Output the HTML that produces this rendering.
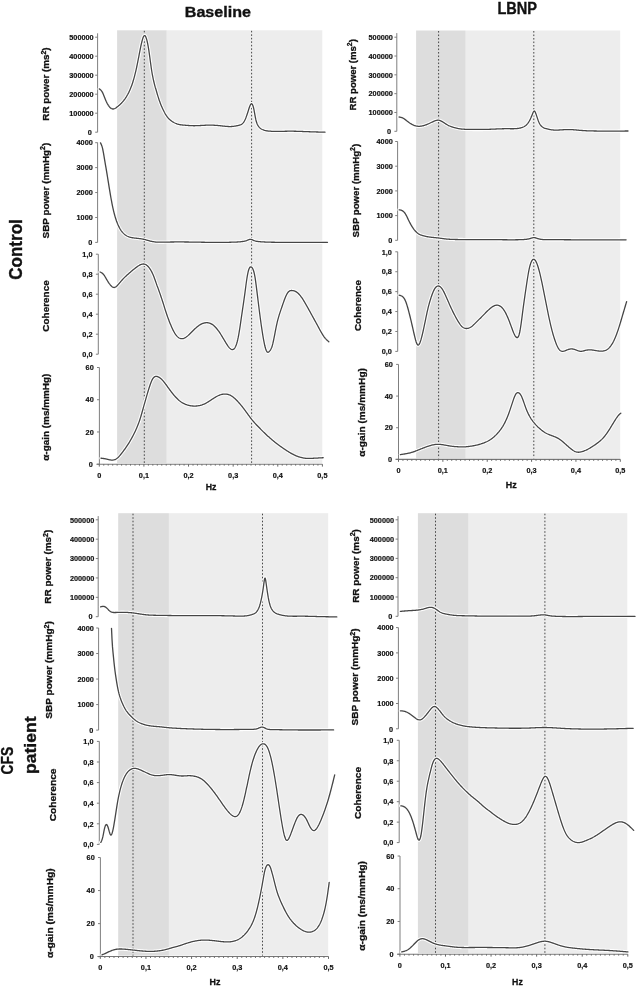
<!DOCTYPE html><html><head><meta charset="utf-8"><style>html,body{margin:0;padding:0;background:#fff;}svg{display:block;will-change:transform;}</style></head><body>
<svg width="636" height="987" viewBox="0 0 636 987" font-family='"Liberation Sans", sans-serif' font-weight="bold">
<rect width="636" height="987" fill="#fff"/>
<text x="184.8" y="17" font-size="15.3" textLength="66.1" lengthAdjust="spacingAndGlyphs" fill="#111" stroke="#111" stroke-width="0.35">Baseline</text>
<text x="497.4" y="14.0" font-size="15.6" textLength="39.6" lengthAdjust="spacingAndGlyphs" fill="#111" stroke="#111" stroke-width="0.35">LBNP</text>
<text transform="translate(21.5,279.8) rotate(-90)" font-size="18" textLength="60.6" lengthAdjust="spacingAndGlyphs" fill="#111" stroke="#111" stroke-width="0.35">Control</text>
<text transform="translate(12.5,774.4) rotate(-90)" font-size="16.6" textLength="27.6" lengthAdjust="spacingAndGlyphs" fill="#111" stroke="#111" stroke-width="0.35">CFS</text>
<text transform="translate(36.0,774.0) rotate(-90)" font-size="16.6" textLength="57.6" lengthAdjust="spacingAndGlyphs" fill="#111" stroke="#111" stroke-width="0.35">patient</text>
<rect x="166.7" y="30.3" width="155.60" height="432.80" fill="#ededed"/>
<rect x="117.1" y="30.3" width="49.60" height="432.80" fill="#dddddd"/>
<line x1="144.3" y1="30.8" x2="144.3" y2="463.1" stroke="#474747" stroke-width="1" stroke-dasharray="1.6 1.9"/>
<line x1="251.6" y1="30.8" x2="251.6" y2="463.1" stroke="#474747" stroke-width="1" stroke-dasharray="1.6 1.9"/>
<line x1="97.6" y1="33.3" x2="97.6" y2="132.2" stroke="#7f7f7f" stroke-width="1"/>
<line x1="95.20" y1="132.20" x2="97.6" y2="132.20" stroke="#7f7f7f" stroke-width="1"/>
<text x="91.90" y="134.95" font-size="7.9" text-anchor="end" textLength="4.06" lengthAdjust="spacingAndGlyphs" fill="#111" stroke="#111" stroke-width="0.2">0</text>
<line x1="95.20" y1="113.20" x2="97.6" y2="113.20" stroke="#7f7f7f" stroke-width="1"/>
<text x="93.70" y="115.95" font-size="7.9" text-anchor="end" textLength="24.38" lengthAdjust="spacingAndGlyphs" fill="#111" stroke="#111" stroke-width="0.2">100000</text>
<line x1="95.20" y1="94.20" x2="97.6" y2="94.20" stroke="#7f7f7f" stroke-width="1"/>
<text x="93.70" y="96.95" font-size="7.9" text-anchor="end" textLength="24.38" lengthAdjust="spacingAndGlyphs" fill="#111" stroke="#111" stroke-width="0.2">200000</text>
<line x1="95.20" y1="75.20" x2="97.6" y2="75.20" stroke="#7f7f7f" stroke-width="1"/>
<text x="93.70" y="77.95" font-size="7.9" text-anchor="end" textLength="24.38" lengthAdjust="spacingAndGlyphs" fill="#111" stroke="#111" stroke-width="0.2">300000</text>
<line x1="95.20" y1="56.20" x2="97.6" y2="56.20" stroke="#7f7f7f" stroke-width="1"/>
<text x="93.70" y="58.95" font-size="7.9" text-anchor="end" textLength="24.38" lengthAdjust="spacingAndGlyphs" fill="#111" stroke="#111" stroke-width="0.2">400000</text>
<line x1="95.20" y1="37.20" x2="97.6" y2="37.20" stroke="#7f7f7f" stroke-width="1"/>
<text x="93.70" y="39.95" font-size="7.9" text-anchor="end" textLength="24.38" lengthAdjust="spacingAndGlyphs" fill="#111" stroke="#111" stroke-width="0.2">500000</text>
<text transform="translate(49.00,84.0) rotate(-90)" font-size="9.6" text-anchor="middle" textLength="73.3" lengthAdjust="spacingAndGlyphs" fill="#111" stroke="#111" stroke-width="0.3">RR power (ms<tspan font-size="6.8" dy="-3.4">2</tspan><tspan dy="3.4">)</tspan></text>
<g fill="none" stroke-linejoin="round" stroke-linecap="round"><defs><path id="cTL_RR" d="M99.3 88.90 L99.8 89.25 100.3 89.63 100.8 90.07 101.3 90.62 101.8 91.29 102.3 92.13 102.8 93.11 103.3 94.23 103.8 95.42 104.3 96.68 104.8 97.95 105.3 99.20 105.8 100.41 106.3 101.55 106.8 102.60 107.3 103.57 107.8 104.46 108.3 105.27 108.8 106.00 109.3 106.66 109.8 107.23 110.3 107.73 110.8 108.14 111.3 108.48 111.8 108.73 112.3 108.90 112.8 108.99 113.3 108.99 113.8 108.91 114.3 108.75 114.8 108.53 115.3 108.26 115.8 107.95 116.3 107.60 116.8 107.22 117.3 106.83 117.8 106.43 118.3 106.02 118.8 105.59 119.3 105.15 119.8 104.70 120.3 104.23 120.8 103.74 121.3 103.24 121.8 102.71 122.3 102.17 122.8 101.60 123.3 101.01 123.8 100.39 124.3 99.74 124.8 99.07 125.3 98.36 125.8 97.62 126.3 96.85 126.8 96.03 127.3 95.18 127.8 94.29 128.3 93.35 128.8 92.37 129.3 91.33 129.8 90.23 130.3 89.07 130.8 87.84 131.3 86.54 131.8 85.17 132.3 83.72 132.8 82.18 133.3 80.56 133.8 78.85 134.3 77.05 134.8 75.14 135.3 73.14 135.8 71.03 136.3 68.81 136.8 66.50 137.3 64.10 137.8 61.63 138.3 59.11 138.8 56.56 139.3 53.99 139.8 51.43 140.3 48.91 140.8 46.48 141.3 44.17 141.8 42.03 142.3 40.09 142.8 38.41 143.3 37.07 143.8 36.11 144.3 35.61 144.8 35.59 145.3 36.04 145.8 36.92 146.3 38.23 146.8 39.92 147.3 41.98 147.8 44.40 148.3 47.15 148.8 50.22 149.3 53.61 149.8 57.23 150.3 60.98 150.8 64.70 151.3 68.26 151.8 71.52 152.3 74.41 152.8 76.99 153.3 79.33 153.8 81.50 154.3 83.57 154.8 85.54 155.3 87.44 155.9 89.26 156.4 91.03 156.9 92.76 157.4 94.45 157.9 96.09 158.4 97.68 158.9 99.21 159.4 100.68 159.9 102.09 160.4 103.43 160.9 104.71 161.4 105.93 161.9 107.10 162.4 108.22 162.9 109.30 163.4 110.34 163.9 111.33 164.4 112.29 164.9 113.20 165.4 114.07 165.9 114.88 166.4 115.65 166.9 116.36 167.4 117.03 167.9 117.64 168.4 118.21 168.9 118.74 169.4 119.23 169.9 119.69 170.4 120.12 170.9 120.52 171.4 120.90 171.9 121.26 172.4 121.60 172.9 121.92 173.4 122.22 173.9 122.51 174.4 122.78 174.9 123.03 175.4 123.26 175.9 123.48 176.4 123.68 176.9 123.87 177.4 124.04 177.9 124.19 178.4 124.33 178.9 124.45 179.4 124.57 179.9 124.67 180.4 124.75 180.9 124.83 181.4 124.90 181.9 124.96 182.4 125.02 182.9 125.07 183.4 125.11 183.9 125.15 184.4 125.19 184.9 125.22 185.4 125.26 185.9 125.29 186.4 125.33 186.9 125.37 187.4 125.40 187.9 125.44 188.4 125.48 188.9 125.52 189.4 125.56 189.9 125.59 190.4 125.62 190.9 125.65 191.4 125.68 191.9 125.70 192.4 125.71 192.9 125.72 193.4 125.73 193.9 125.73 194.4 125.73 194.9 125.73 195.4 125.72 195.9 125.71 196.4 125.69 196.9 125.68 197.4 125.66 197.9 125.64 198.4 125.61 198.9 125.59 199.4 125.56 199.9 125.54 200.4 125.51 200.9 125.48 201.4 125.45 201.9 125.42 202.4 125.39 202.9 125.36 203.4 125.34 203.9 125.31 204.4 125.28 204.9 125.26 205.4 125.24 205.9 125.22 206.4 125.20 206.9 125.18 207.4 125.17 207.9 125.16 208.4 125.15 208.9 125.15 209.4 125.14 209.9 125.14 210.4 125.15 210.9 125.15 211.4 125.16 211.9 125.17 212.4 125.18 212.9 125.20 213.4 125.21 213.9 125.23 214.4 125.26 214.9 125.28 215.4 125.31 215.9 125.34 216.4 125.38 216.9 125.42 217.4 125.45 217.9 125.50 218.4 125.54 218.9 125.59 219.4 125.64 219.9 125.69 220.4 125.75 220.9 125.81 221.4 125.86 221.9 125.92 222.4 125.98 222.9 126.04 223.4 126.10 223.9 126.15 224.4 126.21 224.9 126.26 225.4 126.31 225.9 126.35 226.4 126.40 226.9 126.43 227.4 126.47 227.9 126.50 228.4 126.52 228.9 126.53 229.4 126.54 229.9 126.55 230.4 126.54 230.9 126.53 231.4 126.51 231.9 126.48 232.4 126.44 232.9 126.39 233.4 126.34 233.9 126.28 234.4 126.21 234.9 126.13 235.4 126.04 235.9 125.95 236.4 125.85 236.9 125.75 237.4 125.64 237.9 125.52 238.4 125.40 238.9 125.27 239.4 125.14 239.9 125.00 240.4 124.83 240.9 124.63 241.4 124.37 241.9 124.05 242.4 123.65 242.9 123.16 243.4 122.56 243.9 121.84 244.4 120.99 244.9 120.01 245.4 118.90 245.9 117.68 246.4 116.36 246.9 114.96 247.4 113.48 247.9 111.93 248.4 110.34 248.9 108.75 249.4 107.25 249.9 105.92 250.4 104.84 250.9 104.09 251.4 103.75 251.9 103.88 252.4 104.50 252.9 105.63 253.4 107.27 253.9 109.45 254.4 112.08 254.9 114.89 255.4 117.61 255.9 119.96 256.4 121.83 256.9 123.30 257.4 124.46 257.9 125.38 258.4 126.16 258.9 126.83 259.4 127.41 259.9 127.91 260.4 128.34 260.9 128.71 261.4 129.02 261.9 129.29 262.4 129.53 262.9 129.75 263.4 129.94 263.9 130.12 264.4 130.28 264.9 130.42 265.4 130.54 265.9 130.66 266.4 130.76 266.9 130.84 267.4 130.92 267.9 130.99 268.4 131.05 269.0 131.10 269.5 131.14 270.0 131.18 270.5 131.22 271.0 131.25 271.5 131.28 272.0 131.30 272.5 131.32 273.0 131.34 273.5 131.36 274.0 131.37 274.5 131.39 275.0 131.39 275.5 131.40 276.0 131.40 276.5 131.41 277.0 131.41 277.5 131.41 278.0 131.40 278.5 131.40 279.0 131.39 279.5 131.38 280.0 131.38 280.5 131.37 281.0 131.36 281.5 131.35 282.0 131.34 282.5 131.32 283.0 131.31 283.5 131.30 284.0 131.29 284.5 131.28 285.0 131.27 285.5 131.25 286.0 131.24 286.5 131.23 287.0 131.23 287.5 131.22 288.0 131.21 288.5 131.20 289.0 131.20 289.5 131.20 290.0 131.20 290.5 131.20 291.0 131.20 291.5 131.20 292.0 131.20 292.5 131.21 293.0 131.22 293.5 131.22 294.0 131.23 294.5 131.24 295.0 131.25 295.5 131.26 296.0 131.27 296.5 131.29 297.0 131.30 297.5 131.32 298.0 131.33 298.5 131.35 299.0 131.36 299.5 131.38 300.0 131.40 300.5 131.42 301.0 131.43 301.5 131.45 302.0 131.47 302.5 131.49 303.0 131.51 303.5 131.53 304.0 131.55 304.5 131.57 305.0 131.59 305.5 131.61 306.0 131.63 306.5 131.65 307.0 131.67 307.5 131.68 308.0 131.70 308.5 131.72 309.0 131.74 309.5 131.76 310.0 131.77 310.5 131.79 311.0 131.81 311.5 131.82 312.0 131.84 312.5 131.86 313.0 131.87 313.5 131.89 314.0 131.90 314.5 131.92 315.0 131.93 315.5 131.95 316.0 131.96 316.5 131.98 317.0 131.99 317.5 132.00 318.0 132.02 318.5 132.03 319.0 132.04 319.5 132.06 320.0 132.07 320.5 132.08 321.0 132.10 321.5 132.11 322.0 132.12 322.5 132.14 323.0 132.15 323.5 132.16 324.0 132.17 324.5 132.19 325.0 132.20"/></defs><use href="#cTL_RR" stroke="#fff" stroke-width="3.4"/><use href="#cTL_RR" stroke="#464646" stroke-width="1.3"/></g>
<line x1="97.6" y1="142.5" x2="97.6" y2="242.4" stroke="#7f7f7f" stroke-width="1"/>
<line x1="95.20" y1="242.40" x2="97.6" y2="242.40" stroke="#7f7f7f" stroke-width="1"/>
<text x="92.30" y="245.15" font-size="7.9" text-anchor="end" textLength="4.06" lengthAdjust="spacingAndGlyphs" fill="#111" stroke="#111" stroke-width="0.2">0</text>
<line x1="95.20" y1="217.47" x2="97.6" y2="217.47" stroke="#7f7f7f" stroke-width="1"/>
<text x="92.80" y="220.22" font-size="7.9" text-anchor="end" textLength="16.25" lengthAdjust="spacingAndGlyphs" fill="#111" stroke="#111" stroke-width="0.2">1000</text>
<line x1="95.20" y1="192.55" x2="97.6" y2="192.55" stroke="#7f7f7f" stroke-width="1"/>
<text x="92.80" y="195.30" font-size="7.9" text-anchor="end" textLength="16.25" lengthAdjust="spacingAndGlyphs" fill="#111" stroke="#111" stroke-width="0.2">2000</text>
<line x1="95.20" y1="167.62" x2="97.6" y2="167.62" stroke="#7f7f7f" stroke-width="1"/>
<text x="92.80" y="170.38" font-size="7.9" text-anchor="end" textLength="16.25" lengthAdjust="spacingAndGlyphs" fill="#111" stroke="#111" stroke-width="0.2">3000</text>
<line x1="95.20" y1="142.70" x2="97.6" y2="142.70" stroke="#7f7f7f" stroke-width="1"/>
<text x="92.80" y="145.45" font-size="7.9" text-anchor="end" textLength="16.25" lengthAdjust="spacingAndGlyphs" fill="#111" stroke="#111" stroke-width="0.2">4000</text>
<text transform="translate(48.60,190.6) rotate(-90)" font-size="9.6" text-anchor="middle" textLength="95.7" lengthAdjust="spacingAndGlyphs" fill="#111" stroke="#111" stroke-width="0.3">SBP power (mmHg<tspan font-size="6.8" dy="-3.4">2</tspan><tspan dy="3.4">)</tspan></text>
<g fill="none" stroke-linejoin="round" stroke-linecap="round"><defs><path id="cTL_SBP" d="M100.5 142.90 L101.0 143.87 101.5 144.99 102.0 146.39 102.5 148.20 103.0 150.51 103.5 153.18 104.0 156.09 104.5 159.10 105.0 162.08 105.5 165.02 106.0 167.95 106.5 170.90 107.0 173.91 107.5 176.98 108.0 180.08 108.5 183.21 109.0 186.32 109.5 189.41 110.0 192.44 110.5 195.39 111.0 198.24 111.5 200.97 112.0 203.57 112.5 206.03 113.0 208.36 113.5 210.55 114.0 212.60 114.5 214.52 115.0 216.31 115.5 217.98 116.0 219.53 116.5 220.99 117.0 222.34 117.5 223.61 118.0 224.79 118.5 225.89 119.0 226.92 119.5 227.87 120.0 228.76 120.5 229.58 121.0 230.35 121.5 231.06 122.0 231.72 122.5 232.33 123.0 232.89 123.5 233.40 124.0 233.88 124.5 234.32 125.0 234.71 125.5 235.08 126.0 235.41 126.5 235.72 127.0 236.00 127.5 236.25 128.0 236.48 128.5 236.69 129.0 236.88 129.5 237.04 130.0 237.20 130.5 237.33 131.0 237.45 131.5 237.56 132.0 237.66 132.5 237.75 133.0 237.83 133.5 237.91 134.0 237.98 134.5 238.04 135.0 238.10 135.5 238.16 136.0 238.21 136.5 238.26 137.0 238.31 137.5 238.36 138.0 238.42 138.5 238.47 139.0 238.53 139.5 238.58 140.0 238.65 140.5 238.71 141.0 238.79 141.5 238.86 142.0 238.95 142.5 239.04 143.0 239.14 143.5 239.24 144.0 239.35 144.5 239.47 145.0 239.60 145.5 239.73 146.0 239.87 146.5 240.01 147.0 240.16 147.5 240.30 148.0 240.45 148.5 240.59 149.0 240.73 149.5 240.87 150.0 241.01 150.5 241.13 151.0 241.25 151.5 241.37 152.0 241.47 152.5 241.57 153.0 241.65 153.5 241.73 154.0 241.81 154.5 241.87 155.0 241.93 155.5 241.99 156.0 242.03 156.5 242.07 157.0 242.11 157.5 242.14 158.0 242.16 158.5 242.18 159.0 242.20 159.5 242.21 160.0 242.22 160.5 242.22 161.0 242.22 161.5 242.22 162.0 242.22 162.5 242.21 163.0 242.20 163.5 242.19 164.0 242.18 164.5 242.17 165.0 242.16 165.5 242.14 166.0 242.13 166.5 242.11 167.0 242.10 167.5 242.09 168.0 242.07 168.5 242.06 169.0 242.05 169.5 242.04 170.0 242.03 170.5 242.02 171.0 242.01 171.5 242.01 172.0 242.00 172.5 241.99 173.0 241.99 173.5 241.98 174.0 241.98 174.5 241.97 175.0 241.97 175.5 241.96 176.0 241.96 176.5 241.96 177.0 241.96 177.5 241.96 178.0 241.95 178.5 241.95 179.0 241.95 179.5 241.95 180.0 241.95 180.5 241.96 181.0 241.96 181.5 241.96 182.0 241.96 182.5 241.96 183.0 241.97 183.5 241.97 184.0 241.97 184.5 241.98 185.0 241.98 185.5 241.99 186.0 241.99 186.5 242.00 187.0 242.00 187.5 242.01 188.0 242.01 188.5 242.02 189.0 242.03 189.5 242.03 190.0 242.04 190.5 242.05 191.0 242.05 191.5 242.06 192.0 242.07 192.5 242.08 193.0 242.08 193.5 242.09 194.0 242.10 194.5 242.11 195.0 242.12 195.5 242.12 196.0 242.13 196.5 242.14 197.0 242.15 197.5 242.16 198.0 242.17 198.5 242.17 199.0 242.18 199.5 242.19 200.0 242.20 200.5 242.21 201.0 242.22 201.5 242.23 202.0 242.23 202.5 242.24 203.0 242.25 203.5 242.26 204.0 242.27 204.5 242.27 205.0 242.28 205.5 242.29 206.0 242.30 206.5 242.30 207.0 242.31 207.5 242.32 208.0 242.32 208.5 242.33 209.0 242.34 209.5 242.34 210.0 242.35 210.5 242.35 211.0 242.36 211.5 242.36 212.0 242.37 212.5 242.37 213.0 242.38 213.5 242.38 214.0 242.38 214.5 242.39 215.0 242.39 215.5 242.39 216.0 242.39 216.5 242.40 217.0 242.40 217.5 242.40 218.0 242.40 218.5 242.40 219.0 242.40 219.5 242.40 220.0 242.40 220.5 242.39 221.0 242.39 221.5 242.39 222.0 242.39 222.5 242.38 223.0 242.38 223.5 242.37 224.0 242.37 224.5 242.36 225.0 242.36 225.5 242.35 226.0 242.34 226.5 242.34 227.0 242.33 227.5 242.32 228.0 242.31 228.5 242.30 229.0 242.29 229.5 242.27 230.0 242.26 230.5 242.25 231.0 242.24 231.5 242.22 232.0 242.21 232.5 242.19 233.0 242.17 233.5 242.16 234.0 242.14 234.5 242.12 235.0 242.10 235.5 242.08 236.0 242.06 236.5 242.04 237.0 242.01 237.5 241.98 238.0 241.95 238.5 241.92 239.0 241.89 239.5 241.85 240.0 241.80 240.5 241.76 241.0 241.70 241.5 241.65 242.0 241.58 242.5 241.51 243.0 241.44 243.5 241.36 244.0 241.27 244.5 241.16 245.0 241.05 245.5 240.92 246.0 240.77 246.5 240.61 247.0 240.42 247.5 240.21 248.0 239.99 248.5 239.78 249.0 239.58 249.5 239.42 250.0 239.32 250.5 239.30 251.0 239.37 251.5 239.50 252.0 239.68 252.5 239.90 253.0 240.13 253.5 240.36 254.0 240.56 254.5 240.75 255.0 240.91 255.5 241.05 256.0 241.17 256.5 241.28 257.0 241.37 257.5 241.45 258.0 241.51 258.5 241.57 259.0 241.62 259.5 241.67 260.0 241.71 260.5 241.75 261.0 241.79 261.5 241.82 262.0 241.86 262.5 241.89 263.0 241.92 263.5 241.95 264.0 241.97 264.5 242.00 265.0 242.02 265.5 242.05 266.0 242.07 266.5 242.09 267.0 242.11 267.5 242.13 268.0 242.14 268.5 242.16 269.0 242.17 269.5 242.18 270.0 242.20 270.5 242.21 271.0 242.22 271.5 242.23 272.0 242.24 272.5 242.25 273.0 242.25 273.5 242.26 274.0 242.27 274.5 242.27 275.0 242.28 275.5 242.28 276.0 242.29 276.5 242.29 277.0 242.30 277.5 242.30 278.0 242.31 278.5 242.31 279.0 242.31 279.5 242.32 280.0 242.32 280.5 242.33 281.0 242.33 281.5 242.33 282.0 242.34 282.5 242.34 283.0 242.34 283.5 242.34 284.0 242.35 284.5 242.35 285.0 242.35 285.5 242.36 286.0 242.36 286.5 242.36 287.0 242.36 287.5 242.36 288.0 242.37 288.5 242.37 289.0 242.37 289.5 242.37 290.0 242.37 290.5 242.37 291.0 242.38 291.5 242.38 292.0 242.38 292.5 242.38 293.0 242.38 293.5 242.38 294.0 242.38 294.5 242.38 295.0 242.38 295.5 242.38 296.0 242.38 296.5 242.38 297.0 242.38 297.5 242.38 298.0 242.38 298.5 242.38 299.0 242.38 299.5 242.38 300.0 242.38 300.5 242.38 301.0 242.38 301.5 242.38 302.0 242.38 302.5 242.38 303.0 242.38 303.5 242.38 304.0 242.38 304.5 242.38 305.0 242.38 305.5 242.38 306.0 242.38 306.5 242.38 307.0 242.37 307.5 242.37 308.0 242.37 308.5 242.37 309.0 242.37 309.5 242.37 310.0 242.37 310.5 242.37 311.0 242.36 311.5 242.36 312.0 242.36 312.5 242.36 313.0 242.36 313.5 242.36 314.0 242.35 314.5 242.35 315.0 242.35 315.5 242.35 316.0 242.35 316.5 242.35 317.0 242.34 317.5 242.34 318.0 242.34 318.5 242.34 319.0 242.34 319.5 242.33 320.0 242.33 320.5 242.33 321.0 242.33 321.5 242.33 322.0 242.32 322.5 242.32 323.0 242.32 323.5 242.32 324.0 242.32 324.5 242.31 325.0 242.31 325.5 242.31 326.0 242.31 326.5 242.30 327.0 242.30 327.5 242.30"/></defs><use href="#cTL_SBP" stroke="#fff" stroke-width="3.4"/><use href="#cTL_SBP" stroke="#464646" stroke-width="1.3"/></g>
<line x1="98.3" y1="254.2" x2="98.3" y2="354.2" stroke="#7f7f7f" stroke-width="1"/>
<line x1="95.90" y1="354.20" x2="98.3" y2="354.20" stroke="#7f7f7f" stroke-width="1"/>
<text x="92.50" y="356.95" font-size="7.9" text-anchor="end" textLength="10.16" lengthAdjust="spacingAndGlyphs" fill="#111" stroke="#111" stroke-width="0.2">0,0</text>
<line x1="95.90" y1="334.20" x2="98.3" y2="334.20" stroke="#7f7f7f" stroke-width="1"/>
<text x="92.50" y="336.95" font-size="7.9" text-anchor="end" textLength="10.16" lengthAdjust="spacingAndGlyphs" fill="#111" stroke="#111" stroke-width="0.2">0,2</text>
<line x1="95.90" y1="314.20" x2="98.3" y2="314.20" stroke="#7f7f7f" stroke-width="1"/>
<text x="92.50" y="316.95" font-size="7.9" text-anchor="end" textLength="10.16" lengthAdjust="spacingAndGlyphs" fill="#111" stroke="#111" stroke-width="0.2">0,4</text>
<line x1="95.90" y1="294.20" x2="98.3" y2="294.20" stroke="#7f7f7f" stroke-width="1"/>
<text x="92.50" y="296.95" font-size="7.9" text-anchor="end" textLength="10.16" lengthAdjust="spacingAndGlyphs" fill="#111" stroke="#111" stroke-width="0.2">0,6</text>
<line x1="95.90" y1="274.20" x2="98.3" y2="274.20" stroke="#7f7f7f" stroke-width="1"/>
<text x="92.50" y="276.95" font-size="7.9" text-anchor="end" textLength="10.16" lengthAdjust="spacingAndGlyphs" fill="#111" stroke="#111" stroke-width="0.2">0,8</text>
<line x1="95.90" y1="254.20" x2="98.3" y2="254.20" stroke="#7f7f7f" stroke-width="1"/>
<text x="92.50" y="256.95" font-size="7.9" text-anchor="end" textLength="10.16" lengthAdjust="spacingAndGlyphs" fill="#111" stroke="#111" stroke-width="0.2">1,0</text>
<text transform="translate(48.70,306.0) rotate(-90)" font-size="9.6" text-anchor="middle" textLength="51.4" lengthAdjust="spacingAndGlyphs" fill="#111" stroke="#111" stroke-width="0.3">Coherence</text>
<g fill="none" stroke-linejoin="round" stroke-linecap="round"><defs><path id="cTL_COH" d="M100.1 272.00 L100.6 272.24 101.1 272.49 101.6 272.77 102.1 273.11 102.6 273.50 103.1 273.98 103.6 274.56 104.1 275.23 104.6 275.98 105.1 276.78 105.6 277.62 106.1 278.49 106.6 279.36 107.1 280.21 107.6 281.03 108.1 281.82 108.6 282.58 109.1 283.30 109.6 283.97 110.1 284.61 110.6 285.21 111.1 285.76 111.6 286.26 112.1 286.69 112.6 287.04 113.1 287.30 113.6 287.46 114.1 287.50 114.6 287.42 115.1 287.24 115.6 286.96 116.1 286.60 116.6 286.17 117.1 285.70 117.6 285.18 118.1 284.64 118.6 284.08 119.1 283.51 119.6 282.92 120.1 282.33 120.6 281.74 121.1 281.15 121.6 280.56 122.1 279.99 122.6 279.44 123.1 278.90 123.6 278.37 124.1 277.86 124.6 277.37 125.1 276.88 125.6 276.41 126.1 275.94 126.6 275.48 127.1 275.03 127.6 274.58 128.1 274.14 128.6 273.70 129.1 273.27 129.6 272.83 130.1 272.40 130.6 271.97 131.1 271.54 131.6 271.12 132.1 270.70 132.6 270.28 133.1 269.87 133.6 269.46 134.1 269.06 134.6 268.66 135.1 268.26 135.6 267.87 136.1 267.49 136.6 267.12 137.1 266.76 137.6 266.41 138.1 266.08 138.6 265.76 139.1 265.46 139.6 265.19 140.1 264.93 140.6 264.69 141.1 264.48 141.6 264.31 142.1 264.16 142.6 264.06 143.1 264.00 143.6 263.99 144.1 264.03 144.6 264.13 145.1 264.30 145.6 264.52 146.1 264.80 146.6 265.14 147.1 265.53 147.6 265.98 148.1 266.49 148.6 267.05 149.1 267.66 149.6 268.33 150.1 269.06 150.6 269.86 151.1 270.71 151.6 271.64 152.1 272.63 152.6 273.70 153.1 274.84 153.6 276.06 154.1 277.34 154.6 278.68 155.1 280.06 155.6 281.47 156.1 282.90 156.6 284.34 157.1 285.78 157.7 287.21 158.2 288.63 158.7 290.03 159.2 291.44 159.7 292.85 160.2 294.27 160.7 295.71 161.2 297.17 161.7 298.66 162.2 300.18 162.7 301.74 163.2 303.32 163.7 304.91 164.2 306.51 164.7 308.11 165.2 309.69 165.7 311.24 166.2 312.77 166.7 314.26 167.2 315.71 167.7 317.12 168.2 318.50 168.7 319.84 169.2 321.15 169.7 322.42 170.2 323.66 170.7 324.87 171.2 326.05 171.7 327.19 172.2 328.29 172.7 329.35 173.2 330.35 173.7 331.31 174.2 332.20 174.7 333.04 175.2 333.83 175.7 334.55 176.2 335.22 176.7 335.83 177.2 336.38 177.7 336.87 178.2 337.30 178.7 337.68 179.2 337.99 179.7 338.25 180.2 338.45 180.7 338.60 181.2 338.69 181.7 338.72 182.2 338.70 182.7 338.62 183.2 338.51 183.7 338.34 184.2 338.14 184.7 337.89 185.2 337.61 185.7 337.30 186.2 336.96 186.7 336.60 187.2 336.21 187.7 335.80 188.2 335.37 188.7 334.92 189.2 334.46 189.7 333.99 190.2 333.51 190.7 333.02 191.2 332.52 191.7 332.02 192.2 331.52 192.7 331.02 193.2 330.52 193.7 330.03 194.2 329.54 194.7 329.06 195.2 328.59 195.7 328.13 196.2 327.68 196.7 327.24 197.2 326.82 197.7 326.41 198.2 326.02 198.7 325.65 199.2 325.30 199.7 324.97 200.2 324.66 200.7 324.38 201.2 324.11 201.7 323.87 202.2 323.65 202.7 323.45 203.2 323.28 203.7 323.12 204.2 322.99 204.7 322.89 205.2 322.80 205.7 322.74 206.2 322.71 206.7 322.70 207.2 322.71 207.7 322.75 208.2 322.82 208.7 322.91 209.2 323.03 209.7 323.18 210.2 323.36 210.7 323.57 211.2 323.81 211.7 324.08 212.2 324.39 212.7 324.73 213.2 325.10 213.7 325.51 214.2 325.95 214.7 326.42 215.2 326.92 215.7 327.46 216.2 328.02 216.7 328.61 217.2 329.23 217.7 329.87 218.2 330.54 218.7 331.23 219.2 331.95 219.7 332.69 220.2 333.45 220.7 334.23 221.2 335.02 221.7 335.83 222.2 336.64 222.7 337.47 223.2 338.30 223.7 339.14 224.2 339.98 224.7 340.81 225.2 341.65 225.7 342.48 226.2 343.30 226.7 344.10 227.2 344.87 227.7 345.62 228.2 346.32 228.7 346.97 229.2 347.57 229.7 348.11 230.2 348.58 230.7 348.98 231.2 349.28 231.7 349.49 232.2 349.59 232.7 349.58 233.2 349.44 233.7 349.15 234.2 348.70 234.7 348.07 235.2 347.25 235.7 346.22 236.2 344.97 236.7 343.48 237.2 341.74 237.7 339.73 238.2 337.44 238.7 334.84 239.2 331.96 239.7 328.84 240.2 325.55 240.7 322.15 241.2 318.69 241.7 315.24 242.2 311.84 242.7 308.46 243.2 305.08 243.7 301.66 244.2 298.16 244.7 294.54 245.2 290.80 245.7 287.00 246.2 283.28 246.7 279.75 247.2 276.56 247.7 273.80 248.2 271.55 248.7 269.77 249.2 268.45 249.7 267.56 250.2 267.05 250.7 266.86 251.2 266.95 251.7 267.27 252.2 267.84 252.7 268.67 253.2 269.77 253.7 271.21 254.2 273.09 254.7 275.51 255.2 278.47 255.7 281.87 256.2 285.60 256.7 289.55 257.2 293.60 257.7 297.69 258.2 301.75 258.7 305.79 259.2 309.77 259.7 313.67 260.2 317.47 260.7 321.17 261.2 324.73 261.7 328.17 262.2 331.46 262.7 334.60 263.2 337.57 263.7 340.36 264.2 342.94 264.7 345.27 265.2 347.29 265.7 348.99 266.2 350.34 266.7 351.33 267.2 351.98 267.7 352.26 268.2 352.23 268.7 351.96 269.2 351.50 269.7 350.94 270.2 350.31 270.7 349.53 271.2 348.54 271.8 347.26 272.3 345.62 272.8 343.68 273.3 341.49 273.8 339.11 274.3 336.59 274.8 334.01 275.3 331.41 275.8 328.85 276.3 326.39 276.8 324.09 277.3 321.95 277.8 319.95 278.3 318.09 278.8 316.34 279.3 314.68 279.8 313.10 280.3 311.58 280.8 310.10 281.3 308.65 281.8 307.21 282.3 305.76 282.8 304.30 283.3 302.86 283.8 301.44 284.3 300.06 284.8 298.73 285.3 297.47 285.8 296.29 286.3 295.20 286.8 294.22 287.3 293.36 287.8 292.63 288.3 292.03 288.8 291.54 289.3 291.17 289.8 290.88 290.3 290.69 290.8 290.56 291.3 290.51 291.8 290.50 292.3 290.54 292.8 290.61 293.3 290.71 293.8 290.83 294.3 290.98 294.8 291.17 295.3 291.38 295.8 291.63 296.3 291.92 296.8 292.24 297.3 292.60 297.8 293.01 298.3 293.46 298.8 293.96 299.3 294.49 299.8 295.07 300.3 295.69 300.8 296.34 301.3 297.02 301.8 297.73 302.3 298.47 302.8 299.23 303.3 300.02 303.8 300.83 304.3 301.65 304.8 302.49 305.3 303.35 305.8 304.21 306.3 305.09 306.8 305.97 307.3 306.86 307.8 307.76 308.3 308.66 308.8 309.57 309.3 310.48 309.8 311.40 310.3 312.31 310.8 313.23 311.3 314.14 311.8 315.05 312.3 315.96 312.8 316.87 313.3 317.78 313.8 318.68 314.3 319.58 314.8 320.49 315.3 321.39 315.8 322.30 316.3 323.21 316.8 324.13 317.3 325.05 317.8 325.97 318.3 326.90 318.8 327.83 319.3 328.77 319.8 329.70 320.3 330.63 320.8 331.54 321.3 332.43 321.8 333.30 322.3 334.14 322.8 334.95 323.3 335.71 323.8 336.43 324.3 337.11 324.8 337.74 325.3 338.33 325.8 338.89 326.3 339.42 326.8 339.92 327.3 340.41 327.8 340.88 328.3 341.34 328.8 341.80"/></defs><use href="#cTL_COH" stroke="#fff" stroke-width="3.4"/><use href="#cTL_COH" stroke="#464646" stroke-width="1.3"/></g>
<line x1="99.4" y1="367.5" x2="99.4" y2="464.2" stroke="#7f7f7f" stroke-width="1"/>
<line x1="97.00" y1="464.20" x2="99.4" y2="464.20" stroke="#7f7f7f" stroke-width="1"/>
<text x="92.90" y="466.95" font-size="7.9" text-anchor="end" textLength="4.06" lengthAdjust="spacingAndGlyphs" fill="#111" stroke="#111" stroke-width="0.2">0</text>
<line x1="97.00" y1="431.97" x2="99.4" y2="431.97" stroke="#7f7f7f" stroke-width="1"/>
<text x="93.70" y="434.72" font-size="7.9" text-anchor="end" textLength="8.13" lengthAdjust="spacingAndGlyphs" fill="#111" stroke="#111" stroke-width="0.2">20</text>
<line x1="97.00" y1="399.73" x2="99.4" y2="399.73" stroke="#7f7f7f" stroke-width="1"/>
<text x="93.70" y="402.48" font-size="7.9" text-anchor="end" textLength="8.13" lengthAdjust="spacingAndGlyphs" fill="#111" stroke="#111" stroke-width="0.2">40</text>
<line x1="97.00" y1="367.50" x2="99.4" y2="367.50" stroke="#7f7f7f" stroke-width="1"/>
<text x="93.70" y="370.25" font-size="7.9" text-anchor="end" textLength="8.13" lengthAdjust="spacingAndGlyphs" fill="#111" stroke="#111" stroke-width="0.2">60</text>
<text transform="translate(49.10,417.2) rotate(-90)" font-size="9.6" text-anchor="middle" textLength="87.1" lengthAdjust="spacingAndGlyphs" fill="#111" stroke="#111" stroke-width="0.3">α-gain (ms/mmHg)</text>
<g fill="none" stroke-linejoin="round" stroke-linecap="round"><defs><path id="cTL_GAIN" d="M101.0 458.20 L101.5 458.26 102.0 458.31 102.5 458.37 103.0 458.43 103.5 458.50 104.0 458.57 104.5 458.65 105.0 458.74 105.5 458.84 106.0 458.94 106.5 459.06 107.0 459.18 107.5 459.31 108.0 459.44 108.5 459.56 109.0 459.68 109.5 459.79 110.0 459.89 110.5 459.97 111.0 460.04 111.5 460.08 112.0 460.10 112.5 460.09 113.0 460.05 113.5 459.98 114.0 459.88 114.5 459.73 115.0 459.54 115.5 459.31 116.0 459.03 116.5 458.70 117.0 458.33 117.5 457.91 118.0 457.46 118.5 456.97 119.0 456.45 119.5 455.90 120.0 455.32 120.5 454.72 121.0 454.11 121.5 453.48 122.0 452.83 122.5 452.18 123.0 451.53 123.5 450.86 124.0 450.19 124.5 449.51 125.0 448.81 125.5 448.11 126.0 447.39 126.5 446.66 127.0 445.92 127.5 445.16 128.0 444.39 128.5 443.60 129.0 442.80 129.5 441.98 130.0 441.14 130.5 440.28 131.0 439.41 131.5 438.51 132.0 437.60 132.5 436.67 133.0 435.72 133.5 434.75 134.0 433.76 134.5 432.75 135.0 431.72 135.5 430.66 136.0 429.57 136.5 428.45 137.0 427.29 137.5 426.08 138.0 424.83 138.5 423.51 139.0 422.14 139.5 420.69 140.0 419.18 140.5 417.60 141.0 415.95 141.5 414.26 142.0 412.52 142.5 410.76 143.0 408.97 143.5 407.17 144.0 405.38 144.5 403.59 145.0 401.82 145.5 400.06 146.0 398.31 146.5 396.59 147.0 394.88 147.5 393.19 148.0 391.53 148.5 389.89 149.0 388.27 149.5 386.69 150.0 385.18 150.5 383.74 151.0 382.40 151.5 381.18 152.0 380.09 152.5 379.16 153.0 378.38 153.5 377.75 154.0 377.26 154.5 376.89 155.0 376.63 155.5 376.47 156.0 376.40 156.6 376.41 157.1 376.49 157.6 376.62 158.1 376.80 158.6 377.04 159.1 377.31 159.6 377.64 160.1 378.00 160.6 378.41 161.1 378.85 161.6 379.32 162.1 379.83 162.6 380.37 163.1 380.94 163.6 381.53 164.1 382.14 164.6 382.77 165.1 383.42 165.6 384.08 166.1 384.76 166.6 385.44 167.1 386.13 167.6 386.82 168.1 387.52 168.6 388.21 169.1 388.90 169.6 389.58 170.1 390.25 170.6 390.92 171.1 391.58 171.6 392.24 172.1 392.88 172.6 393.51 173.1 394.13 173.6 394.74 174.1 395.33 174.6 395.91 175.1 396.48 175.6 397.03 176.1 397.56 176.6 398.07 177.1 398.57 177.6 399.05 178.1 399.52 178.6 399.96 179.1 400.39 179.6 400.80 180.1 401.19 180.6 401.56 181.1 401.92 181.6 402.26 182.1 402.58 182.6 402.88 183.1 403.17 183.6 403.44 184.1 403.69 184.6 403.93 185.1 404.15 185.6 404.36 186.1 404.55 186.6 404.73 187.1 404.90 187.6 405.05 188.1 405.19 188.6 405.32 189.1 405.44 189.6 405.55 190.1 405.65 190.6 405.74 191.1 405.81 191.6 405.88 192.1 405.94 192.6 405.99 193.1 406.02 193.6 406.05 194.1 406.06 194.6 406.07 195.1 406.06 195.6 406.05 196.1 406.02 196.6 405.99 197.1 405.94 197.6 405.88 198.1 405.81 198.6 405.73 199.1 405.64 199.6 405.54 200.1 405.43 200.6 405.30 201.1 405.16 201.6 405.01 202.1 404.85 202.6 404.67 203.1 404.48 203.6 404.28 204.1 404.06 204.6 403.83 205.1 403.58 205.6 403.32 206.1 403.06 206.6 402.78 207.1 402.49 207.6 402.19 208.1 401.89 208.6 401.58 209.1 401.26 209.6 400.94 210.1 400.62 210.6 400.29 211.1 399.96 211.6 399.63 212.1 399.30 212.6 398.98 213.1 398.65 213.6 398.33 214.1 398.01 214.6 397.69 215.1 397.39 215.6 397.09 216.1 396.80 216.6 396.52 217.1 396.25 217.6 395.99 218.1 395.74 218.6 395.51 219.1 395.30 219.6 395.10 220.1 394.91 220.6 394.75 221.1 394.60 221.6 394.47 222.1 394.35 222.6 394.26 223.1 394.18 223.6 394.12 224.1 394.08 224.6 394.06 225.1 394.05 225.6 394.07 226.1 394.11 226.6 394.17 227.1 394.25 227.6 394.35 228.1 394.47 228.6 394.62 229.1 394.79 229.6 394.98 230.1 395.20 230.6 395.44 231.1 395.71 231.6 396.01 232.1 396.34 232.6 396.69 233.1 397.06 233.6 397.46 234.1 397.88 234.6 398.32 235.1 398.78 235.6 399.25 236.1 399.74 236.6 400.25 237.1 400.77 237.6 401.30 238.1 401.84 238.6 402.39 239.1 402.96 239.6 403.53 240.1 404.11 240.6 404.70 241.1 405.30 241.6 405.91 242.1 406.53 242.6 407.16 243.1 407.80 243.6 408.45 244.1 409.11 244.6 409.78 245.1 410.45 245.6 411.14 246.1 411.83 246.6 412.52 247.1 413.22 247.6 413.92 248.1 414.61 248.6 415.30 249.1 415.99 249.6 416.67 250.1 417.34 250.6 418.01 251.1 418.66 251.6 419.29 252.1 419.92 252.6 420.52 253.1 421.12 253.6 421.70 254.1 422.27 254.6 422.83 255.1 423.37 255.6 423.92 256.1 424.45 256.6 424.98 257.1 425.50 257.6 426.02 258.1 426.53 258.6 427.05 259.1 427.56 259.6 428.07 260.1 428.58 260.6 429.09 261.1 429.59 261.6 430.10 262.1 430.60 262.6 431.10 263.1 431.60 263.6 432.09 264.1 432.58 264.6 433.07 265.1 433.55 265.6 434.03 266.1 434.51 266.6 434.99 267.1 435.46 267.6 435.92 268.2 436.38 268.7 436.84 269.2 437.30 269.7 437.75 270.2 438.19 270.7 438.63 271.2 439.07 271.7 439.50 272.2 439.93 272.7 440.36 273.2 440.77 273.7 441.19 274.2 441.60 274.7 442.01 275.2 442.41 275.7 442.80 276.2 443.20 276.7 443.59 277.2 443.97 277.7 444.35 278.2 444.73 278.7 445.10 279.2 445.46 279.7 445.83 280.2 446.19 280.7 446.54 281.2 446.89 281.7 447.24 282.2 447.59 282.7 447.93 283.2 448.27 283.7 448.61 284.2 448.95 284.7 449.28 285.2 449.61 285.7 449.94 286.2 450.27 286.7 450.60 287.2 450.93 287.7 451.25 288.2 451.57 288.7 451.88 289.2 452.19 289.7 452.50 290.2 452.80 290.7 453.09 291.2 453.38 291.7 453.66 292.2 453.93 292.7 454.20 293.2 454.45 293.7 454.70 294.2 454.95 294.7 455.18 295.2 455.40 295.7 455.62 296.2 455.83 296.7 456.03 297.2 456.23 297.7 456.41 298.2 456.59 298.7 456.76 299.2 456.92 299.7 457.08 300.2 457.23 300.7 457.36 301.2 457.49 301.7 457.62 302.2 457.73 302.7 457.84 303.2 457.93 303.7 458.02 304.2 458.10 304.7 458.17 305.2 458.23 305.7 458.28 306.2 458.32 306.7 458.36 307.2 458.38 307.7 458.40 308.2 458.41 308.7 458.41 309.2 458.41 309.7 458.41 310.2 458.39 310.7 458.38 311.2 458.36 311.7 458.34 312.2 458.32 312.7 458.30 313.2 458.27 313.7 458.25 314.2 458.22 314.7 458.20 315.2 458.17 315.7 458.14 316.2 458.11 316.7 458.09 317.2 458.06 317.7 458.03 318.2 458.00 318.7 457.97 319.2 457.94 319.7 457.91 320.2 457.88 320.7 457.85 321.2 457.82 321.7 457.79 322.2 457.76 322.7 457.73 323.2 457.70"/></defs><use href="#cTL_GAIN" stroke="#fff" stroke-width="3.4"/><use href="#cTL_GAIN" stroke="#464646" stroke-width="1.3"/></g>
<line x1="96.4" y1="464.2" x2="322.4" y2="464.2" stroke="#777" stroke-width="1.1"/>
<line x1="99.30" y1="464.2" x2="99.30" y2="466.59999999999997" stroke="#666" stroke-width="1"/>
<line x1="103.76" y1="464.2" x2="103.76" y2="465.59999999999997" stroke="#666" stroke-width="1"/>
<line x1="108.22" y1="464.2" x2="108.22" y2="465.59999999999997" stroke="#666" stroke-width="1"/>
<line x1="112.69" y1="464.2" x2="112.69" y2="465.59999999999997" stroke="#666" stroke-width="1"/>
<line x1="117.15" y1="464.2" x2="117.15" y2="465.59999999999997" stroke="#666" stroke-width="1"/>
<line x1="121.61" y1="464.2" x2="121.61" y2="465.59999999999997" stroke="#666" stroke-width="1"/>
<line x1="126.07" y1="464.2" x2="126.07" y2="465.59999999999997" stroke="#666" stroke-width="1"/>
<line x1="130.53" y1="464.2" x2="130.53" y2="465.59999999999997" stroke="#666" stroke-width="1"/>
<line x1="135.00" y1="464.2" x2="135.00" y2="465.59999999999997" stroke="#666" stroke-width="1"/>
<line x1="139.46" y1="464.2" x2="139.46" y2="465.59999999999997" stroke="#666" stroke-width="1"/>
<line x1="143.92" y1="464.2" x2="143.92" y2="466.59999999999997" stroke="#666" stroke-width="1"/>
<line x1="148.38" y1="464.2" x2="148.38" y2="465.59999999999997" stroke="#666" stroke-width="1"/>
<line x1="152.84" y1="464.2" x2="152.84" y2="465.59999999999997" stroke="#666" stroke-width="1"/>
<line x1="157.31" y1="464.2" x2="157.31" y2="465.59999999999997" stroke="#666" stroke-width="1"/>
<line x1="161.77" y1="464.2" x2="161.77" y2="465.59999999999997" stroke="#666" stroke-width="1"/>
<line x1="166.23" y1="464.2" x2="166.23" y2="465.59999999999997" stroke="#666" stroke-width="1"/>
<line x1="170.69" y1="464.2" x2="170.69" y2="465.59999999999997" stroke="#666" stroke-width="1"/>
<line x1="175.15" y1="464.2" x2="175.15" y2="465.59999999999997" stroke="#666" stroke-width="1"/>
<line x1="179.62" y1="464.2" x2="179.62" y2="465.59999999999997" stroke="#666" stroke-width="1"/>
<line x1="184.08" y1="464.2" x2="184.08" y2="465.59999999999997" stroke="#666" stroke-width="1"/>
<line x1="188.54" y1="464.2" x2="188.54" y2="466.59999999999997" stroke="#666" stroke-width="1"/>
<line x1="193.00" y1="464.2" x2="193.00" y2="465.59999999999997" stroke="#666" stroke-width="1"/>
<line x1="197.46" y1="464.2" x2="197.46" y2="465.59999999999997" stroke="#666" stroke-width="1"/>
<line x1="201.93" y1="464.2" x2="201.93" y2="465.59999999999997" stroke="#666" stroke-width="1"/>
<line x1="206.39" y1="464.2" x2="206.39" y2="465.59999999999997" stroke="#666" stroke-width="1"/>
<line x1="210.85" y1="464.2" x2="210.85" y2="465.59999999999997" stroke="#666" stroke-width="1"/>
<line x1="215.31" y1="464.2" x2="215.31" y2="465.59999999999997" stroke="#666" stroke-width="1"/>
<line x1="219.77" y1="464.2" x2="219.77" y2="465.59999999999997" stroke="#666" stroke-width="1"/>
<line x1="224.24" y1="464.2" x2="224.24" y2="465.59999999999997" stroke="#666" stroke-width="1"/>
<line x1="228.70" y1="464.2" x2="228.70" y2="465.59999999999997" stroke="#666" stroke-width="1"/>
<line x1="233.16" y1="464.2" x2="233.16" y2="466.59999999999997" stroke="#666" stroke-width="1"/>
<line x1="237.62" y1="464.2" x2="237.62" y2="465.59999999999997" stroke="#666" stroke-width="1"/>
<line x1="242.08" y1="464.2" x2="242.08" y2="465.59999999999997" stroke="#666" stroke-width="1"/>
<line x1="246.55" y1="464.2" x2="246.55" y2="465.59999999999997" stroke="#666" stroke-width="1"/>
<line x1="251.01" y1="464.2" x2="251.01" y2="465.59999999999997" stroke="#666" stroke-width="1"/>
<line x1="255.47" y1="464.2" x2="255.47" y2="465.59999999999997" stroke="#666" stroke-width="1"/>
<line x1="259.93" y1="464.2" x2="259.93" y2="465.59999999999997" stroke="#666" stroke-width="1"/>
<line x1="264.39" y1="464.2" x2="264.39" y2="465.59999999999997" stroke="#666" stroke-width="1"/>
<line x1="268.86" y1="464.2" x2="268.86" y2="465.59999999999997" stroke="#666" stroke-width="1"/>
<line x1="273.32" y1="464.2" x2="273.32" y2="465.59999999999997" stroke="#666" stroke-width="1"/>
<line x1="277.78" y1="464.2" x2="277.78" y2="466.59999999999997" stroke="#666" stroke-width="1"/>
<line x1="282.24" y1="464.2" x2="282.24" y2="465.59999999999997" stroke="#666" stroke-width="1"/>
<line x1="286.70" y1="464.2" x2="286.70" y2="465.59999999999997" stroke="#666" stroke-width="1"/>
<line x1="291.17" y1="464.2" x2="291.17" y2="465.59999999999997" stroke="#666" stroke-width="1"/>
<line x1="295.63" y1="464.2" x2="295.63" y2="465.59999999999997" stroke="#666" stroke-width="1"/>
<line x1="300.09" y1="464.2" x2="300.09" y2="465.59999999999997" stroke="#666" stroke-width="1"/>
<line x1="304.55" y1="464.2" x2="304.55" y2="465.59999999999997" stroke="#666" stroke-width="1"/>
<line x1="309.01" y1="464.2" x2="309.01" y2="465.59999999999997" stroke="#666" stroke-width="1"/>
<line x1="313.48" y1="464.2" x2="313.48" y2="465.59999999999997" stroke="#666" stroke-width="1"/>
<line x1="317.94" y1="464.2" x2="317.94" y2="465.59999999999997" stroke="#666" stroke-width="1"/>
<line x1="322.40" y1="464.2" x2="322.40" y2="466.59999999999997" stroke="#666" stroke-width="1"/>
<text x="99.30" y="477.85" font-size="7.9" text-anchor="middle" textLength="4.06" lengthAdjust="spacingAndGlyphs" fill="#111" stroke="#111" stroke-width="0.2">0</text>
<text x="143.92" y="477.85" font-size="7.9" text-anchor="middle" textLength="10.16" lengthAdjust="spacingAndGlyphs" fill="#111" stroke="#111" stroke-width="0.2">0,1</text>
<text x="188.54" y="477.85" font-size="7.9" text-anchor="middle" textLength="10.16" lengthAdjust="spacingAndGlyphs" fill="#111" stroke="#111" stroke-width="0.2">0,2</text>
<text x="233.16" y="477.85" font-size="7.9" text-anchor="middle" textLength="10.16" lengthAdjust="spacingAndGlyphs" fill="#111" stroke="#111" stroke-width="0.2">0,3</text>
<text x="277.78" y="477.85" font-size="7.9" text-anchor="middle" textLength="10.16" lengthAdjust="spacingAndGlyphs" fill="#111" stroke="#111" stroke-width="0.2">0,4</text>
<text x="322.40" y="477.85" font-size="7.9" text-anchor="middle" textLength="10.16" lengthAdjust="spacingAndGlyphs" fill="#111" stroke="#111" stroke-width="0.2">0,5</text>
<text x="205.8" y="489.6" font-size="9.7" textLength="10.7" lengthAdjust="spacingAndGlyphs" fill="#111" stroke="#111" stroke-width="0.3">Hz</text>
<rect x="465.6" y="30.5" width="154.60" height="427.80" fill="#ededed"/>
<rect x="416.1" y="30.5" width="49.50" height="427.80" fill="#dddddd"/>
<line x1="438.6" y1="31.0" x2="438.6" y2="458.3" stroke="#474747" stroke-width="1" stroke-dasharray="1.6 1.9"/>
<line x1="533.8" y1="31.0" x2="533.8" y2="458.3" stroke="#474747" stroke-width="1" stroke-dasharray="1.6 1.9"/>
<line x1="396.8" y1="33.1" x2="396.8" y2="131.3" stroke="#7f7f7f" stroke-width="1"/>
<line x1="394.40" y1="131.30" x2="396.8" y2="131.30" stroke="#7f7f7f" stroke-width="1"/>
<text x="391.10" y="134.05" font-size="7.9" text-anchor="end" textLength="4.06" lengthAdjust="spacingAndGlyphs" fill="#111" stroke="#111" stroke-width="0.2">0</text>
<line x1="394.40" y1="112.48" x2="396.8" y2="112.48" stroke="#7f7f7f" stroke-width="1"/>
<text x="392.90" y="115.23" font-size="7.9" text-anchor="end" textLength="24.38" lengthAdjust="spacingAndGlyphs" fill="#111" stroke="#111" stroke-width="0.2">100000</text>
<line x1="394.40" y1="93.66" x2="396.8" y2="93.66" stroke="#7f7f7f" stroke-width="1"/>
<text x="392.90" y="96.41" font-size="7.9" text-anchor="end" textLength="24.38" lengthAdjust="spacingAndGlyphs" fill="#111" stroke="#111" stroke-width="0.2">200000</text>
<line x1="394.40" y1="74.84" x2="396.8" y2="74.84" stroke="#7f7f7f" stroke-width="1"/>
<text x="392.90" y="77.59" font-size="7.9" text-anchor="end" textLength="24.38" lengthAdjust="spacingAndGlyphs" fill="#111" stroke="#111" stroke-width="0.2">300000</text>
<line x1="394.40" y1="56.02" x2="396.8" y2="56.02" stroke="#7f7f7f" stroke-width="1"/>
<text x="392.90" y="58.77" font-size="7.9" text-anchor="end" textLength="24.38" lengthAdjust="spacingAndGlyphs" fill="#111" stroke="#111" stroke-width="0.2">400000</text>
<line x1="394.40" y1="37.20" x2="396.8" y2="37.20" stroke="#7f7f7f" stroke-width="1"/>
<text x="392.90" y="39.95" font-size="7.9" text-anchor="end" textLength="24.38" lengthAdjust="spacingAndGlyphs" fill="#111" stroke="#111" stroke-width="0.2">500000</text>
<text transform="translate(355.50,74.8) rotate(-90)" font-size="9.6" text-anchor="middle" textLength="71.3" lengthAdjust="spacingAndGlyphs" fill="#111" stroke="#111" stroke-width="0.3">RR power (ms<tspan font-size="6.8" dy="-3.4">2</tspan><tspan dy="3.4">)</tspan></text>
<g fill="none" stroke-linejoin="round" stroke-linecap="round"><defs><path id="cTR_RR" d="M399.1 117.00 L399.6 117.08 400.1 117.17 400.6 117.27 401.1 117.39 401.6 117.54 402.1 117.72 402.6 117.94 403.1 118.19 403.6 118.48 404.1 118.80 404.6 119.15 405.1 119.51 405.6 119.89 406.1 120.27 406.6 120.66 407.1 121.06 407.6 121.44 408.1 121.82 408.6 122.19 409.1 122.56 409.6 122.91 410.1 123.25 410.6 123.57 411.1 123.88 411.6 124.18 412.1 124.45 412.6 124.71 413.1 124.95 413.6 125.17 414.1 125.37 414.6 125.55 415.1 125.72 415.6 125.86 416.1 125.98 416.6 126.08 417.1 126.16 417.6 126.23 418.1 126.27 418.6 126.29 419.1 126.30 419.6 126.28 420.1 126.25 420.6 126.21 421.1 126.14 421.6 126.07 422.1 125.97 422.6 125.87 423.1 125.75 423.6 125.62 424.1 125.47 424.6 125.32 425.1 125.15 425.6 124.97 426.1 124.79 426.6 124.59 427.1 124.39 427.6 124.18 428.2 123.96 428.7 123.74 429.2 123.50 429.7 123.27 430.2 123.03 430.7 122.78 431.2 122.53 431.7 122.28 432.2 122.04 432.7 121.80 433.2 121.57 433.7 121.34 434.2 121.13 434.7 120.93 435.2 120.74 435.7 120.57 436.2 120.43 436.7 120.31 437.2 120.23 437.7 120.18 438.2 120.18 438.7 120.22 439.2 120.31 439.7 120.44 440.2 120.62 440.7 120.83 441.2 121.06 441.7 121.33 442.2 121.61 442.7 121.91 443.2 122.22 443.7 122.53 444.2 122.86 444.7 123.18 445.2 123.51 445.7 123.84 446.2 124.15 446.7 124.46 447.2 124.76 447.7 125.05 448.2 125.32 448.7 125.57 449.2 125.81 449.7 126.03 450.2 126.24 450.7 126.44 451.2 126.63 451.7 126.81 452.2 126.98 452.7 127.14 453.2 127.29 453.7 127.44 454.2 127.58 454.7 127.72 455.2 127.85 455.7 127.97 456.2 128.09 456.7 128.21 457.2 128.32 457.7 128.42 458.2 128.52 458.7 128.61 459.2 128.69 459.7 128.77 460.2 128.85 460.7 128.92 461.2 128.98 461.7 129.03 462.2 129.09 462.7 129.13 463.2 129.17 463.7 129.21 464.2 129.24 464.7 129.27 465.2 129.29 465.7 129.31 466.2 129.33 466.7 129.34 467.2 129.36 467.7 129.37 468.2 129.38 468.7 129.38 469.2 129.39 469.7 129.40 470.2 129.40 470.7 129.41 471.2 129.41 471.7 129.42 472.2 129.42 472.7 129.43 473.2 129.43 473.7 129.44 474.2 129.44 474.7 129.44 475.2 129.45 475.7 129.45 476.2 129.45 476.7 129.45 477.2 129.45 477.7 129.45 478.2 129.45 478.7 129.45 479.2 129.45 479.7 129.45 480.2 129.45 480.7 129.45 481.2 129.44 481.7 129.44 482.2 129.44 482.7 129.43 483.2 129.42 483.7 129.42 484.2 129.41 484.7 129.40 485.3 129.39 485.8 129.38 486.3 129.37 486.8 129.36 487.3 129.35 487.8 129.33 488.3 129.32 488.8 129.30 489.3 129.29 489.8 129.27 490.3 129.25 490.8 129.23 491.3 129.21 491.8 129.19 492.3 129.17 492.8 129.15 493.3 129.13 493.8 129.11 494.3 129.09 494.8 129.06 495.3 129.04 495.8 129.02 496.3 129.00 496.8 128.97 497.3 128.95 497.8 128.93 498.3 128.91 498.8 128.89 499.3 128.87 499.8 128.85 500.3 128.83 500.8 128.81 501.3 128.80 501.8 128.78 502.3 128.77 502.8 128.75 503.3 128.74 503.8 128.73 504.3 128.72 504.8 128.71 505.3 128.71 505.8 128.70 506.3 128.70 506.8 128.70 507.3 128.70 507.8 128.70 508.3 128.71 508.8 128.71 509.3 128.72 509.8 128.72 510.3 128.73 510.8 128.74 511.3 128.74 511.8 128.75 512.3 128.75 512.8 128.74 513.3 128.74 513.8 128.73 514.3 128.71 514.8 128.70 515.3 128.67 515.8 128.64 516.3 128.60 516.8 128.56 517.3 128.50 517.8 128.44 518.3 128.37 518.8 128.30 519.3 128.21 519.8 128.11 520.3 128.00 520.8 127.88 521.3 127.74 521.8 127.58 522.3 127.41 522.8 127.21 523.3 126.99 523.8 126.74 524.3 126.46 524.8 126.14 525.3 125.78 525.8 125.39 526.3 124.95 526.8 124.45 527.3 123.90 527.8 123.29 528.3 122.61 528.8 121.85 529.3 121.01 529.8 120.09 530.3 119.09 530.8 118.02 531.3 116.88 531.8 115.68 532.3 114.42 532.8 113.14 533.3 112.01 533.8 111.24 534.3 111.00 534.8 111.38 535.3 112.26 535.8 113.47 536.3 114.86 536.8 116.34 537.3 117.86 537.8 119.34 538.3 120.74 538.8 121.99 539.3 123.07 539.8 124.00 540.3 124.79 540.8 125.47 541.3 126.05 541.8 126.54 542.4 126.96 542.9 127.32 543.4 127.63 543.9 127.89 544.4 128.11 544.9 128.29 545.4 128.45 545.9 128.59 546.4 128.72 546.9 128.84 547.4 128.96 547.9 129.08 548.4 129.19 548.9 129.31 549.4 129.41 549.9 129.52 550.4 129.61 550.9 129.70 551.4 129.78 551.9 129.86 552.4 129.92 552.9 129.97 553.4 130.01 553.9 130.05 554.4 130.07 554.9 130.09 555.4 130.10 555.9 130.10 556.4 130.10 556.9 130.09 557.4 130.08 557.9 130.06 558.4 130.03 558.9 130.01 559.4 129.98 559.9 129.95 560.4 129.92 560.9 129.89 561.4 129.85 561.9 129.82 562.4 129.79 562.9 129.76 563.4 129.73 563.9 129.70 564.4 129.68 564.9 129.65 565.4 129.63 565.9 129.61 566.4 129.60 566.9 129.59 567.4 129.58 567.9 129.57 568.4 129.56 568.9 129.56 569.4 129.57 569.9 129.58 570.4 129.59 570.9 129.60 571.4 129.62 571.9 129.65 572.4 129.68 572.9 129.71 573.4 129.74 573.9 129.78 574.4 129.82 574.9 129.86 575.4 129.90 575.9 129.95 576.4 130.00 576.9 130.04 577.4 130.09 577.9 130.14 578.4 130.19 578.9 130.23 579.4 130.28 579.9 130.32 580.4 130.37 580.9 130.41 581.4 130.45 581.9 130.49 582.4 130.52 582.9 130.56 583.4 130.59 583.9 130.62 584.4 130.65 584.9 130.68 585.4 130.71 585.9 130.73 586.4 130.76 586.9 130.78 587.4 130.80 587.9 130.82 588.4 130.84 588.9 130.85 589.4 130.87 589.9 130.89 590.4 130.90 590.9 130.91 591.4 130.93 591.9 130.94 592.4 130.95 592.9 130.96 593.4 130.97 593.9 130.98 594.4 130.99 594.9 131.00 595.4 131.01 595.9 131.01 596.4 131.02 596.9 131.03 597.4 131.03 597.9 131.04 598.4 131.05 598.9 131.05 599.5 131.06 600.0 131.06 600.5 131.07 601.0 131.07 601.5 131.07 602.0 131.08 602.5 131.08 603.0 131.09 603.5 131.09 604.0 131.09 604.5 131.09 605.0 131.09 605.5 131.10 606.0 131.10 606.5 131.10 607.0 131.10 607.5 131.10 608.0 131.10 608.5 131.10 609.0 131.10 609.5 131.10 610.0 131.10 610.5 131.10 611.0 131.10 611.5 131.10 612.0 131.10 612.5 131.10 613.0 131.10 613.5 131.09 614.0 131.09 614.5 131.09 615.0 131.09 615.5 131.09 616.0 131.08 616.5 131.08 617.0 131.08 617.5 131.08 618.0 131.07 618.5 131.07 619.0 131.07 619.5 131.06 620.0 131.06 620.5 131.06 621.0 131.05 621.5 131.05 622.0 131.05 622.5 131.04 623.0 131.04 623.5 131.04 624.0 131.03 624.5 131.03 625.0 131.02 625.5 131.02 626.0 131.02 626.5 131.01 627.0 131.01 627.5 131.00 628.0 131.00"/></defs><use href="#cTR_RR" stroke="#fff" stroke-width="3.4"/><use href="#cTR_RR" stroke="#464646" stroke-width="1.3"/></g>
<line x1="397.6" y1="141.5" x2="397.6" y2="240.3" stroke="#7f7f7f" stroke-width="1"/>
<line x1="395.20" y1="240.30" x2="397.6" y2="240.30" stroke="#7f7f7f" stroke-width="1"/>
<text x="392.30" y="243.05" font-size="7.9" text-anchor="end" textLength="4.06" lengthAdjust="spacingAndGlyphs" fill="#111" stroke="#111" stroke-width="0.2">0</text>
<line x1="395.20" y1="215.60" x2="397.6" y2="215.60" stroke="#7f7f7f" stroke-width="1"/>
<text x="392.80" y="218.35" font-size="7.9" text-anchor="end" textLength="16.25" lengthAdjust="spacingAndGlyphs" fill="#111" stroke="#111" stroke-width="0.2">1000</text>
<line x1="395.20" y1="190.90" x2="397.6" y2="190.90" stroke="#7f7f7f" stroke-width="1"/>
<text x="392.80" y="193.65" font-size="7.9" text-anchor="end" textLength="16.25" lengthAdjust="spacingAndGlyphs" fill="#111" stroke="#111" stroke-width="0.2">2000</text>
<line x1="395.20" y1="166.20" x2="397.6" y2="166.20" stroke="#7f7f7f" stroke-width="1"/>
<text x="392.80" y="168.95" font-size="7.9" text-anchor="end" textLength="16.25" lengthAdjust="spacingAndGlyphs" fill="#111" stroke="#111" stroke-width="0.2">3000</text>
<line x1="395.20" y1="141.50" x2="397.6" y2="141.50" stroke="#7f7f7f" stroke-width="1"/>
<text x="392.80" y="144.25" font-size="7.9" text-anchor="end" textLength="16.25" lengthAdjust="spacingAndGlyphs" fill="#111" stroke="#111" stroke-width="0.2">4000</text>
<text transform="translate(358.80,190.7) rotate(-90)" font-size="9.6" text-anchor="middle" textLength="93.6" lengthAdjust="spacingAndGlyphs" fill="#111" stroke="#111" stroke-width="0.3">SBP power (mmHg<tspan font-size="6.8" dy="-3.4">2</tspan><tspan dy="3.4">)</tspan></text>
<g fill="none" stroke-linejoin="round" stroke-linecap="round"><defs><path id="cTR_SBP" d="M399.1 209.80 L399.6 209.87 400.1 209.96 400.6 210.06 401.1 210.20 401.6 210.37 402.1 210.59 402.6 210.88 403.1 211.23 403.6 211.66 404.1 212.16 404.6 212.75 405.1 213.44 405.6 214.23 406.1 215.11 406.6 216.06 407.1 217.07 407.6 218.11 408.1 219.16 408.6 220.20 409.1 221.21 409.6 222.20 410.1 223.15 410.6 224.07 411.1 224.96 411.6 225.81 412.1 226.63 412.6 227.41 413.1 228.16 413.6 228.87 414.1 229.54 414.6 230.17 415.1 230.77 415.6 231.33 416.1 231.84 416.6 232.32 417.1 232.76 417.6 233.15 418.1 233.51 418.6 233.83 419.1 234.13 419.6 234.39 420.1 234.63 420.6 234.85 421.1 235.05 421.6 235.23 422.1 235.40 422.6 235.56 423.1 235.71 423.6 235.86 424.1 235.99 424.6 236.12 425.1 236.24 425.6 236.35 426.1 236.46 426.6 236.56 427.1 236.65 427.6 236.74 428.1 236.82 428.6 236.90 429.1 236.98 429.6 237.05 430.1 237.11 430.6 237.18 431.1 237.24 431.6 237.29 432.1 237.35 432.6 237.40 433.1 237.45 433.6 237.50 434.1 237.55 434.6 237.60 435.1 237.65 435.6 237.69 436.1 237.74 436.6 237.79 437.1 237.84 437.6 237.90 438.1 237.95 438.6 238.01 439.1 238.07 439.6 238.14 440.1 238.20 440.6 238.27 441.1 238.34 441.6 238.40 442.1 238.47 442.6 238.54 443.1 238.61 443.6 238.68 444.1 238.74 444.6 238.80 445.1 238.87 445.6 238.92 446.1 238.98 446.6 239.03 447.1 239.08 447.6 239.12 448.1 239.16 448.6 239.20 449.1 239.24 449.6 239.27 450.1 239.30 450.6 239.32 451.1 239.35 451.6 239.37 452.1 239.39 452.6 239.41 453.1 239.42 453.6 239.44 454.1 239.45 454.6 239.46 455.1 239.48 455.6 239.49 456.1 239.49 456.6 239.50 457.1 239.51 457.6 239.52 458.1 239.53 458.6 239.53 459.1 239.54 459.6 239.55 460.1 239.55 460.6 239.56 461.1 239.56 461.6 239.56 462.1 239.57 462.6 239.57 463.1 239.58 463.6 239.58 464.1 239.58 464.6 239.58 465.1 239.59 465.6 239.59 466.1 239.59 466.6 239.59 467.1 239.59 467.6 239.59 468.1 239.60 468.6 239.60 469.1 239.60 469.6 239.60 470.1 239.60 470.6 239.60 471.1 239.60 471.6 239.60 472.1 239.60 472.6 239.60 473.1 239.60 473.6 239.60 474.1 239.61 474.6 239.61 475.1 239.61 475.6 239.61 476.1 239.61 476.6 239.61 477.1 239.61 477.6 239.61 478.1 239.61 478.6 239.61 479.1 239.61 479.6 239.61 480.1 239.61 480.6 239.61 481.1 239.61 481.6 239.61 482.1 239.61 482.6 239.61 483.1 239.62 483.6 239.62 484.1 239.62 484.6 239.62 485.1 239.62 485.6 239.62 486.1 239.62 486.6 239.62 487.1 239.62 487.6 239.63 488.1 239.63 488.6 239.63 489.1 239.63 489.6 239.63 490.1 239.63 490.6 239.64 491.1 239.64 491.6 239.64 492.1 239.64 492.6 239.65 493.1 239.65 493.6 239.65 494.1 239.65 494.6 239.66 495.1 239.66 495.6 239.66 496.1 239.67 496.6 239.67 497.1 239.67 497.6 239.68 498.1 239.68 498.6 239.69 499.1 239.69 499.6 239.70 500.1 239.70 500.6 239.71 501.1 239.71 501.6 239.72 502.1 239.72 502.6 239.73 503.1 239.73 503.6 239.74 504.1 239.74 504.6 239.75 505.1 239.75 505.6 239.76 506.1 239.76 506.6 239.77 507.1 239.77 507.6 239.78 508.1 239.78 508.6 239.78 509.1 239.79 509.6 239.79 510.1 239.79 510.6 239.79 511.1 239.79 511.6 239.79 512.1 239.79 512.6 239.79 513.1 239.79 513.6 239.79 514.1 239.79 514.6 239.78 515.1 239.78 515.6 239.77 516.1 239.77 516.6 239.76 517.1 239.75 517.6 239.74 518.1 239.73 518.6 239.72 519.1 239.71 519.6 239.69 520.1 239.68 520.6 239.66 521.1 239.64 521.6 239.62 522.1 239.60 522.6 239.58 523.1 239.56 523.6 239.53 524.1 239.50 524.6 239.47 525.1 239.43 525.6 239.38 526.1 239.32 526.6 239.26 527.1 239.18 527.6 239.10 528.1 239.01 528.6 238.90 529.1 238.79 529.6 238.66 530.1 238.52 530.6 238.37 531.1 238.21 531.6 238.05 532.1 237.90 532.6 237.77 533.1 237.67 533.6 237.61 534.1 237.60 534.6 237.65 535.1 237.74 535.6 237.87 536.1 238.03 536.6 238.20 537.1 238.37 537.6 238.53 538.1 238.68 538.6 238.82 539.1 238.94 539.6 239.05 540.1 239.15 540.6 239.24 541.1 239.31 541.6 239.38 542.1 239.44 542.6 239.50 543.1 239.54 543.6 239.58 544.1 239.61 544.6 239.64 545.1 239.66 545.6 239.68 546.1 239.69 546.6 239.70 547.1 239.70 547.6 239.71 548.1 239.71 548.6 239.71 549.1 239.70 549.6 239.70 550.1 239.70 550.6 239.70 551.1 239.69 551.6 239.69 552.1 239.69 552.6 239.69 553.1 239.69 553.6 239.69 554.1 239.69 554.6 239.69 555.1 239.69 555.6 239.69 556.1 239.69 556.6 239.69 557.1 239.69 557.6 239.69 558.1 239.69 558.6 239.70 559.1 239.70 559.6 239.70 560.1 239.70 560.6 239.70 561.1 239.71 561.6 239.71 562.1 239.71 562.6 239.72 563.1 239.72 563.6 239.72 564.1 239.73 564.6 239.73 565.1 239.73 565.6 239.74 566.1 239.74 566.6 239.74 567.1 239.75 567.6 239.75 568.1 239.75 568.6 239.76 569.1 239.76 569.6 239.77 570.1 239.77 570.6 239.77 571.1 239.78 571.6 239.78 572.1 239.78 572.6 239.79 573.1 239.79 573.6 239.79 574.1 239.80 574.6 239.80 575.1 239.80 575.6 239.81 576.1 239.81 576.6 239.81 577.1 239.82 577.6 239.82 578.1 239.82 578.6 239.82 579.1 239.83 579.6 239.83 580.1 239.83 580.6 239.83 581.1 239.84 581.6 239.84 582.1 239.84 582.6 239.84 583.1 239.84 583.6 239.85 584.1 239.85 584.6 239.85 585.1 239.85 585.6 239.85 586.1 239.85 586.6 239.85 587.1 239.85 587.6 239.86 588.1 239.86 588.6 239.86 589.1 239.86 589.6 239.86 590.1 239.86 590.6 239.86 591.1 239.86 591.6 239.86 592.1 239.86 592.6 239.86 593.1 239.86 593.6 239.86 594.1 239.86 594.6 239.86 595.1 239.86 595.6 239.87 596.1 239.87 596.6 239.87 597.1 239.87 597.6 239.86 598.1 239.86 598.6 239.86 599.1 239.86 599.6 239.86 600.1 239.86 600.6 239.86 601.1 239.86 601.6 239.86 602.1 239.86 602.6 239.86 603.1 239.86 603.6 239.86 604.1 239.86 604.6 239.86 605.1 239.86 605.6 239.86 606.1 239.86 606.6 239.85 607.1 239.85 607.6 239.85 608.1 239.85 608.6 239.85 609.1 239.85 609.6 239.85 610.1 239.85 610.6 239.85 611.1 239.84 611.6 239.84 612.1 239.84 612.6 239.84 613.1 239.84 613.6 239.84 614.1 239.84 614.6 239.84 615.1 239.83 615.6 239.83 616.1 239.83 616.6 239.83 617.1 239.83 617.6 239.83 618.1 239.83 618.6 239.82 619.1 239.82 619.6 239.82 620.1 239.82 620.6 239.82 621.1 239.82 621.6 239.81 622.1 239.81 622.6 239.81 623.1 239.81 623.6 239.81 624.1 239.81 624.6 239.80 625.1 239.80 625.6 239.80 626.1 239.80"/></defs><use href="#cTR_SBP" stroke="#fff" stroke-width="3.4"/><use href="#cTR_SBP" stroke="#464646" stroke-width="1.3"/></g>
<line x1="397.7" y1="251.8" x2="397.7" y2="351.4" stroke="#7f7f7f" stroke-width="1"/>
<line x1="395.30" y1="351.40" x2="397.7" y2="351.40" stroke="#7f7f7f" stroke-width="1"/>
<text x="391.90" y="354.15" font-size="7.9" text-anchor="end" textLength="10.16" lengthAdjust="spacingAndGlyphs" fill="#111" stroke="#111" stroke-width="0.2">0,0</text>
<line x1="395.30" y1="331.48" x2="397.7" y2="331.48" stroke="#7f7f7f" stroke-width="1"/>
<text x="391.90" y="334.23" font-size="7.9" text-anchor="end" textLength="10.16" lengthAdjust="spacingAndGlyphs" fill="#111" stroke="#111" stroke-width="0.2">0,2</text>
<line x1="395.30" y1="311.56" x2="397.7" y2="311.56" stroke="#7f7f7f" stroke-width="1"/>
<text x="391.90" y="314.31" font-size="7.9" text-anchor="end" textLength="10.16" lengthAdjust="spacingAndGlyphs" fill="#111" stroke="#111" stroke-width="0.2">0,4</text>
<line x1="395.30" y1="291.64" x2="397.7" y2="291.64" stroke="#7f7f7f" stroke-width="1"/>
<text x="391.90" y="294.39" font-size="7.9" text-anchor="end" textLength="10.16" lengthAdjust="spacingAndGlyphs" fill="#111" stroke="#111" stroke-width="0.2">0,6</text>
<line x1="395.30" y1="271.72" x2="397.7" y2="271.72" stroke="#7f7f7f" stroke-width="1"/>
<text x="391.90" y="274.47" font-size="7.9" text-anchor="end" textLength="10.16" lengthAdjust="spacingAndGlyphs" fill="#111" stroke="#111" stroke-width="0.2">0,8</text>
<line x1="395.30" y1="251.80" x2="397.7" y2="251.80" stroke="#7f7f7f" stroke-width="1"/>
<text x="391.90" y="254.55" font-size="7.9" text-anchor="end" textLength="10.16" lengthAdjust="spacingAndGlyphs" fill="#111" stroke="#111" stroke-width="0.2">1,0</text>
<text transform="translate(360.70,305.5) rotate(-90)" font-size="9.6" text-anchor="middle" textLength="51.1" lengthAdjust="spacingAndGlyphs" fill="#111" stroke="#111" stroke-width="0.3">Coherence</text>
<g fill="none" stroke-linejoin="round" stroke-linecap="round"><defs><path id="cTR_COH" d="M399.1 295.20 L399.6 295.30 400.1 295.42 400.6 295.56 401.1 295.74 401.6 295.97 402.1 296.26 402.6 296.63 403.1 297.09 403.6 297.66 404.1 298.35 404.6 299.17 405.1 300.14 405.6 301.27 406.1 302.57 406.6 304.02 407.1 305.59 407.6 307.28 408.1 309.05 408.6 310.90 409.1 312.81 409.6 314.76 410.1 316.77 410.6 318.83 411.1 320.93 411.6 323.07 412.1 325.25 412.6 327.45 413.1 329.65 413.6 331.84 414.1 333.99 414.6 336.08 415.1 338.09 415.6 339.98 416.1 341.68 416.6 343.12 417.1 344.21 417.6 344.90 418.1 345.13 418.6 344.92 419.1 344.34 419.6 343.42 420.1 342.22 420.6 340.80 421.1 339.19 421.6 337.41 422.1 335.48 422.6 333.41 423.1 331.24 423.6 328.96 424.1 326.61 424.6 324.21 425.1 321.77 425.6 319.33 426.1 316.91 426.6 314.53 427.1 312.23 427.6 310.03 428.1 307.94 428.6 305.95 429.1 304.07 429.6 302.27 430.1 300.57 430.6 298.95 431.1 297.40 431.6 295.93 432.1 294.53 432.6 293.21 433.1 291.99 433.6 290.86 434.1 289.84 434.6 288.94 435.1 288.15 435.6 287.50 436.1 286.96 436.6 286.55 437.1 286.25 437.6 286.06 438.1 285.99 438.6 286.01 439.1 286.14 439.6 286.37 440.1 286.70 440.6 287.12 441.1 287.62 441.6 288.22 442.1 288.90 442.6 289.66 443.1 290.50 443.6 291.40 444.1 292.37 444.6 293.39 445.1 294.44 445.6 295.53 446.1 296.65 446.6 297.78 447.1 298.92 447.6 300.06 448.1 301.21 448.6 302.36 449.1 303.50 449.6 304.64 450.1 305.76 450.6 306.87 451.1 307.97 451.6 309.04 452.1 310.09 452.6 311.12 453.1 312.14 453.6 313.13 454.1 314.10 454.6 315.06 455.1 316.01 455.6 316.94 456.1 317.86 456.6 318.76 457.1 319.65 457.6 320.52 458.1 321.37 458.6 322.19 459.1 322.98 459.6 323.72 460.1 324.42 460.6 325.07 461.1 325.67 461.6 326.21 462.1 326.68 462.6 327.09 463.1 327.45 463.6 327.75 464.1 328.00 464.6 328.19 465.1 328.34 465.6 328.43 466.1 328.49 466.6 328.50 467.1 328.47 467.6 328.40 468.1 328.29 468.6 328.15 469.1 327.96 469.6 327.74 470.1 327.49 470.6 327.20 471.1 326.88 471.6 326.53 472.1 326.14 472.6 325.73 473.1 325.30 473.6 324.85 474.1 324.38 474.6 323.89 475.1 323.40 475.6 322.90 476.1 322.40 476.6 321.90 477.1 321.40 477.6 320.90 478.1 320.40 478.6 319.91 479.1 319.41 479.6 318.91 480.1 318.42 480.6 317.92 481.1 317.42 481.6 316.91 482.1 316.41 482.6 315.90 483.1 315.39 483.6 314.87 484.1 314.36 484.6 313.85 485.1 313.33 485.6 312.82 486.1 312.32 486.6 311.81 487.1 311.32 487.6 310.83 488.1 310.35 488.6 309.88 489.1 309.42 489.6 308.97 490.1 308.54 490.6 308.12 491.1 307.72 491.6 307.35 492.1 306.99 492.6 306.66 493.1 306.36 493.6 306.09 494.1 305.85 494.6 305.64 495.1 305.47 495.6 305.33 496.1 305.24 496.6 305.18 497.1 305.18 497.6 305.21 498.1 305.29 498.6 305.42 499.1 305.60 499.6 305.83 500.1 306.12 500.6 306.45 501.1 306.84 501.6 307.28 502.1 307.79 502.6 308.35 503.1 308.96 503.6 309.64 504.1 310.37 504.6 311.16 505.1 312.01 505.6 312.92 506.1 313.88 506.6 314.91 507.1 315.99 507.6 317.13 508.1 318.32 508.6 319.54 509.1 320.81 509.6 322.10 510.1 323.42 510.6 324.76 511.1 326.11 511.6 327.47 512.1 328.83 512.6 330.17 513.1 331.47 513.6 332.70 514.1 333.84 514.6 334.88 515.1 335.78 515.6 336.54 516.1 337.12 516.6 337.51 517.1 337.66 517.6 337.51 518.1 337.00 518.6 336.08 519.1 334.68 519.6 332.76 520.1 330.25 520.6 327.23 521.1 323.82 521.6 320.14 522.1 316.31 522.6 312.43 523.1 308.64 523.6 304.96 524.1 301.37 524.6 297.87 525.1 294.42 525.6 291.01 526.1 287.62 526.6 284.25 527.1 280.95 527.6 277.76 528.1 274.74 528.6 271.93 529.1 269.40 529.6 267.18 530.1 265.26 530.6 263.64 531.1 262.29 531.6 261.20 532.1 260.36 532.6 259.76 533.1 259.40 533.6 259.27 534.1 259.36 534.6 259.67 535.1 260.19 535.6 260.90 536.1 261.80 536.6 262.87 537.1 264.10 537.6 265.49 538.1 267.02 538.6 268.69 539.1 270.49 539.6 272.40 540.1 274.43 540.6 276.56 541.1 278.77 541.6 281.07 542.1 283.43 542.6 285.85 543.1 288.31 543.6 290.80 544.1 293.32 544.6 295.85 545.1 298.38 545.6 300.92 546.1 303.45 546.6 305.97 547.1 308.47 547.6 310.94 548.1 313.37 548.6 315.76 549.1 318.11 549.6 320.40 550.1 322.63 550.6 324.79 551.1 326.88 551.6 328.90 552.1 330.83 552.6 332.68 553.1 334.45 553.6 336.14 554.1 337.75 554.6 339.29 555.1 340.75 555.6 342.13 556.1 343.44 556.6 344.67 557.1 345.81 557.6 346.86 558.1 347.80 558.6 348.63 559.1 349.35 559.6 349.94 560.1 350.41 560.6 350.77 561.1 351.03 561.6 351.20 562.1 351.29 562.6 351.31 563.1 351.28 563.6 351.20 564.1 351.08 564.6 350.93 565.1 350.76 565.6 350.56 566.1 350.36 566.6 350.15 567.1 349.94 567.6 349.74 568.1 349.56 568.6 349.39 569.1 349.25 569.6 349.12 570.1 349.02 570.6 348.95 571.1 348.91 571.6 348.90 572.1 348.93 572.6 348.99 573.1 349.08 573.6 349.19 574.1 349.32 574.6 349.48 575.1 349.65 575.6 349.83 576.1 350.01 576.6 350.20 577.1 350.40 577.6 350.58 578.1 350.75 578.6 350.91 579.1 351.05 579.6 351.16 580.1 351.24 580.6 351.29 581.1 351.30 581.6 351.27 582.1 351.21 582.6 351.12 583.1 351.01 583.6 350.88 584.1 350.75 584.6 350.61 585.1 350.47 585.6 350.35 586.1 350.23 586.6 350.14 587.1 350.05 587.6 349.99 588.1 349.94 588.6 349.90 589.1 349.88 589.6 349.87 590.1 349.87 590.6 349.89 591.1 349.92 591.6 349.96 592.1 350.01 592.6 350.08 593.1 350.14 593.6 350.22 594.1 350.30 594.6 350.38 595.1 350.47 595.6 350.55 596.1 350.63 596.6 350.72 597.1 350.79 597.6 350.87 598.1 350.93 598.6 350.99 599.1 351.04 599.6 351.08 600.1 351.11 600.6 351.13 601.1 351.13 601.6 351.12 602.1 351.09 602.6 351.05 603.1 350.99 603.6 350.90 604.1 350.80 604.6 350.67 605.1 350.51 605.6 350.32 606.1 350.10 606.6 349.84 607.1 349.54 607.6 349.20 608.1 348.82 608.6 348.39 609.1 347.91 609.6 347.38 610.1 346.79 610.6 346.16 611.1 345.47 611.6 344.73 612.1 343.94 612.6 343.08 613.1 342.17 613.6 341.20 614.1 340.17 614.6 339.08 615.1 337.93 615.6 336.73 616.1 335.47 616.6 334.16 617.1 332.80 617.6 331.38 618.1 329.92 618.6 328.41 619.1 326.85 619.6 325.25 620.1 323.62 620.6 321.96 621.1 320.28 621.6 318.58 622.1 316.87 622.6 315.16 623.1 313.46 623.6 311.76 624.1 310.07 624.6 308.39 625.1 306.71 625.6 305.04 626.1 303.37 626.6 301.70"/></defs><use href="#cTR_COH" stroke="#fff" stroke-width="3.4"/><use href="#cTR_COH" stroke="#464646" stroke-width="1.3"/></g>
<line x1="398.5" y1="364.4" x2="398.5" y2="459.4" stroke="#7f7f7f" stroke-width="1"/>
<line x1="396.10" y1="459.40" x2="398.5" y2="459.40" stroke="#7f7f7f" stroke-width="1"/>
<text x="392.00" y="462.15" font-size="7.9" text-anchor="end" textLength="4.06" lengthAdjust="spacingAndGlyphs" fill="#111" stroke="#111" stroke-width="0.2">0</text>
<line x1="396.10" y1="427.73" x2="398.5" y2="427.73" stroke="#7f7f7f" stroke-width="1"/>
<text x="392.80" y="430.48" font-size="7.9" text-anchor="end" textLength="8.13" lengthAdjust="spacingAndGlyphs" fill="#111" stroke="#111" stroke-width="0.2">20</text>
<line x1="396.10" y1="396.07" x2="398.5" y2="396.07" stroke="#7f7f7f" stroke-width="1"/>
<text x="392.80" y="398.82" font-size="7.9" text-anchor="end" textLength="8.13" lengthAdjust="spacingAndGlyphs" fill="#111" stroke="#111" stroke-width="0.2">40</text>
<line x1="396.10" y1="364.40" x2="398.5" y2="364.40" stroke="#7f7f7f" stroke-width="1"/>
<text x="392.80" y="367.15" font-size="7.9" text-anchor="end" textLength="8.13" lengthAdjust="spacingAndGlyphs" fill="#111" stroke="#111" stroke-width="0.2">60</text>
<text transform="translate(364.60,412.4) rotate(-90)" font-size="9.6" text-anchor="middle" textLength="88.6" lengthAdjust="spacingAndGlyphs" fill="#111" stroke="#111" stroke-width="0.3">α-gain (ms/mmHg)</text>
<g fill="none" stroke-linejoin="round" stroke-linecap="round"><defs><path id="cTR_GAIN" d="M400.4 454.60 L400.9 454.53 401.4 454.45 401.9 454.38 402.4 454.30 402.9 454.23 403.4 454.15 403.9 454.07 404.4 453.99 404.9 453.91 405.4 453.82 405.9 453.73 406.4 453.64 406.9 453.55 407.4 453.45 407.9 453.35 408.4 453.24 408.9 453.13 409.4 453.01 409.9 452.89 410.4 452.76 410.9 452.63 411.4 452.49 411.9 452.35 412.4 452.19 412.9 452.03 413.4 451.87 413.9 451.70 414.4 451.52 414.9 451.34 415.4 451.15 415.9 450.96 416.4 450.76 416.9 450.57 417.4 450.37 417.9 450.17 418.4 449.97 418.9 449.77 419.4 449.56 419.9 449.36 420.4 449.16 420.9 448.96 421.4 448.76 421.9 448.56 422.4 448.36 422.9 448.16 423.4 447.96 423.9 447.77 424.4 447.57 424.9 447.38 425.4 447.19 425.9 447.01 426.4 446.82 426.9 446.64 427.4 446.47 427.9 446.30 428.5 446.13 429.0 445.96 429.5 445.81 430.0 445.65 430.5 445.51 431.0 445.37 431.5 445.23 432.0 445.10 432.5 444.98 433.0 444.87 433.5 444.77 434.0 444.67 434.5 444.59 435.0 444.51 435.5 444.45 436.0 444.39 436.5 444.35 437.0 444.32 437.5 444.30 438.0 444.29 438.5 444.30 439.0 444.32 439.5 444.35 440.0 444.38 440.5 444.43 441.0 444.48 441.5 444.54 442.0 444.61 442.5 444.68 443.0 444.76 443.5 444.85 444.0 444.93 444.5 445.02 445.0 445.11 445.5 445.20 446.0 445.29 446.5 445.39 447.0 445.48 447.5 445.57 448.0 445.66 448.5 445.75 449.0 445.84 449.5 445.92 450.0 446.00 450.5 446.08 451.0 446.16 451.5 446.23 452.0 446.29 452.5 446.35 453.0 446.41 453.5 446.46 454.0 446.50 454.5 446.55 455.0 446.59 455.5 446.62 456.0 446.66 456.5 446.69 457.0 446.71 457.5 446.74 458.0 446.76 458.5 446.78 459.0 446.80 459.5 446.82 460.0 446.84 460.5 446.85 461.0 446.86 461.5 446.87 462.0 446.88 462.5 446.88 463.0 446.87 463.5 446.86 464.0 446.85 464.5 446.83 465.0 446.81 465.5 446.78 466.0 446.75 466.5 446.70 467.0 446.66 467.5 446.61 468.0 446.55 468.5 446.49 469.0 446.43 469.5 446.36 470.0 446.30 470.5 446.23 471.0 446.15 471.5 446.07 472.0 446.00 472.5 445.91 473.0 445.83 473.5 445.74 474.0 445.65 474.5 445.55 475.0 445.45 475.5 445.35 476.0 445.24 476.5 445.13 477.0 445.01 477.5 444.89 478.0 444.77 478.5 444.64 479.0 444.50 479.5 444.36 480.0 444.21 480.5 444.06 481.0 443.91 481.5 443.74 482.0 443.57 482.5 443.40 483.0 443.22 483.6 443.03 484.1 442.83 484.6 442.63 485.1 442.42 485.6 442.20 486.1 441.98 486.6 441.74 487.1 441.50 487.6 441.24 488.1 440.98 488.6 440.70 489.1 440.42 489.6 440.12 490.1 439.80 490.6 439.48 491.1 439.14 491.6 438.78 492.1 438.41 492.6 438.03 493.1 437.62 493.6 437.20 494.1 436.77 494.6 436.31 495.1 435.84 495.6 435.36 496.1 434.85 496.6 434.33 497.1 433.80 497.6 433.24 498.1 432.67 498.6 432.09 499.1 431.48 499.6 430.86 500.1 430.22 500.6 429.55 501.1 428.86 501.6 428.14 502.1 427.39 502.6 426.61 503.1 425.79 503.6 424.94 504.1 424.04 504.6 423.10 505.1 422.11 505.6 421.08 506.1 420.01 506.6 418.88 507.1 417.71 507.6 416.49 508.1 415.22 508.6 413.90 509.1 412.53 509.6 411.11 510.1 409.64 510.6 408.15 511.1 406.64 511.6 405.12 512.1 403.60 512.6 402.09 513.1 400.60 513.6 399.16 514.1 397.79 514.6 396.54 515.1 395.41 515.6 394.46 516.1 393.71 516.6 393.17 517.1 392.82 517.6 392.65 518.1 392.64 518.6 392.77 519.1 393.05 519.6 393.46 520.1 394.01 520.6 394.71 521.1 395.55 521.6 396.54 522.1 397.68 522.6 398.94 523.1 400.28 523.6 401.70 524.1 403.14 524.6 404.59 525.1 406.02 525.6 407.39 526.1 408.70 526.6 409.96 527.1 411.15 527.6 412.29 528.1 413.37 528.6 414.39 529.1 415.36 529.6 416.29 530.1 417.16 530.6 417.99 531.1 418.78 531.6 419.53 532.1 420.24 532.6 420.93 533.1 421.59 533.6 422.22 534.1 422.83 534.6 423.43 535.1 424.00 535.6 424.57 536.1 425.11 536.6 425.65 537.1 426.16 537.6 426.67 538.1 427.16 538.7 427.63 539.2 428.10 539.7 428.55 540.2 428.99 540.7 429.42 541.2 429.83 541.7 430.24 542.2 430.63 542.7 431.01 543.2 431.38 543.7 431.73 544.2 432.07 544.7 432.39 545.2 432.70 545.7 432.99 546.2 433.26 546.7 433.52 547.2 433.77 547.7 434.00 548.2 434.23 548.7 434.44 549.2 434.65 549.7 434.85 550.2 435.04 550.7 435.23 551.2 435.42 551.7 435.61 552.2 435.79 552.7 435.98 553.2 436.16 553.7 436.35 554.2 436.55 554.7 436.74 555.2 436.95 555.7 437.17 556.2 437.39 556.7 437.63 557.2 437.88 557.7 438.14 558.2 438.42 558.7 438.71 559.2 439.03 559.7 439.36 560.2 439.71 560.7 440.08 561.2 440.46 561.7 440.86 562.2 441.27 562.7 441.69 563.2 442.11 563.7 442.55 564.2 442.99 564.7 443.43 565.2 443.88 565.7 444.32 566.2 444.77 566.7 445.22 567.2 445.66 567.7 446.10 568.2 446.54 568.7 446.97 569.2 447.39 569.7 447.81 570.2 448.22 570.7 448.63 571.2 449.02 571.7 449.40 572.2 449.77 572.7 450.13 573.2 450.46 573.7 450.77 574.2 451.06 574.7 451.32 575.2 451.55 575.7 451.75 576.2 451.92 576.7 452.05 577.2 452.15 577.7 452.21 578.2 452.24 578.7 452.24 579.2 452.21 579.7 452.15 580.2 452.08 580.7 451.98 581.2 451.87 581.7 451.74 582.2 451.59 582.7 451.43 583.2 451.27 583.7 451.09 584.2 450.90 584.7 450.70 585.2 450.49 585.7 450.27 586.2 450.05 586.7 449.81 587.2 449.56 587.7 449.31 588.2 449.04 588.7 448.77 589.2 448.49 589.7 448.20 590.2 447.91 590.7 447.60 591.2 447.29 591.7 446.98 592.2 446.66 592.7 446.33 593.2 445.99 593.8 445.65 594.3 445.31 594.8 444.96 595.3 444.60 595.8 444.24 596.3 443.88 596.8 443.51 597.3 443.14 597.8 442.76 598.3 442.38 598.8 441.98 599.3 441.58 599.8 441.16 600.3 440.73 600.8 440.29 601.3 439.82 601.8 439.35 602.3 438.85 602.8 438.33 603.3 437.79 603.8 437.22 604.3 436.63 604.8 436.02 605.3 435.38 605.8 434.72 606.3 434.04 606.8 433.34 607.3 432.62 607.8 431.89 608.3 431.14 608.8 430.37 609.3 429.59 609.8 428.80 610.3 427.99 610.8 427.18 611.3 426.36 611.8 425.53 612.3 424.70 612.8 423.87 613.3 423.04 613.8 422.22 614.3 421.40 614.8 420.60 615.3 419.80 615.8 419.02 616.3 418.25 616.8 417.52 617.3 416.82 617.8 416.16 618.3 415.55 618.8 415.00 619.3 414.50 619.8 414.04 620.3 413.61 620.8 413.20"/></defs><use href="#cTR_GAIN" stroke="#fff" stroke-width="3.4"/><use href="#cTR_GAIN" stroke="#464646" stroke-width="1.3"/></g>
<line x1="395.5" y1="459.4" x2="620.3" y2="459.4" stroke="#777" stroke-width="1.1"/>
<line x1="398.50" y1="459.4" x2="398.50" y2="461.79999999999995" stroke="#666" stroke-width="1"/>
<line x1="402.94" y1="459.4" x2="402.94" y2="460.79999999999995" stroke="#666" stroke-width="1"/>
<line x1="407.37" y1="459.4" x2="407.37" y2="460.79999999999995" stroke="#666" stroke-width="1"/>
<line x1="411.81" y1="459.4" x2="411.81" y2="460.79999999999995" stroke="#666" stroke-width="1"/>
<line x1="416.24" y1="459.4" x2="416.24" y2="460.79999999999995" stroke="#666" stroke-width="1"/>
<line x1="420.68" y1="459.4" x2="420.68" y2="460.79999999999995" stroke="#666" stroke-width="1"/>
<line x1="425.12" y1="459.4" x2="425.12" y2="460.79999999999995" stroke="#666" stroke-width="1"/>
<line x1="429.55" y1="459.4" x2="429.55" y2="460.79999999999995" stroke="#666" stroke-width="1"/>
<line x1="433.99" y1="459.4" x2="433.99" y2="460.79999999999995" stroke="#666" stroke-width="1"/>
<line x1="438.42" y1="459.4" x2="438.42" y2="460.79999999999995" stroke="#666" stroke-width="1"/>
<line x1="442.86" y1="459.4" x2="442.86" y2="461.79999999999995" stroke="#666" stroke-width="1"/>
<line x1="447.30" y1="459.4" x2="447.30" y2="460.79999999999995" stroke="#666" stroke-width="1"/>
<line x1="451.73" y1="459.4" x2="451.73" y2="460.79999999999995" stroke="#666" stroke-width="1"/>
<line x1="456.17" y1="459.4" x2="456.17" y2="460.79999999999995" stroke="#666" stroke-width="1"/>
<line x1="460.60" y1="459.4" x2="460.60" y2="460.79999999999995" stroke="#666" stroke-width="1"/>
<line x1="465.04" y1="459.4" x2="465.04" y2="460.79999999999995" stroke="#666" stroke-width="1"/>
<line x1="469.48" y1="459.4" x2="469.48" y2="460.79999999999995" stroke="#666" stroke-width="1"/>
<line x1="473.91" y1="459.4" x2="473.91" y2="460.79999999999995" stroke="#666" stroke-width="1"/>
<line x1="478.35" y1="459.4" x2="478.35" y2="460.79999999999995" stroke="#666" stroke-width="1"/>
<line x1="482.78" y1="459.4" x2="482.78" y2="460.79999999999995" stroke="#666" stroke-width="1"/>
<line x1="487.22" y1="459.4" x2="487.22" y2="461.79999999999995" stroke="#666" stroke-width="1"/>
<line x1="491.66" y1="459.4" x2="491.66" y2="460.79999999999995" stroke="#666" stroke-width="1"/>
<line x1="496.09" y1="459.4" x2="496.09" y2="460.79999999999995" stroke="#666" stroke-width="1"/>
<line x1="500.53" y1="459.4" x2="500.53" y2="460.79999999999995" stroke="#666" stroke-width="1"/>
<line x1="504.96" y1="459.4" x2="504.96" y2="460.79999999999995" stroke="#666" stroke-width="1"/>
<line x1="509.40" y1="459.4" x2="509.40" y2="460.79999999999995" stroke="#666" stroke-width="1"/>
<line x1="513.84" y1="459.4" x2="513.84" y2="460.79999999999995" stroke="#666" stroke-width="1"/>
<line x1="518.27" y1="459.4" x2="518.27" y2="460.79999999999995" stroke="#666" stroke-width="1"/>
<line x1="522.71" y1="459.4" x2="522.71" y2="460.79999999999995" stroke="#666" stroke-width="1"/>
<line x1="527.14" y1="459.4" x2="527.14" y2="460.79999999999995" stroke="#666" stroke-width="1"/>
<line x1="531.58" y1="459.4" x2="531.58" y2="461.79999999999995" stroke="#666" stroke-width="1"/>
<line x1="536.02" y1="459.4" x2="536.02" y2="460.79999999999995" stroke="#666" stroke-width="1"/>
<line x1="540.45" y1="459.4" x2="540.45" y2="460.79999999999995" stroke="#666" stroke-width="1"/>
<line x1="544.89" y1="459.4" x2="544.89" y2="460.79999999999995" stroke="#666" stroke-width="1"/>
<line x1="549.32" y1="459.4" x2="549.32" y2="460.79999999999995" stroke="#666" stroke-width="1"/>
<line x1="553.76" y1="459.4" x2="553.76" y2="460.79999999999995" stroke="#666" stroke-width="1"/>
<line x1="558.20" y1="459.4" x2="558.20" y2="460.79999999999995" stroke="#666" stroke-width="1"/>
<line x1="562.63" y1="459.4" x2="562.63" y2="460.79999999999995" stroke="#666" stroke-width="1"/>
<line x1="567.07" y1="459.4" x2="567.07" y2="460.79999999999995" stroke="#666" stroke-width="1"/>
<line x1="571.50" y1="459.4" x2="571.50" y2="460.79999999999995" stroke="#666" stroke-width="1"/>
<line x1="575.94" y1="459.4" x2="575.94" y2="461.79999999999995" stroke="#666" stroke-width="1"/>
<line x1="580.38" y1="459.4" x2="580.38" y2="460.79999999999995" stroke="#666" stroke-width="1"/>
<line x1="584.81" y1="459.4" x2="584.81" y2="460.79999999999995" stroke="#666" stroke-width="1"/>
<line x1="589.25" y1="459.4" x2="589.25" y2="460.79999999999995" stroke="#666" stroke-width="1"/>
<line x1="593.68" y1="459.4" x2="593.68" y2="460.79999999999995" stroke="#666" stroke-width="1"/>
<line x1="598.12" y1="459.4" x2="598.12" y2="460.79999999999995" stroke="#666" stroke-width="1"/>
<line x1="602.56" y1="459.4" x2="602.56" y2="460.79999999999995" stroke="#666" stroke-width="1"/>
<line x1="606.99" y1="459.4" x2="606.99" y2="460.79999999999995" stroke="#666" stroke-width="1"/>
<line x1="611.43" y1="459.4" x2="611.43" y2="460.79999999999995" stroke="#666" stroke-width="1"/>
<line x1="615.86" y1="459.4" x2="615.86" y2="460.79999999999995" stroke="#666" stroke-width="1"/>
<line x1="620.30" y1="459.4" x2="620.30" y2="461.79999999999995" stroke="#666" stroke-width="1"/>
<text x="398.50" y="473.05" font-size="7.9" text-anchor="middle" textLength="4.06" lengthAdjust="spacingAndGlyphs" fill="#111" stroke="#111" stroke-width="0.2">0</text>
<text x="442.86" y="473.05" font-size="7.9" text-anchor="middle" textLength="10.16" lengthAdjust="spacingAndGlyphs" fill="#111" stroke="#111" stroke-width="0.2">0,1</text>
<text x="487.22" y="473.05" font-size="7.9" text-anchor="middle" textLength="10.16" lengthAdjust="spacingAndGlyphs" fill="#111" stroke="#111" stroke-width="0.2">0,2</text>
<text x="531.58" y="473.05" font-size="7.9" text-anchor="middle" textLength="10.16" lengthAdjust="spacingAndGlyphs" fill="#111" stroke="#111" stroke-width="0.2">0,3</text>
<text x="575.94" y="473.05" font-size="7.9" text-anchor="middle" textLength="10.16" lengthAdjust="spacingAndGlyphs" fill="#111" stroke="#111" stroke-width="0.2">0,4</text>
<text x="620.30" y="473.05" font-size="7.9" text-anchor="middle" textLength="10.16" lengthAdjust="spacingAndGlyphs" fill="#111" stroke="#111" stroke-width="0.2">0,5</text>
<text x="505.8" y="488.4" font-size="9.7" textLength="10.9" lengthAdjust="spacingAndGlyphs" fill="#111" stroke="#111" stroke-width="0.3">Hz</text>
<rect x="168.9" y="513.2" width="159.30" height="442.40" fill="#ededed"/>
<rect x="118.2" y="513.2" width="50.70" height="442.40" fill="#dddddd"/>
<line x1="133.0" y1="513.7" x2="133.0" y2="955.6" stroke="#474747" stroke-width="1" stroke-dasharray="1.6 1.9"/>
<line x1="262.5" y1="513.7" x2="262.5" y2="955.6" stroke="#474747" stroke-width="1" stroke-dasharray="1.6 1.9"/>
<line x1="98.2" y1="516.1" x2="98.2" y2="616.7" stroke="#7f7f7f" stroke-width="1"/>
<line x1="95.80" y1="616.70" x2="98.2" y2="616.70" stroke="#7f7f7f" stroke-width="1"/>
<text x="92.50" y="619.45" font-size="7.9" text-anchor="end" textLength="4.06" lengthAdjust="spacingAndGlyphs" fill="#111" stroke="#111" stroke-width="0.2">0</text>
<line x1="95.80" y1="597.32" x2="98.2" y2="597.32" stroke="#7f7f7f" stroke-width="1"/>
<text x="94.30" y="600.07" font-size="7.9" text-anchor="end" textLength="24.38" lengthAdjust="spacingAndGlyphs" fill="#111" stroke="#111" stroke-width="0.2">100000</text>
<line x1="95.80" y1="577.94" x2="98.2" y2="577.94" stroke="#7f7f7f" stroke-width="1"/>
<text x="94.30" y="580.69" font-size="7.9" text-anchor="end" textLength="24.38" lengthAdjust="spacingAndGlyphs" fill="#111" stroke="#111" stroke-width="0.2">200000</text>
<line x1="95.80" y1="558.56" x2="98.2" y2="558.56" stroke="#7f7f7f" stroke-width="1"/>
<text x="94.30" y="561.31" font-size="7.9" text-anchor="end" textLength="24.38" lengthAdjust="spacingAndGlyphs" fill="#111" stroke="#111" stroke-width="0.2">300000</text>
<line x1="95.80" y1="539.18" x2="98.2" y2="539.18" stroke="#7f7f7f" stroke-width="1"/>
<text x="94.30" y="541.93" font-size="7.9" text-anchor="end" textLength="24.38" lengthAdjust="spacingAndGlyphs" fill="#111" stroke="#111" stroke-width="0.2">400000</text>
<line x1="95.80" y1="519.80" x2="98.2" y2="519.80" stroke="#7f7f7f" stroke-width="1"/>
<text x="94.30" y="522.55" font-size="7.9" text-anchor="end" textLength="24.38" lengthAdjust="spacingAndGlyphs" fill="#111" stroke="#111" stroke-width="0.2">500000</text>
<text transform="translate(51.40,566.7) rotate(-90)" font-size="9.6" text-anchor="middle" textLength="74.1" lengthAdjust="spacingAndGlyphs" fill="#111" stroke="#111" stroke-width="0.3">RR power (ms<tspan font-size="6.8" dy="-3.4">2</tspan><tspan dy="3.4">)</tspan></text>
<g fill="none" stroke-linejoin="round" stroke-linecap="round"><defs><path id="cBL_RR" d="M100.6 606.80 L101.1 606.68 101.6 606.58 102.1 606.49 102.6 606.43 103.1 606.40 103.6 606.42 104.1 606.50 104.6 606.64 105.1 606.85 105.6 607.12 106.1 607.46 106.6 607.88 107.1 608.36 107.6 608.87 108.1 609.41 108.6 609.93 109.1 610.42 109.6 610.86 110.1 611.24 110.6 611.56 111.1 611.82 111.6 612.03 112.1 612.20 112.6 612.33 113.1 612.42 113.6 612.48 114.1 612.51 114.6 612.53 115.1 612.52 115.6 612.51 116.1 612.49 116.6 612.47 117.1 612.45 117.6 612.43 118.1 612.41 118.6 612.39 119.1 612.37 119.6 612.35 120.1 612.33 120.6 612.32 121.1 612.31 121.6 612.30 122.1 612.30 122.6 612.30 123.1 612.30 123.6 612.31 124.1 612.32 124.6 612.33 125.1 612.35 125.6 612.37 126.1 612.39 126.6 612.42 127.1 612.44 127.6 612.47 128.1 612.50 128.6 612.53 129.1 612.57 129.6 612.60 130.1 612.64 130.6 612.68 131.1 612.73 131.6 612.77 132.1 612.83 132.6 612.88 133.1 612.94 133.6 613.00 134.1 613.07 134.6 613.14 135.1 613.21 135.6 613.28 136.1 613.36 136.6 613.44 137.1 613.52 137.6 613.60 138.1 613.68 138.6 613.76 139.1 613.84 139.6 613.92 140.1 614.00 140.6 614.08 141.1 614.16 141.6 614.23 142.1 614.30 142.6 614.38 143.1 614.45 143.6 614.51 144.1 614.58 144.6 614.64 145.1 614.70 145.6 614.75 146.1 614.80 146.6 614.85 147.1 614.90 147.6 614.94 148.1 614.98 148.6 615.01 149.1 615.04 149.6 615.07 150.1 615.10 150.6 615.12 151.1 615.14 151.6 615.17 152.1 615.18 152.6 615.20 153.1 615.22 153.6 615.23 154.1 615.24 154.6 615.25 155.1 615.26 155.6 615.27 156.1 615.28 156.6 615.29 157.1 615.30 157.6 615.31 158.1 615.32 158.6 615.33 159.1 615.34 159.7 615.35 160.2 615.36 160.7 615.37 161.2 615.37 161.7 615.38 162.2 615.39 162.7 615.40 163.2 615.41 163.7 615.42 164.2 615.42 164.7 615.43 165.2 615.44 165.7 615.45 166.2 615.45 166.7 615.46 167.2 615.47 167.7 615.48 168.2 615.48 168.7 615.49 169.2 615.50 169.7 615.50 170.2 615.51 170.7 615.52 171.2 615.52 171.7 615.53 172.2 615.53 172.7 615.54 173.2 615.55 173.7 615.55 174.2 615.56 174.7 615.56 175.2 615.57 175.7 615.57 176.2 615.57 176.7 615.58 177.2 615.58 177.7 615.59 178.2 615.59 178.7 615.59 179.2 615.60 179.7 615.60 180.2 615.60 180.7 615.60 181.2 615.61 181.7 615.61 182.2 615.61 182.7 615.61 183.2 615.61 183.7 615.61 184.2 615.61 184.7 615.61 185.2 615.61 185.7 615.61 186.2 615.61 186.7 615.61 187.2 615.61 187.7 615.61 188.2 615.61 188.7 615.61 189.2 615.61 189.7 615.61 190.2 615.61 190.7 615.61 191.2 615.61 191.7 615.61 192.2 615.61 192.7 615.61 193.2 615.60 193.7 615.60 194.2 615.60 194.7 615.60 195.2 615.60 195.7 615.60 196.2 615.60 196.7 615.60 197.2 615.59 197.7 615.59 198.2 615.59 198.7 615.59 199.2 615.59 199.7 615.59 200.2 615.59 200.7 615.59 201.2 615.59 201.7 615.59 202.2 615.59 202.7 615.59 203.2 615.59 203.7 615.59 204.2 615.59 204.7 615.59 205.2 615.59 205.7 615.59 206.2 615.59 206.7 615.59 207.2 615.59 207.7 615.59 208.2 615.59 208.7 615.59 209.2 615.60 209.7 615.60 210.2 615.60 210.7 615.60 211.2 615.61 211.7 615.61 212.2 615.61 212.7 615.62 213.2 615.62 213.7 615.62 214.2 615.63 214.7 615.63 215.2 615.64 215.7 615.64 216.2 615.65 216.7 615.65 217.2 615.66 217.7 615.67 218.2 615.67 218.7 615.68 219.2 615.69 219.7 615.69 220.2 615.70 220.7 615.71 221.2 615.72 221.7 615.73 222.2 615.73 222.7 615.74 223.2 615.75 223.7 615.76 224.2 615.77 224.7 615.78 225.2 615.79 225.7 615.80 226.2 615.81 226.7 615.82 227.2 615.83 227.7 615.84 228.2 615.86 228.7 615.87 229.2 615.88 229.7 615.89 230.2 615.91 230.7 615.92 231.2 615.93 231.7 615.94 232.2 615.96 232.7 615.97 233.2 615.98 233.7 616.00 234.2 616.01 234.7 616.02 235.2 616.03 235.7 616.04 236.2 616.05 236.7 616.06 237.2 616.07 237.7 616.08 238.2 616.09 238.7 616.09 239.2 616.10 239.7 616.10 240.2 616.10 240.7 616.10 241.2 616.10 241.7 616.09 242.2 616.09 242.7 616.08 243.2 616.06 243.7 616.04 244.2 616.01 244.7 615.98 245.2 615.94 245.7 615.90 246.2 615.84 246.7 615.78 247.2 615.71 247.7 615.63 248.2 615.54 248.7 615.44 249.2 615.33 249.7 615.21 250.2 615.08 250.7 614.94 251.2 614.79 251.7 614.63 252.2 614.45 252.7 614.27 253.2 614.07 253.7 613.86 254.2 613.63 254.7 613.37 255.2 613.05 255.7 612.67 256.2 612.21 256.7 611.66 257.2 611.00 257.7 610.21 258.2 609.29 258.7 608.20 259.2 606.93 259.7 605.47 260.2 603.78 260.7 601.86 261.2 599.69 261.7 597.28 262.2 594.60 262.7 591.64 263.2 588.34 263.7 584.64 264.2 580.93 264.7 578.37 265.2 578.14 265.7 580.31 266.2 583.76 266.7 587.42 267.2 590.94 267.7 594.22 268.2 597.19 268.7 599.80 269.2 602.09 269.7 604.05 270.2 605.71 270.7 607.09 271.2 608.23 271.7 609.17 272.2 609.95 272.7 610.60 273.2 611.17 273.7 611.67 274.2 612.11 274.7 612.49 275.2 612.83 275.7 613.12 276.2 613.39 276.7 613.62 277.2 613.83 277.8 614.02 278.3 614.20 278.8 614.37 279.3 614.53 279.8 614.68 280.3 614.82 280.8 614.95 281.3 615.07 281.8 615.18 282.3 615.29 282.8 615.39 283.3 615.48 283.8 615.56 284.3 615.64 284.8 615.71 285.3 615.78 285.8 615.84 286.3 615.89 286.8 615.94 287.3 615.99 287.8 616.03 288.3 616.07 288.8 616.10 289.3 616.13 289.8 616.15 290.3 616.17 290.8 616.19 291.3 616.20 291.8 616.22 292.3 616.22 292.8 616.23 293.3 616.24 293.8 616.24 294.3 616.24 294.8 616.24 295.3 616.24 295.8 616.23 296.3 616.23 296.8 616.23 297.3 616.22 297.8 616.22 298.3 616.21 298.8 616.21 299.3 616.20 299.8 616.20 300.3 616.20 300.8 616.20 301.3 616.20 301.8 616.20 302.3 616.20 302.8 616.20 303.3 616.21 303.8 616.21 304.3 616.22 304.8 616.22 305.3 616.23 305.8 616.24 306.3 616.25 306.8 616.26 307.3 616.26 307.8 616.27 308.3 616.29 308.8 616.30 309.3 616.31 309.8 616.32 310.3 616.33 310.8 616.35 311.3 616.36 311.8 616.37 312.3 616.39 312.8 616.40 313.3 616.41 313.8 616.43 314.3 616.44 314.8 616.46 315.3 616.47 315.8 616.48 316.3 616.50 316.8 616.51 317.3 616.53 317.8 616.54 318.3 616.55 318.8 616.57 319.3 616.58 319.8 616.59 320.3 616.61 320.8 616.62 321.3 616.63 321.8 616.64 322.3 616.65 322.8 616.67 323.3 616.68 323.8 616.69 324.3 616.70 324.8 616.71 325.3 616.72 325.8 616.73 326.3 616.74 326.8 616.75 327.3 616.75 327.8 616.76 328.3 616.77 328.8 616.78 329.3 616.79 329.8 616.80 330.3 616.80 330.8 616.81 331.3 616.82 331.8 616.83 332.3 616.84 332.8 616.84 333.3 616.85 333.8 616.86 334.3 616.86 334.8 616.87 335.3 616.88 335.8 616.89 336.3 616.89 336.8 616.90"/></defs><use href="#cBL_RR" stroke="#fff" stroke-width="3.4"/><use href="#cBL_RR" stroke="#464646" stroke-width="1.3"/></g>
<line x1="98.6" y1="628.0" x2="98.6" y2="730.1" stroke="#7f7f7f" stroke-width="1"/>
<line x1="96.20" y1="730.10" x2="98.6" y2="730.10" stroke="#7f7f7f" stroke-width="1"/>
<text x="93.30" y="732.85" font-size="7.9" text-anchor="end" textLength="4.06" lengthAdjust="spacingAndGlyphs" fill="#111" stroke="#111" stroke-width="0.2">0</text>
<line x1="96.20" y1="704.58" x2="98.6" y2="704.58" stroke="#7f7f7f" stroke-width="1"/>
<text x="93.80" y="707.33" font-size="7.9" text-anchor="end" textLength="16.25" lengthAdjust="spacingAndGlyphs" fill="#111" stroke="#111" stroke-width="0.2">1000</text>
<line x1="96.20" y1="679.05" x2="98.6" y2="679.05" stroke="#7f7f7f" stroke-width="1"/>
<text x="93.80" y="681.80" font-size="7.9" text-anchor="end" textLength="16.25" lengthAdjust="spacingAndGlyphs" fill="#111" stroke="#111" stroke-width="0.2">2000</text>
<line x1="96.20" y1="653.52" x2="98.6" y2="653.52" stroke="#7f7f7f" stroke-width="1"/>
<text x="93.80" y="656.27" font-size="7.9" text-anchor="end" textLength="16.25" lengthAdjust="spacingAndGlyphs" fill="#111" stroke="#111" stroke-width="0.2">3000</text>
<line x1="96.20" y1="628.00" x2="98.6" y2="628.00" stroke="#7f7f7f" stroke-width="1"/>
<text x="93.80" y="630.75" font-size="7.9" text-anchor="end" textLength="16.25" lengthAdjust="spacingAndGlyphs" fill="#111" stroke="#111" stroke-width="0.2">4000</text>
<text transform="translate(52.20,669.9) rotate(-90)" font-size="9.6" text-anchor="middle" textLength="97.6" lengthAdjust="spacingAndGlyphs" fill="#111" stroke="#111" stroke-width="0.3">SBP power (mmHg<tspan font-size="6.8" dy="-3.4">2</tspan><tspan dy="3.4">)</tspan></text>
<g fill="none" stroke-linejoin="round" stroke-linecap="round"><defs><path id="cBL_SBP" d="M111.5 628.30 L112.0 639.05 112.5 646.91 113.0 652.41 113.5 657.41 114.0 662.32 114.5 666.89 115.0 670.96 115.5 674.61 116.0 677.97 116.5 681.12 117.0 684.08 117.5 686.84 118.0 689.37 118.5 691.65 119.0 693.68 119.5 695.49 120.0 697.12 120.5 698.59 121.0 699.94 121.5 701.21 122.0 702.42 122.5 703.58 123.0 704.69 123.5 705.74 124.0 706.75 124.5 707.70 125.0 708.61 125.5 709.46 126.0 710.27 126.5 711.02 127.0 711.73 127.5 712.40 128.0 713.04 128.5 713.64 129.0 714.21 129.5 714.76 130.0 715.29 130.5 715.81 131.0 716.31 131.5 716.80 132.0 717.29 132.5 717.77 133.0 718.23 133.5 718.68 134.0 719.12 134.5 719.55 135.0 719.95 135.5 720.34 136.0 720.71 136.5 721.06 137.0 721.38 137.5 721.69 138.0 721.98 138.5 722.26 139.0 722.51 139.5 722.76 140.0 722.99 140.5 723.21 141.0 723.41 141.5 723.61 142.0 723.80 142.5 723.98 143.0 724.15 143.5 724.31 144.0 724.47 144.5 724.62 145.0 724.76 145.5 724.90 146.0 725.03 146.5 725.15 147.0 725.27 147.5 725.38 148.0 725.48 148.5 725.58 149.0 725.67 149.5 725.75 150.0 725.83 150.5 725.91 151.0 725.98 151.5 726.04 152.0 726.10 152.5 726.16 153.0 726.21 153.5 726.26 154.0 726.31 154.5 726.36 155.0 726.40 155.5 726.44 156.0 726.48 156.5 726.52 157.0 726.56 157.5 726.60 158.0 726.64 158.5 726.68 159.0 726.72 159.5 726.77 160.0 726.81 160.5 726.86 161.0 726.91 161.5 726.96 162.0 727.01 162.5 727.07 163.0 727.12 163.5 727.18 164.0 727.24 164.5 727.29 165.0 727.35 165.5 727.40 166.0 727.46 166.5 727.51 167.0 727.56 167.5 727.61 168.0 727.66 168.5 727.71 169.0 727.75 169.5 727.80 170.0 727.84 170.5 727.88 171.0 727.92 171.5 727.95 172.0 727.99 172.5 728.03 173.0 728.06 173.5 728.09 174.0 728.13 174.5 728.16 175.0 728.19 175.5 728.22 176.0 728.25 176.5 728.27 177.0 728.30 177.5 728.33 178.0 728.36 178.5 728.38 179.0 728.41 179.5 728.43 180.0 728.46 180.5 728.48 181.0 728.51 181.5 728.53 182.0 728.56 182.5 728.58 183.0 728.60 183.5 728.63 184.0 728.65 184.5 728.67 185.0 728.69 185.5 728.71 186.0 728.73 186.5 728.75 187.0 728.77 187.5 728.79 188.0 728.81 188.5 728.83 189.0 728.85 189.5 728.87 190.0 728.89 190.5 728.90 191.0 728.92 191.5 728.94 192.0 728.95 192.5 728.97 193.0 728.99 193.5 729.00 194.0 729.02 194.5 729.04 195.0 729.05 195.5 729.07 196.0 729.08 196.5 729.10 197.0 729.11 197.5 729.12 198.0 729.14 198.5 729.15 199.0 729.17 199.5 729.18 200.0 729.19 200.5 729.20 201.0 729.22 201.5 729.23 202.0 729.24 202.5 729.25 203.0 729.26 203.5 729.28 204.0 729.29 204.5 729.30 205.0 729.31 205.5 729.32 206.0 729.33 206.5 729.34 207.0 729.35 207.5 729.36 208.0 729.37 208.5 729.38 209.0 729.39 209.5 729.40 210.0 729.40 210.5 729.41 211.0 729.42 211.5 729.43 212.0 729.44 212.5 729.44 213.0 729.45 213.5 729.46 214.0 729.46 214.5 729.47 215.0 729.47 215.5 729.48 216.0 729.49 216.5 729.49 217.0 729.50 217.5 729.50 218.0 729.51 218.5 729.51 219.0 729.51 219.5 729.52 220.0 729.52 220.5 729.53 221.0 729.53 221.5 729.53 222.0 729.53 222.6 729.54 223.1 729.54 223.6 729.54 224.1 729.54 224.6 729.54 225.1 729.54 225.6 729.55 226.1 729.55 226.6 729.55 227.1 729.55 227.6 729.55 228.1 729.55 228.6 729.55 229.1 729.55 229.6 729.54 230.1 729.54 230.6 729.54 231.1 729.54 231.6 729.54 232.1 729.53 232.6 729.53 233.1 729.53 233.6 729.53 234.1 729.52 234.6 729.52 235.1 729.52 235.6 729.51 236.1 729.51 236.6 729.50 237.1 729.50 237.6 729.49 238.1 729.49 238.6 729.48 239.1 729.48 239.6 729.47 240.1 729.46 240.6 729.46 241.1 729.45 241.6 729.44 242.1 729.44 242.6 729.43 243.1 729.42 243.6 729.42 244.1 729.41 244.6 729.40 245.1 729.40 245.6 729.39 246.1 729.38 246.6 729.37 247.1 729.37 247.6 729.36 248.1 729.35 248.6 729.35 249.1 729.34 249.6 729.33 250.1 729.32 250.6 729.32 251.1 729.31 251.6 729.31 252.1 729.30 252.6 729.29 253.1 729.28 253.6 729.27 254.1 729.24 254.6 729.21 255.1 729.15 255.6 729.09 256.1 729.00 256.6 728.88 257.1 728.74 257.6 728.58 258.1 728.38 258.6 728.16 259.1 727.94 259.6 727.72 260.1 727.52 260.6 727.34 261.1 727.21 261.6 727.12 262.1 727.09 262.6 727.14 263.1 727.26 263.6 727.42 264.1 727.63 264.6 727.87 265.1 728.12 265.6 728.37 266.1 728.61 266.6 728.83 267.1 729.01 267.6 729.16 268.1 729.28 268.6 729.38 269.1 729.45 269.6 729.50 270.1 729.54 270.6 729.57 271.1 729.58 271.6 729.59 272.1 729.60 272.6 729.61 273.1 729.62 273.6 729.62 274.1 729.63 274.6 729.64 275.1 729.65 275.6 729.66 276.1 729.67 276.6 729.67 277.1 729.68 277.6 729.69 278.1 729.70 278.6 729.71 279.1 729.72 279.6 729.73 280.1 729.74 280.6 729.74 281.1 729.75 281.6 729.76 282.1 729.77 282.6 729.78 283.1 729.79 283.6 729.80 284.1 729.81 284.6 729.81 285.1 729.82 285.6 729.83 286.1 729.84 286.6 729.85 287.1 729.85 287.6 729.86 288.1 729.87 288.6 729.88 289.1 729.88 289.6 729.89 290.1 729.90 290.6 729.90 291.1 729.91 291.6 729.92 292.1 729.92 292.6 729.93 293.1 729.93 293.6 729.94 294.1 729.94 294.6 729.95 295.1 729.95 295.6 729.96 296.1 729.96 296.6 729.96 297.1 729.97 297.6 729.97 298.1 729.98 298.6 729.98 299.1 729.98 299.6 729.98 300.1 729.99 300.6 729.99 301.1 729.99 301.6 729.99 302.1 730.00 302.6 730.00 303.1 730.00 303.6 730.00 304.1 730.00 304.6 730.00 305.1 730.00 305.6 730.01 306.1 730.01 306.6 730.01 307.1 730.01 307.6 730.01 308.1 730.01 308.6 730.01 309.1 730.01 309.6 730.01 310.1 730.01 310.6 730.01 311.1 730.01 311.6 730.01 312.1 730.01 312.6 730.00 313.1 730.00 313.6 730.00 314.1 730.00 314.6 730.00 315.1 730.00 315.6 730.00 316.1 730.00 316.6 729.99 317.1 729.99 317.6 729.99 318.1 729.99 318.6 729.99 319.1 729.98 319.6 729.98 320.1 729.98 320.6 729.98 321.1 729.97 321.6 729.97 322.1 729.97 322.6 729.97 323.1 729.96 323.6 729.96 324.1 729.96 324.6 729.96 325.1 729.95 325.6 729.95 326.1 729.95 326.6 729.94 327.1 729.94 327.6 729.94 328.1 729.94 328.6 729.93 329.1 729.93 329.6 729.93 330.1 729.92 330.6 729.92 331.1 729.92 331.6 729.91 332.1 729.91 332.6 729.91 333.1 729.90 333.6 729.90"/></defs><use href="#cBL_SBP" stroke="#fff" stroke-width="3.4"/><use href="#cBL_SBP" stroke="#464646" stroke-width="1.3"/></g>
<line x1="99.3" y1="741.4" x2="99.3" y2="844.4" stroke="#7f7f7f" stroke-width="1"/>
<line x1="96.90" y1="844.40" x2="99.3" y2="844.40" stroke="#7f7f7f" stroke-width="1"/>
<text x="93.50" y="847.15" font-size="7.9" text-anchor="end" textLength="10.16" lengthAdjust="spacingAndGlyphs" fill="#111" stroke="#111" stroke-width="0.2">0,0</text>
<line x1="96.90" y1="823.80" x2="99.3" y2="823.80" stroke="#7f7f7f" stroke-width="1"/>
<text x="93.50" y="826.55" font-size="7.9" text-anchor="end" textLength="10.16" lengthAdjust="spacingAndGlyphs" fill="#111" stroke="#111" stroke-width="0.2">0,2</text>
<line x1="96.90" y1="803.20" x2="99.3" y2="803.20" stroke="#7f7f7f" stroke-width="1"/>
<text x="93.50" y="805.95" font-size="7.9" text-anchor="end" textLength="10.16" lengthAdjust="spacingAndGlyphs" fill="#111" stroke="#111" stroke-width="0.2">0,4</text>
<line x1="96.90" y1="782.60" x2="99.3" y2="782.60" stroke="#7f7f7f" stroke-width="1"/>
<text x="93.50" y="785.35" font-size="7.9" text-anchor="end" textLength="10.16" lengthAdjust="spacingAndGlyphs" fill="#111" stroke="#111" stroke-width="0.2">0,6</text>
<line x1="96.90" y1="762.00" x2="99.3" y2="762.00" stroke="#7f7f7f" stroke-width="1"/>
<text x="93.50" y="764.75" font-size="7.9" text-anchor="end" textLength="10.16" lengthAdjust="spacingAndGlyphs" fill="#111" stroke="#111" stroke-width="0.2">0,8</text>
<line x1="96.90" y1="741.40" x2="99.3" y2="741.40" stroke="#7f7f7f" stroke-width="1"/>
<text x="93.50" y="744.15" font-size="7.9" text-anchor="end" textLength="10.16" lengthAdjust="spacingAndGlyphs" fill="#111" stroke="#111" stroke-width="0.2">1,0</text>
<text transform="translate(56.10,794.9) rotate(-90)" font-size="9.6" text-anchor="middle" textLength="52.8" lengthAdjust="spacingAndGlyphs" fill="#111" stroke="#111" stroke-width="0.3">Coherence</text>
<g fill="none" stroke-linejoin="round" stroke-linecap="round"><defs><path id="cBL_COH" d="M100.8 842.40 L101.3 841.43 101.8 840.31 102.3 838.87 102.8 836.96 103.3 834.57 103.8 831.96 104.3 829.47 104.8 827.39 105.3 825.86 105.8 824.90 106.3 824.51 106.8 824.69 107.3 825.39 107.8 826.53 108.3 828.04 108.8 829.82 109.3 831.64 109.8 833.28 110.3 834.49 110.8 835.04 111.3 834.84 111.8 833.97 112.3 832.53 112.8 830.60 113.3 828.27 113.8 825.61 114.3 822.70 114.8 819.60 115.3 816.39 115.8 813.14 116.3 809.89 116.8 806.71 117.3 803.64 117.8 800.74 118.3 798.05 118.8 795.56 119.3 793.27 119.8 791.14 120.3 789.17 120.8 787.33 121.3 785.62 121.8 784.02 122.3 782.53 122.8 781.15 123.3 779.86 123.8 778.66 124.3 777.56 124.8 776.53 125.3 775.59 125.8 774.72 126.3 773.92 126.8 773.19 127.3 772.52 127.8 771.91 128.3 771.36 128.8 770.85 129.3 770.40 129.8 770.00 130.4 769.64 130.9 769.33 131.4 769.06 131.9 768.84 132.4 768.66 132.9 768.52 133.4 768.42 133.9 768.36 134.4 768.34 134.9 768.34 135.4 768.39 135.9 768.45 136.4 768.55 136.9 768.67 137.4 768.81 137.9 768.96 138.4 769.14 138.9 769.33 139.4 769.52 139.9 769.73 140.4 769.94 140.9 770.16 141.4 770.38 141.9 770.60 142.4 770.83 142.9 771.06 143.4 771.30 143.9 771.54 144.4 771.77 144.9 772.01 145.4 772.25 145.9 772.49 146.4 772.73 146.9 772.97 147.4 773.21 147.9 773.44 148.4 773.66 148.9 773.88 149.4 774.09 149.9 774.29 150.4 774.49 150.9 774.67 151.4 774.83 151.9 774.99 152.4 775.12 152.9 775.24 153.4 775.35 153.9 775.44 154.4 775.52 154.9 775.58 155.4 775.63 155.9 775.66 156.4 775.69 156.9 775.70 157.4 775.70 157.9 775.69 158.4 775.67 158.9 775.64 159.4 775.61 159.9 775.56 160.4 775.52 160.9 775.46 161.4 775.40 161.9 775.34 162.4 775.27 162.9 775.21 163.4 775.14 163.9 775.07 164.4 775.00 164.9 774.94 165.4 774.88 165.9 774.82 166.4 774.76 166.9 774.71 167.4 774.67 167.9 774.64 168.4 774.61 168.9 774.60 169.4 774.59 169.9 774.60 170.4 774.62 170.9 774.65 171.4 774.69 171.9 774.74 172.4 774.80 172.9 774.87 173.4 774.94 173.9 775.01 174.4 775.09 174.9 775.18 175.4 775.26 175.9 775.34 176.4 775.42 176.9 775.50 177.4 775.57 177.9 775.64 178.4 775.71 178.9 775.77 179.4 775.83 179.9 775.87 180.4 775.92 180.9 775.95 181.4 775.98 181.9 775.99 182.4 776.00 182.9 776.00 183.4 775.99 183.9 775.97 184.4 775.94 184.9 775.91 185.4 775.88 185.9 775.84 186.4 775.81 186.9 775.78 187.4 775.75 187.9 775.72 188.4 775.71 189.0 775.70 189.5 775.70 190.0 775.71 190.5 775.73 191.0 775.76 191.5 775.80 192.0 775.85 192.5 775.91 193.0 775.98 193.5 776.06 194.0 776.14 194.5 776.24 195.0 776.35 195.5 776.46 196.0 776.59 196.5 776.72 197.0 776.87 197.5 777.03 198.0 777.20 198.5 777.40 199.0 777.60 199.5 777.83 200.0 778.08 200.5 778.35 201.0 778.63 201.5 778.95 202.0 779.28 202.5 779.64 203.0 780.02 203.5 780.42 204.0 780.85 204.5 781.29 205.0 781.75 205.5 782.22 206.0 782.71 206.5 783.22 207.0 783.73 207.5 784.27 208.0 784.81 208.5 785.36 209.0 785.92 209.5 786.50 210.0 787.08 210.5 787.68 211.0 788.28 211.5 788.89 212.0 789.51 212.5 790.15 213.0 790.79 213.5 791.43 214.0 792.09 214.5 792.76 215.0 793.43 215.5 794.11 216.0 794.80 216.5 795.49 217.0 796.19 217.5 796.89 218.0 797.60 218.5 798.31 219.0 799.03 219.5 799.75 220.0 800.47 220.5 801.20 221.0 801.92 221.5 802.65 222.0 803.37 222.5 804.09 223.0 804.81 223.5 805.52 224.0 806.23 224.5 806.92 225.0 807.61 225.5 808.28 226.0 808.94 226.5 809.59 227.0 810.22 227.5 810.84 228.0 811.43 228.5 812.01 229.0 812.56 229.5 813.09 230.0 813.60 230.5 814.07 231.0 814.52 231.5 814.94 232.0 815.32 232.5 815.67 233.0 815.97 233.5 816.22 234.0 816.42 234.5 816.55 235.0 816.61 235.5 816.59 236.0 816.49 236.5 816.30 237.0 816.01 237.5 815.62 238.0 815.12 238.5 814.51 239.0 813.77 239.5 812.90 240.0 811.91 240.5 810.78 241.0 809.53 241.5 808.14 242.0 806.64 242.5 805.00 243.0 803.24 243.5 801.36 244.0 799.37 244.5 797.27 245.0 795.07 245.5 792.78 246.0 790.42 246.5 788.00 247.1 785.55 247.6 783.10 248.1 780.67 248.6 778.27 249.1 775.93 249.6 773.64 250.1 771.43 250.6 769.29 251.1 767.24 251.6 765.28 252.1 763.43 252.6 761.67 253.1 760.02 253.6 758.46 254.1 756.98 254.6 755.59 255.1 754.29 255.6 753.05 256.1 751.89 256.6 750.81 257.1 749.79 257.6 748.85 258.1 747.99 258.6 747.21 259.1 746.50 259.6 745.87 260.1 745.33 260.6 744.86 261.1 744.48 261.6 744.19 262.1 743.97 262.6 743.84 263.1 743.78 263.6 743.81 264.1 743.92 264.6 744.12 265.1 744.42 265.6 744.83 266.1 745.36 266.6 746.02 267.1 746.82 267.6 747.77 268.1 748.87 268.6 750.13 269.1 751.53 269.6 753.09 270.1 754.81 270.6 756.67 271.1 758.68 271.6 760.83 272.1 763.13 272.6 765.56 273.1 768.12 273.6 770.80 274.1 773.59 274.6 776.49 275.1 779.49 275.6 782.58 276.1 785.74 276.6 788.96 277.1 792.24 277.6 795.55 278.1 798.89 278.6 802.23 279.1 805.58 279.6 808.90 280.1 812.18 280.6 815.39 281.1 818.54 281.6 821.58 282.1 824.51 282.6 827.30 283.1 829.92 283.6 832.32 284.1 834.46 284.6 836.32 285.1 837.87 285.6 839.07 286.1 839.90 286.6 840.33 287.1 840.40 287.6 840.14 288.1 839.61 288.6 838.84 289.1 837.89 289.6 836.81 290.1 835.63 290.6 834.40 291.1 833.12 291.6 831.80 292.1 830.45 292.6 829.08 293.1 827.71 293.6 826.34 294.1 824.99 294.6 823.66 295.1 822.37 295.6 821.14 296.1 819.98 296.6 818.90 297.1 817.92 297.6 817.06 298.1 816.32 298.6 815.71 299.1 815.22 299.6 814.86 300.1 814.60 300.6 814.45 301.1 814.39 301.6 814.43 302.1 814.56 302.6 814.78 303.1 815.09 303.6 815.49 304.1 815.99 304.6 816.58 305.1 817.26 305.7 818.05 306.2 818.93 306.7 819.89 307.2 820.91 307.7 821.97 308.2 823.05 308.7 824.12 309.2 825.17 309.7 826.17 310.2 827.10 310.7 827.95 311.2 828.69 311.7 829.33 312.2 829.85 312.7 830.24 313.2 830.49 313.7 830.60 314.2 830.55 314.7 830.36 315.2 830.03 315.7 829.58 316.2 829.01 316.7 828.35 317.2 827.60 317.7 826.78 318.2 825.89 318.7 824.95 319.2 823.95 319.7 822.91 320.2 821.82 320.7 820.69 321.2 819.51 321.7 818.31 322.2 817.06 322.7 815.79 323.2 814.49 323.7 813.16 324.2 811.81 324.7 810.42 325.2 809.01 325.7 807.56 326.2 806.07 326.7 804.55 327.2 802.98 327.7 801.38 328.2 799.73 328.7 798.03 329.2 796.28 329.7 794.49 330.2 792.65 330.7 790.78 331.2 788.87 331.7 786.93 332.2 784.96 332.7 782.97 333.2 780.97 333.7 778.95 334.2 776.93 334.7 774.90"/></defs><use href="#cBL_COH" stroke="#fff" stroke-width="3.4"/><use href="#cBL_COH" stroke="#464646" stroke-width="1.3"/></g>
<line x1="100.4" y1="857.5" x2="100.4" y2="956.7" stroke="#7f7f7f" stroke-width="1"/>
<line x1="98.00" y1="956.70" x2="100.4" y2="956.70" stroke="#7f7f7f" stroke-width="1"/>
<text x="93.90" y="959.45" font-size="7.9" text-anchor="end" textLength="4.06" lengthAdjust="spacingAndGlyphs" fill="#111" stroke="#111" stroke-width="0.2">0</text>
<line x1="98.00" y1="923.63" x2="100.4" y2="923.63" stroke="#7f7f7f" stroke-width="1"/>
<text x="94.70" y="926.38" font-size="7.9" text-anchor="end" textLength="8.13" lengthAdjust="spacingAndGlyphs" fill="#111" stroke="#111" stroke-width="0.2">20</text>
<line x1="98.00" y1="890.57" x2="100.4" y2="890.57" stroke="#7f7f7f" stroke-width="1"/>
<text x="94.70" y="893.32" font-size="7.9" text-anchor="end" textLength="8.13" lengthAdjust="spacingAndGlyphs" fill="#111" stroke="#111" stroke-width="0.2">40</text>
<line x1="98.00" y1="857.50" x2="100.4" y2="857.50" stroke="#7f7f7f" stroke-width="1"/>
<text x="94.70" y="860.25" font-size="7.9" text-anchor="end" textLength="8.13" lengthAdjust="spacingAndGlyphs" fill="#111" stroke="#111" stroke-width="0.2">60</text>
<text transform="translate(52.80,913.2) rotate(-90)" font-size="9.6" text-anchor="middle" textLength="89.8" lengthAdjust="spacingAndGlyphs" fill="#111" stroke="#111" stroke-width="0.3">α-gain (ms/mmHg)</text>
<g fill="none" stroke-linejoin="round" stroke-linecap="round"><defs><path id="cBL_GAIN" d="M102.0 954.90 L102.5 954.68 103.0 954.46 103.5 954.23 104.0 954.01 104.5 953.79 105.0 953.56 105.5 953.33 106.0 953.11 106.5 952.88 107.0 952.64 107.5 952.41 108.0 952.18 108.5 951.94 109.0 951.71 109.5 951.48 110.0 951.25 110.5 951.04 111.0 950.83 111.5 950.62 112.0 950.43 112.5 950.25 113.0 950.09 113.5 949.93 114.0 949.79 114.5 949.66 115.0 949.54 115.5 949.44 116.0 949.34 116.5 949.26 117.0 949.19 117.5 949.13 118.0 949.08 118.5 949.04 119.0 949.01 119.5 949.00 120.0 948.99 120.5 948.99 121.0 948.99 121.5 949.00 122.0 949.02 122.5 949.05 123.0 949.08 123.5 949.11 124.0 949.15 124.5 949.19 125.0 949.23 125.5 949.27 126.0 949.31 126.5 949.36 127.0 949.41 127.5 949.46 128.0 949.51 128.5 949.56 129.0 949.61 129.5 949.66 130.0 949.72 130.5 949.77 131.0 949.82 131.5 949.88 132.0 949.94 132.5 949.99 133.0 950.05 133.5 950.10 134.0 950.16 134.5 950.21 135.0 950.27 135.5 950.32 136.0 950.38 136.5 950.43 137.0 950.49 137.5 950.54 138.0 950.59 138.5 950.64 139.0 950.69 139.5 950.74 140.0 950.79 140.5 950.84 141.0 950.89 141.5 950.93 142.0 950.98 142.5 951.02 143.0 951.06 143.5 951.10 144.0 951.14 144.5 951.17 145.0 951.21 145.5 951.24 146.0 951.27 146.5 951.30 147.0 951.32 147.5 951.34 148.0 951.36 148.5 951.38 149.0 951.39 149.5 951.40 150.0 951.40 150.5 951.40 151.0 951.40 151.5 951.39 152.0 951.38 152.5 951.37 153.0 951.35 153.5 951.33 154.0 951.30 154.5 951.27 155.0 951.24 155.5 951.20 156.0 951.16 156.5 951.11 157.0 951.06 157.5 951.01 158.0 950.95 158.5 950.89 159.1 950.82 159.6 950.75 160.1 950.68 160.6 950.60 161.1 950.52 161.6 950.43 162.1 950.34 162.6 950.24 163.1 950.15 163.6 950.04 164.1 949.93 164.6 949.82 165.1 949.71 165.6 949.58 166.1 949.46 166.6 949.33 167.1 949.19 167.6 949.06 168.1 948.91 168.6 948.77 169.1 948.62 169.6 948.46 170.1 948.31 170.6 948.16 171.1 948.01 171.6 947.87 172.1 947.72 172.6 947.58 173.1 947.45 173.6 947.32 174.1 947.19 174.6 947.06 175.1 946.94 175.6 946.81 176.1 946.68 176.6 946.55 177.1 946.42 177.6 946.28 178.1 946.14 178.6 945.99 179.1 945.83 179.6 945.67 180.1 945.51 180.6 945.35 181.1 945.18 181.6 945.01 182.1 944.84 182.6 944.67 183.1 944.49 183.6 944.32 184.1 944.15 184.6 943.98 185.1 943.81 185.6 943.64 186.1 943.48 186.6 943.31 187.1 943.15 187.6 943.00 188.1 942.84 188.6 942.69 189.1 942.54 189.6 942.40 190.1 942.26 190.6 942.12 191.1 941.98 191.6 941.85 192.1 941.73 192.6 941.60 193.1 941.49 193.6 941.37 194.1 941.26 194.6 941.16 195.1 941.06 195.6 940.96 196.1 940.87 196.6 940.78 197.1 940.70 197.6 940.62 198.1 940.55 198.6 940.48 199.1 940.42 199.6 940.36 200.1 940.31 200.6 940.26 201.1 940.22 201.6 940.19 202.1 940.16 202.6 940.13 203.1 940.11 203.6 940.10 204.1 940.08 204.6 940.08 205.1 940.08 205.6 940.08 206.1 940.09 206.6 940.10 207.1 940.12 207.6 940.14 208.1 940.17 208.6 940.20 209.1 940.23 209.6 940.27 210.1 940.31 210.6 940.35 211.1 940.39 211.6 940.44 212.1 940.49 212.6 940.54 213.1 940.60 213.6 940.65 214.1 940.71 214.6 940.77 215.1 940.83 215.6 940.89 216.1 940.95 216.6 941.01 217.1 941.07 217.6 941.13 218.1 941.19 218.6 941.25 219.1 941.31 219.6 941.37 220.1 941.42 220.6 941.48 221.1 941.53 221.6 941.58 222.1 941.63 222.6 941.68 223.1 941.73 223.6 941.77 224.1 941.81 224.6 941.84 225.1 941.88 225.6 941.90 226.1 941.92 226.6 941.94 227.1 941.94 227.6 941.95 228.1 941.94 228.6 941.92 229.1 941.90 229.6 941.87 230.1 941.82 230.6 941.77 231.1 941.71 231.6 941.63 232.1 941.55 232.6 941.45 233.1 941.35 233.6 941.23 234.1 941.10 234.6 940.95 235.1 940.79 235.6 940.62 236.1 940.44 236.6 940.24 237.1 940.03 237.6 939.80 238.1 939.55 238.6 939.29 239.1 939.01 239.6 938.71 240.1 938.39 240.6 938.05 241.1 937.69 241.6 937.31 242.1 936.91 242.6 936.48 243.1 936.04 243.6 935.58 244.1 935.10 244.6 934.59 245.1 934.07 245.6 933.52 246.1 932.95 246.6 932.35 247.1 931.73 247.6 931.08 248.1 930.41 248.6 929.70 249.1 928.96 249.6 928.19 250.1 927.37 250.6 926.52 251.1 925.62 251.6 924.66 252.1 923.64 252.6 922.56 253.1 921.40 253.6 920.17 254.1 918.86 254.6 917.46 255.1 915.97 255.6 914.38 256.1 912.70 256.6 910.92 257.1 909.04 257.6 907.05 258.1 904.95 258.6 902.76 259.1 900.48 259.6 898.13 260.1 895.70 260.6 893.21 261.1 890.65 261.6 888.00 262.1 885.26 262.6 882.42 263.1 879.52 263.6 876.68 264.1 874.02 264.6 871.66 265.1 869.67 265.6 868.03 266.1 866.74 266.6 865.79 267.1 865.14 267.6 864.79 268.1 864.70 268.6 864.85 269.1 865.25 269.6 865.92 270.1 866.86 270.6 868.08 271.1 869.57 271.6 871.26 272.1 873.11 272.7 875.08 273.2 877.10 273.7 879.14 274.2 881.17 274.7 883.17 275.2 885.14 275.7 887.04 276.2 888.87 276.7 890.61 277.2 892.24 277.7 893.77 278.2 895.21 278.7 896.56 279.2 897.85 279.7 899.07 280.2 900.25 280.7 901.39 281.2 902.51 281.7 903.61 282.2 904.70 282.7 905.77 283.2 906.83 283.7 907.87 284.2 908.88 284.7 909.88 285.2 910.85 285.7 911.80 286.2 912.72 286.7 913.61 287.2 914.48 287.7 915.31 288.2 916.11 288.7 916.89 289.2 917.63 289.7 918.35 290.2 919.05 290.7 919.71 291.2 920.36 291.7 920.98 292.2 921.58 292.7 922.16 293.2 922.72 293.7 923.27 294.2 923.79 294.7 924.29 295.2 924.78 295.7 925.25 296.2 925.71 296.7 926.14 297.2 926.57 297.7 926.98 298.2 927.37 298.7 927.75 299.2 928.12 299.7 928.47 300.2 928.82 300.7 929.15 301.2 929.47 301.7 929.77 302.2 930.07 302.7 930.34 303.2 930.60 303.7 930.84 304.2 931.07 304.7 931.27 305.2 931.46 305.7 931.63 306.2 931.77 306.7 931.90 307.2 932.00 307.7 932.07 308.2 932.13 308.7 932.15 309.2 932.16 309.7 932.13 310.2 932.08 310.7 932.01 311.2 931.91 311.7 931.78 312.2 931.62 312.7 931.43 313.2 931.22 313.7 930.97 314.2 930.69 314.7 930.37 315.2 930.01 315.7 929.60 316.2 929.14 316.7 928.63 317.2 928.07 317.7 927.44 318.2 926.74 318.7 925.98 319.2 925.14 319.7 924.22 320.2 923.23 320.7 922.15 321.2 920.97 321.7 919.71 322.2 918.34 322.7 916.87 323.2 915.29 323.7 913.60 324.2 911.76 324.7 909.77 325.2 907.59 325.7 905.20 326.2 902.58 326.7 899.71 327.2 896.58 327.7 893.23 328.2 889.71 328.7 886.08 329.2 882.40"/></defs><use href="#cBL_GAIN" stroke="#fff" stroke-width="3.4"/><use href="#cBL_GAIN" stroke="#464646" stroke-width="1.3"/></g>
<line x1="97.4" y1="956.5" x2="328.5" y2="956.5" stroke="#777" stroke-width="1.1"/>
<line x1="100.30" y1="956.5" x2="100.30" y2="958.9" stroke="#666" stroke-width="1"/>
<line x1="104.86" y1="956.5" x2="104.86" y2="957.9" stroke="#666" stroke-width="1"/>
<line x1="109.43" y1="956.5" x2="109.43" y2="957.9" stroke="#666" stroke-width="1"/>
<line x1="113.99" y1="956.5" x2="113.99" y2="957.9" stroke="#666" stroke-width="1"/>
<line x1="118.56" y1="956.5" x2="118.56" y2="957.9" stroke="#666" stroke-width="1"/>
<line x1="123.12" y1="956.5" x2="123.12" y2="957.9" stroke="#666" stroke-width="1"/>
<line x1="127.68" y1="956.5" x2="127.68" y2="957.9" stroke="#666" stroke-width="1"/>
<line x1="132.25" y1="956.5" x2="132.25" y2="957.9" stroke="#666" stroke-width="1"/>
<line x1="136.81" y1="956.5" x2="136.81" y2="957.9" stroke="#666" stroke-width="1"/>
<line x1="141.38" y1="956.5" x2="141.38" y2="957.9" stroke="#666" stroke-width="1"/>
<line x1="145.94" y1="956.5" x2="145.94" y2="958.9" stroke="#666" stroke-width="1"/>
<line x1="150.50" y1="956.5" x2="150.50" y2="957.9" stroke="#666" stroke-width="1"/>
<line x1="155.07" y1="956.5" x2="155.07" y2="957.9" stroke="#666" stroke-width="1"/>
<line x1="159.63" y1="956.5" x2="159.63" y2="957.9" stroke="#666" stroke-width="1"/>
<line x1="164.20" y1="956.5" x2="164.20" y2="957.9" stroke="#666" stroke-width="1"/>
<line x1="168.76" y1="956.5" x2="168.76" y2="957.9" stroke="#666" stroke-width="1"/>
<line x1="173.32" y1="956.5" x2="173.32" y2="957.9" stroke="#666" stroke-width="1"/>
<line x1="177.89" y1="956.5" x2="177.89" y2="957.9" stroke="#666" stroke-width="1"/>
<line x1="182.45" y1="956.5" x2="182.45" y2="957.9" stroke="#666" stroke-width="1"/>
<line x1="187.02" y1="956.5" x2="187.02" y2="957.9" stroke="#666" stroke-width="1"/>
<line x1="191.58" y1="956.5" x2="191.58" y2="958.9" stroke="#666" stroke-width="1"/>
<line x1="196.14" y1="956.5" x2="196.14" y2="957.9" stroke="#666" stroke-width="1"/>
<line x1="200.71" y1="956.5" x2="200.71" y2="957.9" stroke="#666" stroke-width="1"/>
<line x1="205.27" y1="956.5" x2="205.27" y2="957.9" stroke="#666" stroke-width="1"/>
<line x1="209.84" y1="956.5" x2="209.84" y2="957.9" stroke="#666" stroke-width="1"/>
<line x1="214.40" y1="956.5" x2="214.40" y2="957.9" stroke="#666" stroke-width="1"/>
<line x1="218.96" y1="956.5" x2="218.96" y2="957.9" stroke="#666" stroke-width="1"/>
<line x1="223.53" y1="956.5" x2="223.53" y2="957.9" stroke="#666" stroke-width="1"/>
<line x1="228.09" y1="956.5" x2="228.09" y2="957.9" stroke="#666" stroke-width="1"/>
<line x1="232.66" y1="956.5" x2="232.66" y2="957.9" stroke="#666" stroke-width="1"/>
<line x1="237.22" y1="956.5" x2="237.22" y2="958.9" stroke="#666" stroke-width="1"/>
<line x1="241.78" y1="956.5" x2="241.78" y2="957.9" stroke="#666" stroke-width="1"/>
<line x1="246.35" y1="956.5" x2="246.35" y2="957.9" stroke="#666" stroke-width="1"/>
<line x1="250.91" y1="956.5" x2="250.91" y2="957.9" stroke="#666" stroke-width="1"/>
<line x1="255.48" y1="956.5" x2="255.48" y2="957.9" stroke="#666" stroke-width="1"/>
<line x1="260.04" y1="956.5" x2="260.04" y2="957.9" stroke="#666" stroke-width="1"/>
<line x1="264.60" y1="956.5" x2="264.60" y2="957.9" stroke="#666" stroke-width="1"/>
<line x1="269.17" y1="956.5" x2="269.17" y2="957.9" stroke="#666" stroke-width="1"/>
<line x1="273.73" y1="956.5" x2="273.73" y2="957.9" stroke="#666" stroke-width="1"/>
<line x1="278.30" y1="956.5" x2="278.30" y2="957.9" stroke="#666" stroke-width="1"/>
<line x1="282.86" y1="956.5" x2="282.86" y2="958.9" stroke="#666" stroke-width="1"/>
<line x1="287.42" y1="956.5" x2="287.42" y2="957.9" stroke="#666" stroke-width="1"/>
<line x1="291.99" y1="956.5" x2="291.99" y2="957.9" stroke="#666" stroke-width="1"/>
<line x1="296.55" y1="956.5" x2="296.55" y2="957.9" stroke="#666" stroke-width="1"/>
<line x1="301.12" y1="956.5" x2="301.12" y2="957.9" stroke="#666" stroke-width="1"/>
<line x1="305.68" y1="956.5" x2="305.68" y2="957.9" stroke="#666" stroke-width="1"/>
<line x1="310.24" y1="956.5" x2="310.24" y2="957.9" stroke="#666" stroke-width="1"/>
<line x1="314.81" y1="956.5" x2="314.81" y2="957.9" stroke="#666" stroke-width="1"/>
<line x1="319.37" y1="956.5" x2="319.37" y2="957.9" stroke="#666" stroke-width="1"/>
<line x1="323.94" y1="956.5" x2="323.94" y2="957.9" stroke="#666" stroke-width="1"/>
<line x1="328.50" y1="956.5" x2="328.50" y2="958.9" stroke="#666" stroke-width="1"/>
<text x="100.30" y="970.05" font-size="7.9" text-anchor="middle" textLength="4.06" lengthAdjust="spacingAndGlyphs" fill="#111" stroke="#111" stroke-width="0.2">0</text>
<text x="145.94" y="970.05" font-size="7.9" text-anchor="middle" textLength="10.16" lengthAdjust="spacingAndGlyphs" fill="#111" stroke="#111" stroke-width="0.2">0,1</text>
<text x="191.58" y="970.05" font-size="7.9" text-anchor="middle" textLength="10.16" lengthAdjust="spacingAndGlyphs" fill="#111" stroke="#111" stroke-width="0.2">0,2</text>
<text x="237.22" y="970.05" font-size="7.9" text-anchor="middle" textLength="10.16" lengthAdjust="spacingAndGlyphs" fill="#111" stroke="#111" stroke-width="0.2">0,3</text>
<text x="282.86" y="970.05" font-size="7.9" text-anchor="middle" textLength="10.16" lengthAdjust="spacingAndGlyphs" fill="#111" stroke="#111" stroke-width="0.2">0,4</text>
<text x="328.50" y="970.05" font-size="7.9" text-anchor="middle" textLength="10.16" lengthAdjust="spacingAndGlyphs" fill="#111" stroke="#111" stroke-width="0.2">0,5</text>
<text x="209.6" y="985.1" font-size="9.7" textLength="10.9" lengthAdjust="spacingAndGlyphs" fill="#111" stroke="#111" stroke-width="0.3">Hz</text>
<rect x="468.4" y="513.2" width="158.90" height="439.90" fill="#ededed"/>
<rect x="417.9" y="513.2" width="50.50" height="439.90" fill="#dddddd"/>
<line x1="435.5" y1="513.7" x2="435.5" y2="953.1" stroke="#474747" stroke-width="1" stroke-dasharray="1.6 1.9"/>
<line x1="544.9" y1="513.7" x2="544.9" y2="953.1" stroke="#474747" stroke-width="1" stroke-dasharray="1.6 1.9"/>
<line x1="398.0" y1="516.1" x2="398.0" y2="616.3" stroke="#7f7f7f" stroke-width="1"/>
<line x1="395.60" y1="616.30" x2="398.0" y2="616.30" stroke="#7f7f7f" stroke-width="1"/>
<text x="392.30" y="619.05" font-size="7.9" text-anchor="end" textLength="4.06" lengthAdjust="spacingAndGlyphs" fill="#111" stroke="#111" stroke-width="0.2">0</text>
<line x1="395.60" y1="597.00" x2="398.0" y2="597.00" stroke="#7f7f7f" stroke-width="1"/>
<text x="394.10" y="599.75" font-size="7.9" text-anchor="end" textLength="24.38" lengthAdjust="spacingAndGlyphs" fill="#111" stroke="#111" stroke-width="0.2">100000</text>
<line x1="395.60" y1="577.70" x2="398.0" y2="577.70" stroke="#7f7f7f" stroke-width="1"/>
<text x="394.10" y="580.45" font-size="7.9" text-anchor="end" textLength="24.38" lengthAdjust="spacingAndGlyphs" fill="#111" stroke="#111" stroke-width="0.2">200000</text>
<line x1="395.60" y1="558.40" x2="398.0" y2="558.40" stroke="#7f7f7f" stroke-width="1"/>
<text x="394.10" y="561.15" font-size="7.9" text-anchor="end" textLength="24.38" lengthAdjust="spacingAndGlyphs" fill="#111" stroke="#111" stroke-width="0.2">300000</text>
<line x1="395.60" y1="539.10" x2="398.0" y2="539.10" stroke="#7f7f7f" stroke-width="1"/>
<text x="394.10" y="541.85" font-size="7.9" text-anchor="end" textLength="24.38" lengthAdjust="spacingAndGlyphs" fill="#111" stroke="#111" stroke-width="0.2">400000</text>
<line x1="395.60" y1="519.80" x2="398.0" y2="519.80" stroke="#7f7f7f" stroke-width="1"/>
<text x="394.10" y="522.55" font-size="7.9" text-anchor="end" textLength="24.38" lengthAdjust="spacingAndGlyphs" fill="#111" stroke="#111" stroke-width="0.2">500000</text>
<text transform="translate(358.80,566.0) rotate(-90)" font-size="9.6" text-anchor="middle" textLength="73.7" lengthAdjust="spacingAndGlyphs" fill="#111" stroke="#111" stroke-width="0.3">RR power (ms<tspan font-size="6.8" dy="-3.4">2</tspan><tspan dy="3.4">)</tspan></text>
<g fill="none" stroke-linejoin="round" stroke-linecap="round"><defs><path id="cBR_RR" d="M400.4 611.40 L400.9 611.35 401.4 611.30 401.9 611.26 402.4 611.21 402.9 611.16 403.4 611.12 403.9 611.07 404.4 611.02 404.9 610.98 405.4 610.94 405.9 610.90 406.4 610.86 406.9 610.82 407.4 610.78 407.9 610.75 408.4 610.71 408.9 610.68 409.4 610.65 409.9 610.62 410.4 610.60 410.9 610.57 411.4 610.54 411.9 610.52 412.4 610.49 412.9 610.46 413.4 610.43 413.9 610.40 414.4 610.37 414.9 610.33 415.4 610.29 415.9 610.25 416.4 610.20 416.9 610.15 417.4 610.10 417.9 610.04 418.4 609.98 418.9 609.91 419.4 609.83 419.9 609.75 420.4 609.66 420.9 609.57 421.4 609.47 421.9 609.37 422.4 609.26 422.9 609.14 423.4 609.01 423.9 608.88 424.4 608.74 424.9 608.60 425.4 608.44 425.9 608.29 426.4 608.13 426.9 607.97 427.4 607.82 427.9 607.69 428.4 607.56 428.9 607.46 429.4 607.37 429.9 607.31 430.4 607.28 430.9 607.28 431.4 607.32 431.9 607.39 432.4 607.50 432.9 607.65 433.4 607.83 433.9 608.04 434.4 608.28 434.9 608.55 435.4 608.85 435.9 609.18 436.4 609.52 436.9 609.88 437.4 610.24 437.9 610.60 438.4 610.96 438.9 611.31 439.4 611.64 439.9 611.95 440.4 612.23 440.9 612.49 441.4 612.72 441.9 612.93 442.4 613.12 442.9 613.28 443.4 613.44 443.9 613.57 444.4 613.70 444.9 613.82 445.4 613.92 445.9 614.03 446.4 614.12 446.9 614.22 447.4 614.31 447.9 614.40 448.4 614.49 448.9 614.58 449.4 614.66 449.9 614.75 450.4 614.82 450.9 614.90 451.4 614.97 451.9 615.04 452.4 615.11 452.9 615.17 453.4 615.23 453.9 615.28 454.4 615.34 454.9 615.38 455.4 615.43 455.9 615.47 456.4 615.51 456.9 615.54 457.4 615.57 457.9 615.60 458.4 615.62 458.9 615.64 459.4 615.66 459.9 615.68 460.4 615.70 460.9 615.71 461.4 615.72 461.9 615.73 462.4 615.74 462.9 615.75 463.4 615.76 463.9 615.77 464.4 615.77 464.9 615.78 465.4 615.79 465.9 615.79 466.4 615.80 466.9 615.81 467.4 615.82 467.9 615.83 468.4 615.84 468.9 615.85 469.4 615.86 469.9 615.87 470.4 615.88 470.9 615.89 471.4 615.90 471.9 615.91 472.4 615.92 472.9 615.94 473.4 615.95 473.9 615.96 474.4 615.97 474.9 615.98 475.4 615.99 475.9 616.00 476.4 616.01 476.9 616.02 477.4 616.03 477.9 616.03 478.4 616.04 478.9 616.05 479.4 616.06 479.9 616.06 480.4 616.07 480.9 616.07 481.4 616.08 481.9 616.08 482.4 616.09 482.9 616.09 483.4 616.10 483.9 616.10 484.4 616.10 484.9 616.11 485.4 616.11 485.9 616.11 486.4 616.11 486.9 616.12 487.4 616.12 487.9 616.12 488.4 616.12 488.9 616.12 489.4 616.12 489.9 616.12 490.4 616.12 490.9 616.12 491.4 616.12 491.9 616.12 492.4 616.12 492.9 616.12 493.4 616.12 493.9 616.12 494.4 616.12 494.9 616.12 495.4 616.12 495.9 616.11 496.4 616.11 496.9 616.11 497.4 616.11 497.9 616.11 498.4 616.11 498.9 616.10 499.4 616.10 499.9 616.10 500.4 616.10 500.9 616.10 501.4 616.09 501.9 616.09 502.4 616.09 502.9 616.09 503.4 616.09 503.9 616.09 504.4 616.08 504.9 616.08 505.4 616.08 505.9 616.08 506.4 616.08 506.9 616.08 507.4 616.07 507.9 616.07 508.4 616.07 508.9 616.07 509.4 616.07 509.9 616.07 510.4 616.07 510.9 616.07 511.4 616.07 511.9 616.07 512.4 616.07 512.9 616.07 513.4 616.07 513.9 616.07 514.4 616.07 514.9 616.07 515.4 616.07 515.9 616.07 516.4 616.07 516.9 616.07 517.4 616.07 518.0 616.07 518.5 616.08 519.0 616.08 519.5 616.08 520.0 616.08 520.5 616.09 521.0 616.09 521.5 616.09 522.0 616.10 522.5 616.10 523.0 616.11 523.5 616.11 524.0 616.11 524.5 616.12 525.0 616.12 525.5 616.12 526.0 616.12 526.5 616.12 527.0 616.12 527.5 616.12 528.0 616.11 528.5 616.10 529.0 616.09 529.5 616.08 530.0 616.06 530.5 616.05 531.0 616.02 531.5 616.00 532.0 615.97 532.5 615.94 533.0 615.90 533.5 615.86 534.0 615.81 534.5 615.76 535.0 615.70 535.5 615.64 536.0 615.58 536.5 615.51 537.0 615.44 537.5 615.37 538.0 615.30 538.5 615.23 539.0 615.16 539.5 615.10 540.0 615.04 540.5 614.99 541.0 614.94 541.5 614.91 542.0 614.88 542.5 614.86 543.0 614.85 543.5 614.85 544.0 614.87 544.5 614.90 545.0 614.95 545.5 615.01 546.0 615.08 546.5 615.17 547.0 615.25 547.5 615.34 548.0 615.44 548.5 615.53 549.0 615.62 549.5 615.71 550.0 615.79 550.5 615.87 551.0 615.93 551.5 615.99 552.0 616.04 552.5 616.09 553.0 616.13 553.5 616.17 554.0 616.20 554.5 616.22 555.0 616.25 555.5 616.27 556.0 616.29 556.5 616.31 557.0 616.33 557.5 616.35 558.0 616.36 558.5 616.38 559.0 616.39 559.5 616.41 560.0 616.42 560.5 616.43 561.0 616.45 561.5 616.46 562.0 616.47 562.5 616.48 563.0 616.49 563.5 616.49 564.0 616.50 564.5 616.51 565.0 616.52 565.5 616.52 566.0 616.53 566.5 616.53 567.0 616.54 567.5 616.54 568.0 616.54 568.5 616.55 569.0 616.55 569.5 616.55 570.0 616.55 570.5 616.55 571.0 616.55 571.5 616.55 572.0 616.55 572.5 616.55 573.0 616.55 573.5 616.55 574.0 616.55 574.5 616.55 575.0 616.54 575.5 616.54 576.0 616.54 576.5 616.53 577.0 616.53 577.5 616.53 578.0 616.52 578.5 616.52 579.0 616.51 579.5 616.51 580.0 616.51 580.5 616.50 581.0 616.50 581.5 616.49 582.0 616.49 582.5 616.48 583.0 616.47 583.5 616.47 584.0 616.46 584.5 616.46 585.0 616.45 585.5 616.45 586.0 616.44 586.5 616.44 587.0 616.43 587.5 616.43 588.0 616.42 588.5 616.41 589.0 616.41 589.5 616.40 590.0 616.40 590.5 616.40 591.0 616.39 591.5 616.39 592.0 616.38 592.5 616.38 593.0 616.37 593.5 616.37 594.0 616.37 594.5 616.36 595.0 616.36 595.5 616.36 596.0 616.35 596.5 616.35 597.0 616.35 597.5 616.35 598.0 616.34 598.5 616.34 599.0 616.34 599.5 616.34 600.0 616.34 600.5 616.33 601.0 616.33 601.5 616.33 602.0 616.33 602.5 616.33 603.0 616.33 603.5 616.32 604.0 616.32 604.5 616.32 605.0 616.32 605.5 616.32 606.0 616.32 606.5 616.32 607.0 616.32 607.5 616.32 608.0 616.32 608.5 616.32 609.0 616.32 609.5 616.32 610.0 616.32 610.5 616.32 611.0 616.32 611.5 616.32 612.0 616.32 612.5 616.32 613.0 616.32 613.5 616.32 614.0 616.32 614.5 616.32 615.0 616.32 615.5 616.33 616.0 616.33 616.5 616.33 617.0 616.33 617.5 616.33 618.0 616.33 618.5 616.33 619.0 616.33 619.5 616.34 620.0 616.34 620.5 616.34 621.0 616.34 621.5 616.34 622.0 616.34 622.5 616.35 623.0 616.35 623.5 616.35 624.0 616.35 624.5 616.35 625.0 616.36 625.5 616.36 626.0 616.36 626.5 616.36 627.0 616.36 627.5 616.37 628.0 616.37 628.5 616.37 629.0 616.37 629.5 616.37 630.0 616.38 630.5 616.38 631.0 616.38 631.5 616.38 632.0 616.39 632.5 616.39 633.0 616.39 633.5 616.39 634.0 616.40 634.5 616.40 635.0 616.40"/></defs><use href="#cBR_RR" stroke="#fff" stroke-width="3.4"/><use href="#cBR_RR" stroke="#464646" stroke-width="1.3"/></g>
<line x1="398.4" y1="627.6" x2="398.4" y2="728.8" stroke="#7f7f7f" stroke-width="1"/>
<line x1="396.00" y1="728.80" x2="398.4" y2="728.80" stroke="#7f7f7f" stroke-width="1"/>
<text x="393.10" y="731.55" font-size="7.9" text-anchor="end" textLength="4.06" lengthAdjust="spacingAndGlyphs" fill="#111" stroke="#111" stroke-width="0.2">0</text>
<line x1="396.00" y1="703.50" x2="398.4" y2="703.50" stroke="#7f7f7f" stroke-width="1"/>
<text x="393.60" y="706.25" font-size="7.9" text-anchor="end" textLength="16.25" lengthAdjust="spacingAndGlyphs" fill="#111" stroke="#111" stroke-width="0.2">1000</text>
<line x1="396.00" y1="678.20" x2="398.4" y2="678.20" stroke="#7f7f7f" stroke-width="1"/>
<text x="393.60" y="680.95" font-size="7.9" text-anchor="end" textLength="16.25" lengthAdjust="spacingAndGlyphs" fill="#111" stroke="#111" stroke-width="0.2">2000</text>
<line x1="396.00" y1="652.90" x2="398.4" y2="652.90" stroke="#7f7f7f" stroke-width="1"/>
<text x="393.60" y="655.65" font-size="7.9" text-anchor="end" textLength="16.25" lengthAdjust="spacingAndGlyphs" fill="#111" stroke="#111" stroke-width="0.2">3000</text>
<line x1="396.00" y1="627.60" x2="398.4" y2="627.60" stroke="#7f7f7f" stroke-width="1"/>
<text x="393.60" y="630.35" font-size="7.9" text-anchor="end" textLength="16.25" lengthAdjust="spacingAndGlyphs" fill="#111" stroke="#111" stroke-width="0.2">4000</text>
<text transform="translate(358.30,676.9) rotate(-90)" font-size="9.6" text-anchor="middle" textLength="97.0" lengthAdjust="spacingAndGlyphs" fill="#111" stroke="#111" stroke-width="0.3">SBP power (mmHg<tspan font-size="6.8" dy="-3.4">2</tspan><tspan dy="3.4">)</tspan></text>
<g fill="none" stroke-linejoin="round" stroke-linecap="round"><defs><path id="cBR_SBP" d="M400.4 710.80 L400.9 710.83 401.4 710.87 401.9 710.91 402.4 710.95 402.9 711.02 403.4 711.09 403.9 711.18 404.4 711.30 404.9 711.43 405.4 711.59 405.9 711.78 406.4 711.98 406.9 712.21 407.4 712.46 407.9 712.73 408.4 713.02 408.9 713.32 409.4 713.64 409.9 713.98 410.4 714.32 410.9 714.68 411.4 715.05 411.9 715.42 412.4 715.80 412.9 716.19 413.4 716.57 413.9 716.96 414.4 717.34 414.9 717.71 415.4 718.08 415.9 718.44 416.4 718.77 416.9 719.07 417.4 719.34 417.9 719.57 418.4 719.74 418.9 719.86 419.4 719.92 419.9 719.90 420.4 719.80 420.9 719.64 421.4 719.40 421.9 719.11 422.4 718.75 422.9 718.35 423.4 717.91 423.9 717.42 424.4 716.91 424.9 716.36 425.4 715.80 425.9 715.22 426.4 714.61 426.9 714.00 427.4 713.38 427.9 712.74 428.4 712.10 428.9 711.46 429.4 710.82 429.9 710.18 430.4 709.55 430.9 708.93 431.4 708.35 431.9 707.82 432.4 707.36 432.9 706.98 433.4 706.70 433.9 706.53 434.4 706.48 434.9 706.54 435.4 706.70 435.9 706.95 436.4 707.28 436.9 707.68 437.4 708.15 437.9 708.67 438.4 709.24 438.9 709.85 439.5 710.49 440.0 711.15 440.5 711.82 441.0 712.49 441.5 713.16 442.0 713.81 442.5 714.44 443.0 715.05 443.5 715.62 444.0 716.16 444.5 716.67 445.0 717.16 445.5 717.62 446.0 718.06 446.5 718.48 447.0 718.88 447.5 719.26 448.0 719.62 448.5 719.97 449.0 720.31 449.5 720.63 450.0 720.94 450.5 721.24 451.0 721.53 451.5 721.80 452.0 722.07 452.5 722.32 453.0 722.57 453.5 722.80 454.0 723.03 454.5 723.25 455.0 723.45 455.5 723.65 456.0 723.84 456.5 724.03 457.0 724.20 457.5 724.37 458.0 724.53 458.5 724.69 459.0 724.83 459.5 724.97 460.0 725.11 460.5 725.24 461.0 725.36 461.5 725.48 462.0 725.59 462.5 725.70 463.0 725.80 463.5 725.90 464.0 725.99 464.5 726.08 465.0 726.16 465.5 726.25 466.0 726.32 466.5 726.40 467.0 726.47 467.5 726.53 468.0 726.60 468.5 726.66 469.0 726.72 469.5 726.77 470.0 726.83 470.5 726.88 471.0 726.92 471.5 726.97 472.0 727.01 472.5 727.05 473.0 727.09 473.5 727.13 474.0 727.17 474.5 727.20 475.0 727.24 475.5 727.27 476.0 727.30 476.5 727.33 477.0 727.36 477.5 727.39 478.0 727.41 478.5 727.44 479.0 727.47 479.5 727.49 480.0 727.52 480.5 727.54 481.0 727.56 481.5 727.58 482.0 727.60 482.5 727.62 483.0 727.64 483.5 727.66 484.0 727.68 484.5 727.70 485.0 727.72 485.5 727.73 486.0 727.75 486.5 727.77 487.0 727.78 487.5 727.80 488.0 727.81 488.5 727.82 489.0 727.84 489.5 727.85 490.0 727.86 490.5 727.88 491.0 727.89 491.5 727.90 492.0 727.91 492.5 727.92 493.0 727.93 493.5 727.94 494.0 727.96 494.5 727.97 495.0 727.98 495.5 727.99 496.0 728.00 496.5 728.01 497.0 728.02 497.5 728.03 498.0 728.04 498.5 728.05 499.0 728.06 499.5 728.07 500.0 728.08 500.5 728.09 501.0 728.10 501.5 728.11 502.0 728.12 502.5 728.13 503.0 728.14 503.5 728.15 504.0 728.16 504.5 728.16 505.0 728.17 505.5 728.18 506.0 728.19 506.5 728.19 507.0 728.20 507.5 728.21 508.0 728.22 508.5 728.22 509.0 728.23 509.5 728.23 510.0 728.24 510.5 728.24 511.0 728.25 511.5 728.25 512.0 728.25 512.5 728.26 513.0 728.26 513.5 728.26 514.0 728.26 514.5 728.26 515.0 728.27 515.5 728.27 516.0 728.27 516.5 728.26 517.1 728.26 517.6 728.26 518.1 728.26 518.6 728.26 519.1 728.25 519.6 728.25 520.1 728.24 520.6 728.24 521.1 728.23 521.6 728.22 522.1 728.22 522.6 728.21 523.1 728.20 523.6 728.19 524.1 728.18 524.6 728.17 525.1 728.16 525.6 728.15 526.1 728.13 526.6 728.12 527.1 728.10 527.6 728.09 528.1 728.07 528.6 728.05 529.1 728.04 529.6 728.02 530.1 728.00 530.6 727.98 531.1 727.96 531.6 727.93 532.1 727.91 532.6 727.89 533.1 727.86 533.6 727.84 534.1 727.82 534.6 727.79 535.1 727.77 535.6 727.75 536.1 727.72 536.6 727.70 537.1 727.68 537.6 727.66 538.1 727.64 538.6 727.62 539.1 727.60 539.6 727.58 540.1 727.57 540.6 727.55 541.1 727.54 541.6 727.53 542.1 727.52 542.6 727.51 543.1 727.51 543.6 727.50 544.1 727.50 544.6 727.50 545.1 727.50 545.6 727.51 546.1 727.52 546.6 727.52 547.1 727.54 547.6 727.55 548.1 727.56 548.6 727.58 549.1 727.60 549.6 727.62 550.1 727.64 550.6 727.66 551.1 727.68 551.6 727.71 552.1 727.73 552.6 727.76 553.1 727.79 553.6 727.82 554.1 727.85 554.6 727.88 555.1 727.91 555.6 727.94 556.1 727.97 556.6 728.00 557.1 728.03 557.6 728.06 558.1 728.10 558.6 728.13 559.1 728.16 559.6 728.19 560.1 728.22 560.6 728.25 561.1 728.28 561.6 728.31 562.1 728.34 562.6 728.37 563.1 728.40 563.6 728.43 564.1 728.45 564.6 728.48 565.1 728.50 565.6 728.53 566.1 728.55 566.6 728.58 567.1 728.60 567.6 728.62 568.1 728.64 568.6 728.67 569.1 728.69 569.6 728.71 570.1 728.73 570.6 728.75 571.1 728.76 571.6 728.78 572.1 728.80 572.6 728.82 573.1 728.83 573.6 728.85 574.1 728.87 574.6 728.88 575.1 728.90 575.6 728.91 576.1 728.92 576.6 728.94 577.1 728.95 577.6 728.96 578.1 728.97 578.6 728.98 579.1 728.99 579.6 729.00 580.1 729.01 580.6 729.02 581.1 729.03 581.6 729.04 582.1 729.05 582.6 729.06 583.1 729.06 583.6 729.07 584.1 729.08 584.6 729.08 585.1 729.09 585.6 729.09 586.1 729.10 586.6 729.10 587.1 729.10 587.6 729.11 588.1 729.11 588.6 729.11 589.1 729.11 589.6 729.12 590.1 729.12 590.6 729.12 591.1 729.12 591.6 729.12 592.1 729.12 592.6 729.12 593.1 729.12 593.6 729.12 594.1 729.12 594.7 729.11 595.2 729.11 595.7 729.11 596.2 729.11 596.7 729.10 597.2 729.10 597.7 729.10 598.2 729.09 598.7 729.09 599.2 729.08 599.7 729.08 600.2 729.07 600.7 729.07 601.2 729.06 601.7 729.06 602.2 729.05 602.7 729.04 603.2 729.04 603.7 729.03 604.2 729.02 604.7 729.01 605.2 729.00 605.7 729.00 606.2 728.99 606.7 728.98 607.2 728.97 607.7 728.96 608.2 728.95 608.7 728.94 609.2 728.93 609.7 728.92 610.2 728.91 610.7 728.90 611.2 728.89 611.7 728.88 612.2 728.87 612.7 728.86 613.2 728.85 613.7 728.84 614.2 728.82 614.7 728.81 615.2 728.80 615.7 728.79 616.2 728.78 616.7 728.76 617.2 728.75 617.7 728.74 618.2 728.73 618.7 728.71 619.2 728.70 619.7 728.69 620.2 728.67 620.7 728.66 621.2 728.65 621.7 728.63 622.2 728.62 622.7 728.61 623.2 728.59 623.7 728.58 624.2 728.56 624.7 728.55 625.2 728.53 625.7 728.52 626.2 728.51 626.7 728.49 627.2 728.48 627.7 728.46 628.2 728.45 628.7 728.43 629.2 728.42 629.7 728.40 630.2 728.39 630.7 728.37 631.2 728.36 631.7 728.34 632.2 728.33 632.7 728.31 633.2 728.30"/></defs><use href="#cBR_SBP" stroke="#fff" stroke-width="3.4"/><use href="#cBR_SBP" stroke="#464646" stroke-width="1.3"/></g>
<line x1="399.2" y1="740.3" x2="399.2" y2="842.6" stroke="#7f7f7f" stroke-width="1"/>
<line x1="396.80" y1="842.60" x2="399.2" y2="842.60" stroke="#7f7f7f" stroke-width="1"/>
<text x="393.40" y="845.35" font-size="7.9" text-anchor="end" textLength="10.16" lengthAdjust="spacingAndGlyphs" fill="#111" stroke="#111" stroke-width="0.2">0,0</text>
<line x1="396.80" y1="822.14" x2="399.2" y2="822.14" stroke="#7f7f7f" stroke-width="1"/>
<text x="393.40" y="824.89" font-size="7.9" text-anchor="end" textLength="10.16" lengthAdjust="spacingAndGlyphs" fill="#111" stroke="#111" stroke-width="0.2">0,2</text>
<line x1="396.80" y1="801.68" x2="399.2" y2="801.68" stroke="#7f7f7f" stroke-width="1"/>
<text x="393.40" y="804.43" font-size="7.9" text-anchor="end" textLength="10.16" lengthAdjust="spacingAndGlyphs" fill="#111" stroke="#111" stroke-width="0.2">0,4</text>
<line x1="396.80" y1="781.22" x2="399.2" y2="781.22" stroke="#7f7f7f" stroke-width="1"/>
<text x="393.40" y="783.97" font-size="7.9" text-anchor="end" textLength="10.16" lengthAdjust="spacingAndGlyphs" fill="#111" stroke="#111" stroke-width="0.2">0,6</text>
<line x1="396.80" y1="760.76" x2="399.2" y2="760.76" stroke="#7f7f7f" stroke-width="1"/>
<text x="393.40" y="763.51" font-size="7.9" text-anchor="end" textLength="10.16" lengthAdjust="spacingAndGlyphs" fill="#111" stroke="#111" stroke-width="0.2">0,8</text>
<line x1="396.80" y1="740.30" x2="399.2" y2="740.30" stroke="#7f7f7f" stroke-width="1"/>
<text x="393.40" y="743.05" font-size="7.9" text-anchor="end" textLength="10.16" lengthAdjust="spacingAndGlyphs" fill="#111" stroke="#111" stroke-width="0.2">1,0</text>
<text transform="translate(361.40,793.0) rotate(-90)" font-size="9.6" text-anchor="middle" textLength="52.1" lengthAdjust="spacingAndGlyphs" fill="#111" stroke="#111" stroke-width="0.3">Coherence</text>
<g fill="none" stroke-linejoin="round" stroke-linecap="round"><defs><path id="cBR_COH" d="M400.8 805.80 L401.3 805.88 401.8 805.97 402.3 806.08 402.8 806.21 403.3 806.37 403.8 806.56 404.3 806.81 404.8 807.10 405.3 807.46 405.8 807.88 406.3 808.37 406.8 808.93 407.3 809.55 407.8 810.25 408.3 811.02 408.8 811.87 409.3 812.80 409.8 813.81 410.3 814.89 410.8 816.06 411.3 817.31 411.8 818.65 412.3 820.07 412.8 821.57 413.3 823.15 413.8 824.79 414.3 826.50 414.8 828.26 415.3 830.06 415.8 831.89 416.3 833.74 416.8 835.55 417.3 837.22 417.8 838.62 418.3 839.64 418.8 840.17 419.3 840.10 419.8 839.39 420.3 838.03 420.8 836.01 421.3 833.30 421.8 829.95 422.3 826.08 422.8 821.83 423.3 817.33 423.8 812.71 424.3 808.09 424.8 803.58 425.3 799.27 425.8 795.24 426.3 791.60 426.8 788.38 427.3 785.51 427.8 782.92 428.3 780.54 428.8 778.29 429.3 776.08 429.8 773.89 430.4 771.72 430.9 769.62 431.4 767.63 431.9 765.79 432.4 764.14 432.9 762.71 433.4 761.52 433.9 760.54 434.4 759.76 434.9 759.16 435.4 758.74 435.9 758.48 436.4 758.37 436.9 758.38 437.4 758.50 437.9 758.73 438.4 759.05 438.9 759.43 439.4 759.88 439.9 760.36 440.4 760.88 440.9 761.43 441.4 761.99 441.9 762.57 442.4 763.17 442.9 763.78 443.4 764.41 443.9 765.05 444.4 765.69 444.9 766.34 445.4 767.00 445.9 767.65 446.4 768.30 446.9 768.95 447.4 769.60 447.9 770.24 448.4 770.88 448.9 771.52 449.4 772.16 449.9 772.79 450.4 773.42 450.9 774.05 451.4 774.68 451.9 775.31 452.4 775.94 452.9 776.56 453.4 777.19 453.9 777.81 454.4 778.43 454.9 779.04 455.4 779.66 455.9 780.27 456.4 780.87 456.9 781.47 457.4 782.06 457.9 782.65 458.4 783.23 458.9 783.80 459.4 784.36 459.9 784.92 460.4 785.47 460.9 786.01 461.4 786.54 461.9 787.07 462.4 787.59 462.9 788.10 463.4 788.61 463.9 789.12 464.4 789.62 464.9 790.11 465.4 790.61 465.9 791.10 466.4 791.58 466.9 792.06 467.4 792.54 467.9 793.01 468.4 793.48 468.9 793.94 469.4 794.39 469.9 794.84 470.4 795.28 470.9 795.71 471.4 796.13 471.9 796.55 472.4 796.96 472.9 797.37 473.4 797.77 473.9 798.17 474.4 798.56 474.9 798.96 475.4 799.36 475.9 799.76 476.4 800.16 476.9 800.57 477.4 800.99 477.9 801.41 478.4 801.85 478.9 802.29 479.4 802.74 479.9 803.19 480.4 803.64 480.9 804.10 481.4 804.55 481.9 805.00 482.4 805.45 482.9 805.90 483.4 806.34 483.9 806.77 484.4 807.19 484.9 807.60 485.4 808.00 485.9 808.40 486.4 808.79 486.9 809.18 487.4 809.56 487.9 809.94 488.5 810.32 489.0 810.70 489.5 811.08 490.0 811.46 490.5 811.84 491.0 812.23 491.5 812.62 492.0 813.01 492.5 813.40 493.0 813.80 493.5 814.18 494.0 814.57 494.5 814.95 495.0 815.32 495.5 815.69 496.0 816.05 496.5 816.40 497.0 816.75 497.5 817.09 498.0 817.42 498.5 817.75 499.0 818.08 499.5 818.40 500.0 818.71 500.5 819.03 501.0 819.34 501.5 819.64 502.0 819.95 502.5 820.26 503.0 820.56 503.5 820.85 504.0 821.14 504.5 821.42 505.0 821.70 505.5 821.96 506.0 822.22 506.5 822.46 507.0 822.69 507.5 822.91 508.0 823.11 508.5 823.30 509.0 823.48 509.5 823.64 510.0 823.78 510.5 823.91 511.0 824.03 511.5 824.13 512.0 824.21 512.5 824.28 513.0 824.34 513.5 824.38 514.0 824.40 514.5 824.41 515.0 824.40 515.5 824.37 516.0 824.32 516.5 824.25 517.0 824.15 517.5 824.03 518.0 823.88 518.5 823.70 519.0 823.50 519.5 823.25 520.0 822.98 520.5 822.67 521.0 822.32 521.5 821.93 522.0 821.51 522.5 821.05 523.0 820.55 523.5 820.02 524.0 819.45 524.5 818.84 525.0 818.19 525.5 817.50 526.0 816.78 526.5 816.02 527.0 815.22 527.5 814.39 528.0 813.53 528.5 812.64 529.0 811.71 529.5 810.75 530.0 809.76 530.5 808.75 531.0 807.71 531.5 806.64 532.0 805.54 532.5 804.42 533.0 803.28 533.5 802.12 534.0 800.94 534.5 799.73 535.0 798.51 535.5 797.27 536.0 796.02 536.5 794.75 537.0 793.47 537.5 792.19 538.0 790.89 538.5 789.59 539.0 788.29 539.5 786.98 540.0 785.68 540.5 784.38 541.0 783.12 541.5 781.90 542.0 780.75 542.5 779.68 543.0 778.72 543.5 777.88 544.0 777.18 544.5 776.67 545.0 776.37 545.5 776.31 546.0 776.50 546.6 776.93 547.1 777.58 547.6 778.43 548.1 779.44 548.6 780.61 549.1 781.89 549.6 783.29 550.1 784.78 550.6 786.35 551.1 787.97 551.6 789.64 552.1 791.33 552.6 793.02 553.1 794.72 553.6 796.42 554.1 798.13 554.6 799.83 555.1 801.54 555.6 803.25 556.1 804.96 556.6 806.67 557.1 808.39 557.6 810.09 558.1 811.79 558.6 813.48 559.1 815.15 559.6 816.80 560.1 818.42 560.6 820.01 561.1 821.56 561.6 823.07 562.1 824.54 562.6 825.96 563.1 827.31 563.6 828.61 564.1 829.84 564.6 830.99 565.1 832.07 565.6 833.07 566.1 833.99 566.6 834.83 567.1 835.61 567.6 836.32 568.1 836.98 568.6 837.58 569.1 838.13 569.6 838.64 570.1 839.10 570.6 839.53 571.1 839.93 571.6 840.30 572.1 840.64 572.6 840.95 573.1 841.24 573.6 841.49 574.1 841.72 574.6 841.92 575.1 842.10 575.6 842.25 576.1 842.37 576.6 842.47 577.1 842.54 577.6 842.58 578.1 842.61 578.6 842.60 579.1 842.58 579.6 842.53 580.1 842.46 580.6 842.38 581.1 842.27 581.6 842.15 582.1 842.02 582.6 841.87 583.1 841.71 583.6 841.54 584.1 841.36 584.6 841.17 585.1 840.97 585.6 840.77 586.1 840.56 586.6 840.35 587.1 840.14 587.6 839.92 588.1 839.71 588.6 839.48 589.1 839.26 589.6 839.03 590.1 838.80 590.6 838.56 591.1 838.32 591.6 838.08 592.1 837.82 592.6 837.57 593.1 837.30 593.6 837.03 594.1 836.76 594.6 836.47 595.1 836.18 595.6 835.88 596.1 835.57 596.6 835.26 597.1 834.94 597.6 834.62 598.1 834.29 598.6 833.95 599.1 833.61 599.6 833.27 600.1 832.92 600.6 832.57 601.1 832.22 601.6 831.87 602.1 831.51 602.6 831.15 603.1 830.79 603.6 830.44 604.1 830.08 604.7 829.72 605.2 829.37 605.7 829.01 606.2 828.66 606.7 828.31 607.2 827.96 607.7 827.62 608.2 827.28 608.7 826.94 609.2 826.61 609.7 826.28 610.2 825.96 610.7 825.64 611.2 825.33 611.7 825.02 612.2 824.72 612.7 824.43 613.2 824.14 613.7 823.87 614.2 823.61 614.7 823.35 615.2 823.12 615.7 822.89 616.2 822.69 616.7 822.50 617.2 822.33 617.7 822.18 618.2 822.05 618.7 821.95 619.2 821.87 619.7 821.82 620.2 821.79 620.7 821.79 621.2 821.83 621.7 821.89 622.2 821.99 622.7 822.11 623.2 822.26 623.7 822.44 624.2 822.64 624.7 822.88 625.2 823.14 625.7 823.42 626.2 823.73 626.7 824.06 627.2 824.42 627.7 824.79 628.2 825.19 628.7 825.61 629.2 826.04 629.7 826.48 630.2 826.94 630.7 827.42 631.2 827.90 631.7 828.39 632.2 828.89 632.7 829.39 633.2 829.89 633.7 830.40"/></defs><use href="#cBR_COH" stroke="#fff" stroke-width="3.4"/><use href="#cBR_COH" stroke="#464646" stroke-width="1.3"/></g>
<line x1="400.0" y1="856.0" x2="400.0" y2="954.2" stroke="#7f7f7f" stroke-width="1"/>
<line x1="397.60" y1="954.20" x2="400.0" y2="954.20" stroke="#7f7f7f" stroke-width="1"/>
<text x="393.50" y="956.95" font-size="7.9" text-anchor="end" textLength="4.06" lengthAdjust="spacingAndGlyphs" fill="#111" stroke="#111" stroke-width="0.2">0</text>
<line x1="397.60" y1="921.47" x2="400.0" y2="921.47" stroke="#7f7f7f" stroke-width="1"/>
<text x="394.30" y="924.22" font-size="7.9" text-anchor="end" textLength="8.13" lengthAdjust="spacingAndGlyphs" fill="#111" stroke="#111" stroke-width="0.2">20</text>
<line x1="397.60" y1="888.73" x2="400.0" y2="888.73" stroke="#7f7f7f" stroke-width="1"/>
<text x="394.30" y="891.48" font-size="7.9" text-anchor="end" textLength="8.13" lengthAdjust="spacingAndGlyphs" fill="#111" stroke="#111" stroke-width="0.2">40</text>
<line x1="397.60" y1="856.00" x2="400.0" y2="856.00" stroke="#7f7f7f" stroke-width="1"/>
<text x="394.30" y="858.75" font-size="7.9" text-anchor="end" textLength="8.13" lengthAdjust="spacingAndGlyphs" fill="#111" stroke="#111" stroke-width="0.2">60</text>
<text transform="translate(364.60,905.9) rotate(-90)" font-size="9.6" text-anchor="middle" textLength="89.6" lengthAdjust="spacingAndGlyphs" fill="#111" stroke="#111" stroke-width="0.3">α-gain (ms/mmHg)</text>
<g fill="none" stroke-linejoin="round" stroke-linecap="round"><defs><path id="cBR_GAIN" d="M401.7 951.90 L402.2 951.78 402.7 951.66 403.2 951.54 403.7 951.41 404.2 951.27 404.7 951.11 405.2 950.94 405.7 950.75 406.2 950.54 406.7 950.31 407.2 950.05 407.7 949.77 408.2 949.45 408.7 949.11 409.2 948.75 409.7 948.36 410.2 947.95 410.7 947.51 411.2 947.06 411.7 946.59 412.2 946.10 412.7 945.60 413.2 945.08 413.7 944.55 414.2 944.02 414.7 943.48 415.2 942.95 415.7 942.43 416.2 941.93 416.7 941.45 417.2 941.00 417.7 940.59 418.2 940.21 418.7 939.88 419.2 939.58 419.7 939.33 420.2 939.12 420.7 938.95 421.2 938.83 421.7 938.74 422.2 938.70 422.7 938.71 423.2 938.75 423.7 938.84 424.2 938.95 424.7 939.10 425.2 939.28 425.7 939.47 426.2 939.69 426.7 939.92 427.2 940.16 427.7 940.41 428.2 940.66 428.7 940.92 429.2 941.17 429.7 941.42 430.2 941.67 430.7 941.92 431.2 942.16 431.7 942.40 432.2 942.64 432.7 942.86 433.2 943.08 433.7 943.29 434.2 943.50 434.7 943.69 435.2 943.87 435.7 944.04 436.2 944.20 436.7 944.35 437.2 944.49 437.7 944.61 438.2 944.73 438.7 944.84 439.2 944.94 439.7 945.04 440.2 945.13 440.7 945.21 441.2 945.29 441.7 945.36 442.2 945.43 442.7 945.50 443.2 945.56 443.7 945.63 444.2 945.69 444.7 945.75 445.2 945.82 445.7 945.88 446.2 945.95 446.7 946.02 447.2 946.09 447.7 946.15 448.2 946.22 448.7 946.29 449.2 946.36 449.7 946.43 450.2 946.50 450.7 946.56 451.2 946.63 451.7 946.69 452.2 946.76 452.7 946.82 453.2 946.88 453.7 946.94 454.2 946.99 454.7 947.04 455.2 947.09 455.7 947.14 456.2 947.19 456.7 947.23 457.2 947.27 457.7 947.30 458.2 947.33 458.8 947.36 459.3 947.39 459.8 947.41 460.3 947.43 460.8 947.45 461.3 947.47 461.8 947.48 462.3 947.50 462.8 947.51 463.3 947.52 463.8 947.52 464.3 947.53 464.8 947.53 465.3 947.53 465.8 947.54 466.3 947.54 466.8 947.54 467.3 947.53 467.8 947.53 468.3 947.53 468.8 947.52 469.3 947.52 469.8 947.52 470.3 947.51 470.8 947.51 471.3 947.50 471.8 947.50 472.3 947.49 472.8 947.49 473.3 947.49 473.8 947.48 474.3 947.48 474.8 947.48 475.3 947.47 475.8 947.47 476.3 947.47 476.8 947.47 477.3 947.46 477.8 947.46 478.3 947.46 478.8 947.46 479.3 947.46 479.8 947.46 480.3 947.46 480.8 947.46 481.3 947.46 481.8 947.46 482.3 947.46 482.8 947.46 483.3 947.46 483.8 947.46 484.3 947.46 484.8 947.46 485.3 947.47 485.8 947.47 486.3 947.47 486.8 947.47 487.3 947.48 487.8 947.48 488.3 947.48 488.8 947.49 489.3 947.49 489.8 947.50 490.3 947.50 490.8 947.50 491.3 947.51 491.8 947.52 492.3 947.52 492.8 947.53 493.3 947.53 493.8 947.54 494.3 947.55 494.8 947.55 495.3 947.56 495.8 947.57 496.3 947.57 496.8 947.58 497.3 947.59 497.8 947.60 498.3 947.60 498.8 947.61 499.3 947.62 499.8 947.63 500.3 947.64 500.8 947.64 501.3 947.65 501.8 947.66 502.3 947.67 502.8 947.68 503.3 947.69 503.8 947.70 504.3 947.70 504.8 947.71 505.3 947.72 505.8 947.73 506.3 947.74 506.8 947.75 507.3 947.76 507.8 947.76 508.3 947.77 508.8 947.78 509.3 947.79 509.8 947.80 510.3 947.80 510.8 947.81 511.3 947.82 511.8 947.83 512.3 947.83 512.8 947.83 513.3 947.83 513.8 947.83 514.3 947.83 514.8 947.82 515.3 947.81 515.8 947.80 516.3 947.78 516.8 947.76 517.3 947.73 517.8 947.70 518.3 947.66 518.8 947.62 519.3 947.57 519.8 947.51 520.3 947.45 520.8 947.38 521.3 947.30 521.8 947.22 522.3 947.13 522.8 947.04 523.3 946.94 523.8 946.83 524.3 946.72 524.8 946.61 525.3 946.49 525.8 946.36 526.3 946.23 526.8 946.09 527.3 945.95 527.8 945.81 528.3 945.66 528.8 945.51 529.3 945.35 529.8 945.20 530.3 945.03 530.8 944.87 531.3 944.70 531.8 944.53 532.3 944.36 532.8 944.19 533.3 944.02 533.8 943.85 534.3 943.68 534.8 943.51 535.3 943.34 535.8 943.17 536.3 943.01 536.8 942.85 537.3 942.69 537.8 942.54 538.3 942.39 538.8 942.24 539.3 942.10 539.8 941.97 540.3 941.84 540.8 941.72 541.3 941.61 541.8 941.51 542.3 941.42 542.8 941.34 543.3 941.28 543.8 941.23 544.3 941.20 544.8 941.19 545.3 941.20 545.8 941.23 546.3 941.28 546.8 941.34 547.3 941.42 547.8 941.52 548.3 941.63 548.8 941.75 549.3 941.89 549.8 942.03 550.3 942.19 550.8 942.34 551.3 942.51 551.8 942.68 552.3 942.85 552.8 943.03 553.3 943.20 553.8 943.38 554.3 943.57 554.8 943.75 555.3 943.93 555.8 944.11 556.3 944.29 556.8 944.47 557.3 944.65 557.8 944.83 558.3 945.00 558.8 945.17 559.3 945.34 559.8 945.50 560.3 945.66 560.8 945.81 561.3 945.95 561.8 946.10 562.3 946.23 562.8 946.36 563.3 946.48 563.8 946.60 564.3 946.71 564.8 946.82 565.3 946.92 565.8 947.02 566.3 947.11 566.8 947.20 567.3 947.28 567.8 947.37 568.3 947.44 568.8 947.52 569.3 947.59 569.8 947.66 570.3 947.73 570.8 947.79 571.4 947.86 571.9 947.92 572.4 947.98 572.9 948.04 573.4 948.09 573.9 948.15 574.4 948.21 574.9 948.26 575.4 948.32 575.9 948.37 576.4 948.42 576.9 948.47 577.4 948.53 577.9 948.58 578.4 948.62 578.9 948.67 579.4 948.72 579.9 948.77 580.4 948.81 580.9 948.86 581.4 948.91 581.9 948.95 582.4 948.99 582.9 949.03 583.4 949.08 583.9 949.12 584.4 949.16 584.9 949.20 585.4 949.23 585.9 949.27 586.4 949.31 586.9 949.34 587.4 949.38 587.9 949.41 588.4 949.45 588.9 949.48 589.4 949.51 589.9 949.54 590.4 949.57 590.9 949.60 591.4 949.63 591.9 949.66 592.4 949.69 592.9 949.71 593.4 949.74 593.9 949.76 594.4 949.79 594.9 949.82 595.4 949.84 595.9 949.86 596.4 949.89 596.9 949.91 597.4 949.94 597.9 949.96 598.4 949.98 598.9 950.00 599.4 950.03 599.9 950.05 600.4 950.07 600.9 950.10 601.4 950.12 601.9 950.14 602.4 950.16 602.9 950.19 603.4 950.21 603.9 950.23 604.4 950.26 604.9 950.28 605.4 950.31 605.9 950.33 606.4 950.36 606.9 950.38 607.4 950.41 607.9 950.44 608.4 950.47 608.9 950.49 609.4 950.52 609.9 950.55 610.4 950.58 610.9 950.61 611.4 950.64 611.9 950.68 612.4 950.71 612.9 950.74 613.4 950.78 613.9 950.81 614.4 950.84 614.9 950.88 615.4 950.91 615.9 950.95 616.4 950.99 616.9 951.02 617.4 951.06 617.9 951.10 618.4 951.14 618.9 951.17 619.4 951.21 619.9 951.25 620.4 951.29 620.9 951.33 621.4 951.37 621.9 951.41 622.4 951.45 622.9 951.49 623.4 951.53 623.9 951.57 624.4 951.61 624.9 951.65 625.4 951.69 625.9 951.74 626.4 951.78 626.9 951.82 627.4 951.86 627.9 951.90"/></defs><use href="#cBR_GAIN" stroke="#fff" stroke-width="3.4"/><use href="#cBR_GAIN" stroke="#464646" stroke-width="1.3"/></g>
<line x1="397.0" y1="954.2" x2="627.8" y2="954.2" stroke="#777" stroke-width="1.1"/>
<line x1="399.90" y1="954.2" x2="399.90" y2="956.6" stroke="#666" stroke-width="1"/>
<line x1="404.46" y1="954.2" x2="404.46" y2="955.6" stroke="#666" stroke-width="1"/>
<line x1="409.02" y1="954.2" x2="409.02" y2="955.6" stroke="#666" stroke-width="1"/>
<line x1="413.57" y1="954.2" x2="413.57" y2="955.6" stroke="#666" stroke-width="1"/>
<line x1="418.13" y1="954.2" x2="418.13" y2="955.6" stroke="#666" stroke-width="1"/>
<line x1="422.69" y1="954.2" x2="422.69" y2="955.6" stroke="#666" stroke-width="1"/>
<line x1="427.25" y1="954.2" x2="427.25" y2="955.6" stroke="#666" stroke-width="1"/>
<line x1="431.81" y1="954.2" x2="431.81" y2="955.6" stroke="#666" stroke-width="1"/>
<line x1="436.36" y1="954.2" x2="436.36" y2="955.6" stroke="#666" stroke-width="1"/>
<line x1="440.92" y1="954.2" x2="440.92" y2="955.6" stroke="#666" stroke-width="1"/>
<line x1="445.48" y1="954.2" x2="445.48" y2="956.6" stroke="#666" stroke-width="1"/>
<line x1="450.04" y1="954.2" x2="450.04" y2="955.6" stroke="#666" stroke-width="1"/>
<line x1="454.60" y1="954.2" x2="454.60" y2="955.6" stroke="#666" stroke-width="1"/>
<line x1="459.15" y1="954.2" x2="459.15" y2="955.6" stroke="#666" stroke-width="1"/>
<line x1="463.71" y1="954.2" x2="463.71" y2="955.6" stroke="#666" stroke-width="1"/>
<line x1="468.27" y1="954.2" x2="468.27" y2="955.6" stroke="#666" stroke-width="1"/>
<line x1="472.83" y1="954.2" x2="472.83" y2="955.6" stroke="#666" stroke-width="1"/>
<line x1="477.39" y1="954.2" x2="477.39" y2="955.6" stroke="#666" stroke-width="1"/>
<line x1="481.94" y1="954.2" x2="481.94" y2="955.6" stroke="#666" stroke-width="1"/>
<line x1="486.50" y1="954.2" x2="486.50" y2="955.6" stroke="#666" stroke-width="1"/>
<line x1="491.06" y1="954.2" x2="491.06" y2="956.6" stroke="#666" stroke-width="1"/>
<line x1="495.62" y1="954.2" x2="495.62" y2="955.6" stroke="#666" stroke-width="1"/>
<line x1="500.18" y1="954.2" x2="500.18" y2="955.6" stroke="#666" stroke-width="1"/>
<line x1="504.73" y1="954.2" x2="504.73" y2="955.6" stroke="#666" stroke-width="1"/>
<line x1="509.29" y1="954.2" x2="509.29" y2="955.6" stroke="#666" stroke-width="1"/>
<line x1="513.85" y1="954.2" x2="513.85" y2="955.6" stroke="#666" stroke-width="1"/>
<line x1="518.41" y1="954.2" x2="518.41" y2="955.6" stroke="#666" stroke-width="1"/>
<line x1="522.97" y1="954.2" x2="522.97" y2="955.6" stroke="#666" stroke-width="1"/>
<line x1="527.52" y1="954.2" x2="527.52" y2="955.6" stroke="#666" stroke-width="1"/>
<line x1="532.08" y1="954.2" x2="532.08" y2="955.6" stroke="#666" stroke-width="1"/>
<line x1="536.64" y1="954.2" x2="536.64" y2="956.6" stroke="#666" stroke-width="1"/>
<line x1="541.20" y1="954.2" x2="541.20" y2="955.6" stroke="#666" stroke-width="1"/>
<line x1="545.76" y1="954.2" x2="545.76" y2="955.6" stroke="#666" stroke-width="1"/>
<line x1="550.31" y1="954.2" x2="550.31" y2="955.6" stroke="#666" stroke-width="1"/>
<line x1="554.87" y1="954.2" x2="554.87" y2="955.6" stroke="#666" stroke-width="1"/>
<line x1="559.43" y1="954.2" x2="559.43" y2="955.6" stroke="#666" stroke-width="1"/>
<line x1="563.99" y1="954.2" x2="563.99" y2="955.6" stroke="#666" stroke-width="1"/>
<line x1="568.55" y1="954.2" x2="568.55" y2="955.6" stroke="#666" stroke-width="1"/>
<line x1="573.10" y1="954.2" x2="573.10" y2="955.6" stroke="#666" stroke-width="1"/>
<line x1="577.66" y1="954.2" x2="577.66" y2="955.6" stroke="#666" stroke-width="1"/>
<line x1="582.22" y1="954.2" x2="582.22" y2="956.6" stroke="#666" stroke-width="1"/>
<line x1="586.78" y1="954.2" x2="586.78" y2="955.6" stroke="#666" stroke-width="1"/>
<line x1="591.34" y1="954.2" x2="591.34" y2="955.6" stroke="#666" stroke-width="1"/>
<line x1="595.89" y1="954.2" x2="595.89" y2="955.6" stroke="#666" stroke-width="1"/>
<line x1="600.45" y1="954.2" x2="600.45" y2="955.6" stroke="#666" stroke-width="1"/>
<line x1="605.01" y1="954.2" x2="605.01" y2="955.6" stroke="#666" stroke-width="1"/>
<line x1="609.57" y1="954.2" x2="609.57" y2="955.6" stroke="#666" stroke-width="1"/>
<line x1="614.13" y1="954.2" x2="614.13" y2="955.6" stroke="#666" stroke-width="1"/>
<line x1="618.68" y1="954.2" x2="618.68" y2="955.6" stroke="#666" stroke-width="1"/>
<line x1="623.24" y1="954.2" x2="623.24" y2="955.6" stroke="#666" stroke-width="1"/>
<line x1="627.80" y1="954.2" x2="627.80" y2="956.6" stroke="#666" stroke-width="1"/>
<text x="399.90" y="967.75" font-size="7.9" text-anchor="middle" textLength="4.06" lengthAdjust="spacingAndGlyphs" fill="#111" stroke="#111" stroke-width="0.2">0</text>
<text x="445.48" y="967.75" font-size="7.9" text-anchor="middle" textLength="10.16" lengthAdjust="spacingAndGlyphs" fill="#111" stroke="#111" stroke-width="0.2">0,1</text>
<text x="491.06" y="967.75" font-size="7.9" text-anchor="middle" textLength="10.16" lengthAdjust="spacingAndGlyphs" fill="#111" stroke="#111" stroke-width="0.2">0,2</text>
<text x="536.64" y="967.75" font-size="7.9" text-anchor="middle" textLength="10.16" lengthAdjust="spacingAndGlyphs" fill="#111" stroke="#111" stroke-width="0.2">0,3</text>
<text x="582.22" y="967.75" font-size="7.9" text-anchor="middle" textLength="10.16" lengthAdjust="spacingAndGlyphs" fill="#111" stroke="#111" stroke-width="0.2">0,4</text>
<text x="627.80" y="967.75" font-size="7.9" text-anchor="middle" textLength="10.16" lengthAdjust="spacingAndGlyphs" fill="#111" stroke="#111" stroke-width="0.2">0,5</text>
<text x="512.1" y="984.7" font-size="9.7" textLength="10.7" lengthAdjust="spacingAndGlyphs" fill="#111" stroke="#111" stroke-width="0.3">Hz</text>
</svg></body></html>
